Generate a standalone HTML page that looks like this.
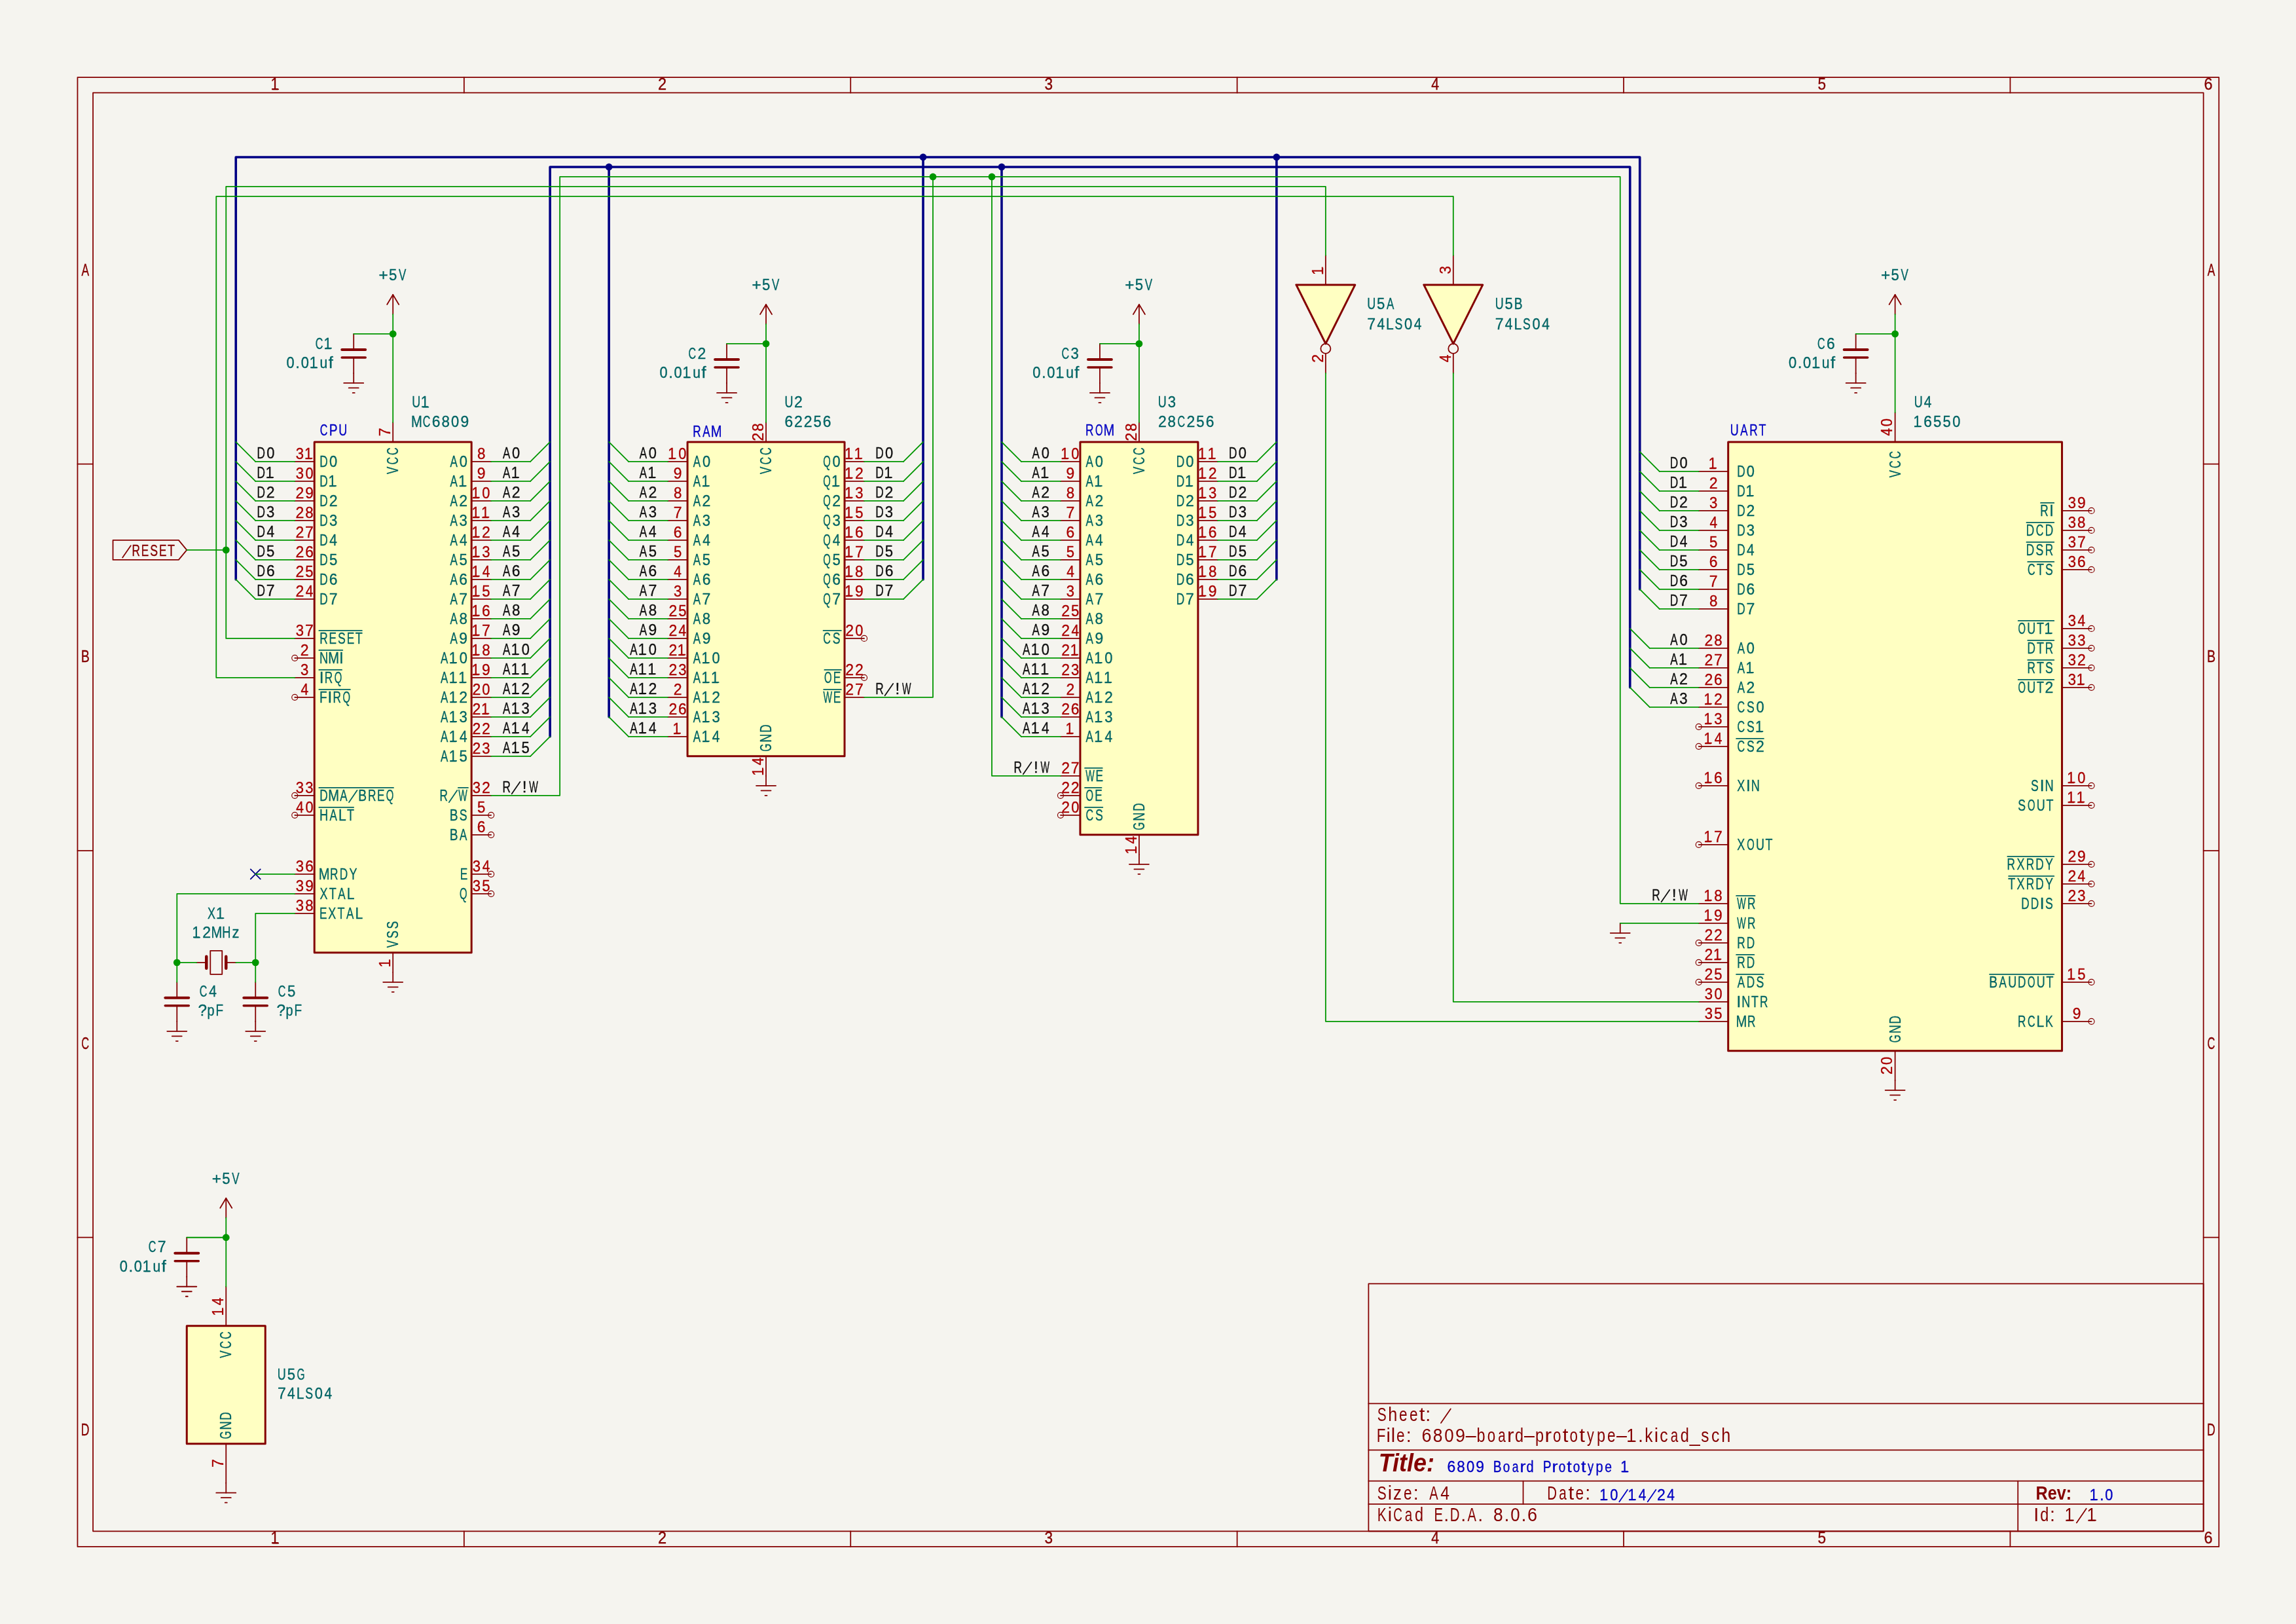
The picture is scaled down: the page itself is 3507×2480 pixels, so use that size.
<!DOCTYPE html><html><head><meta charset="utf-8"><title>6809 Board Prototype 1</title><style>html,body{margin:0;padding:0;background:#F5F4EF;overflow:hidden} #w{will-change:transform;width:3507px;height:2480px}</style></head><body><div id="w"><svg width="3507" height="2480" viewBox="0 0 297 210" preserveAspectRatio="none" style="display:block"><rect x="0" y="0" width="297" height="210" fill="#F5F4EF"/><style>text{stroke-width:0.03px}</style><g transform="translate(0.03 0)" stroke-linecap="round" stroke-linejoin="round" font-family="'Liberation Sans', sans-serif"><rect x="10" y="10" width="277" height="190" fill="none" stroke="#840000" stroke-width="0.15"/>
<rect x="12" y="12" width="273" height="186" fill="none" stroke="#840000" stroke-width="0.15"/>
<line x1="60" y1="10" x2="60" y2="12" stroke="#840000" stroke-width="0.15"/>
<line x1="60" y1="198" x2="60" y2="200" stroke="#840000" stroke-width="0.15"/>
<line x1="110" y1="10" x2="110" y2="12" stroke="#840000" stroke-width="0.15"/>
<line x1="110" y1="198" x2="110" y2="200" stroke="#840000" stroke-width="0.15"/>
<line x1="160" y1="10" x2="160" y2="12" stroke="#840000" stroke-width="0.15"/>
<line x1="160" y1="198" x2="160" y2="200" stroke="#840000" stroke-width="0.15"/>
<line x1="210" y1="10" x2="210" y2="12" stroke="#840000" stroke-width="0.15"/>
<line x1="210" y1="198" x2="210" y2="200" stroke="#840000" stroke-width="0.15"/>
<line x1="260" y1="10" x2="260" y2="12" stroke="#840000" stroke-width="0.15"/>
<line x1="260" y1="198" x2="260" y2="200" stroke="#840000" stroke-width="0.15"/>
<line x1="10" y1="60" x2="12" y2="60" stroke="#840000" stroke-width="0.15"/>
<line x1="285" y1="60" x2="287" y2="60" stroke="#840000" stroke-width="0.15"/>
<line x1="10" y1="110" x2="12" y2="110" stroke="#840000" stroke-width="0.15"/>
<line x1="285" y1="110" x2="287" y2="110" stroke="#840000" stroke-width="0.15"/>
<line x1="10" y1="160" x2="12" y2="160" stroke="#840000" stroke-width="0.15"/>
<line x1="285" y1="160" x2="287" y2="160" stroke="#840000" stroke-width="0.15"/>
<line transform="translate(35 11.62)" x1="0.279" y1="-0.078" x2="0.982" y2="-0.078" stroke="#840000" stroke-width="0.15"/>
<text transform="translate(35 11.62) scale(0.89 1)" x="-0.023" fill="#840000" stroke="#840000" font-size="2.106">1</text>
<line transform="translate(35 199.62)" x1="0.279" y1="-0.078" x2="0.982" y2="-0.078" stroke="#840000" stroke-width="0.15"/>
<text transform="translate(35 199.62) scale(0.89 1)" x="-0.023" fill="#840000" stroke="#840000" font-size="2.106">1</text>
<text transform="translate(85 11.62) scale(0.95 1)" x="0.078" fill="#840000" stroke="#840000" font-size="2.106">2</text>
<text transform="translate(85 199.62) scale(0.95 1)" x="0.078" fill="#840000" stroke="#840000" font-size="2.106">2</text>
<text transform="translate(135 11.62) scale(0.91 1)" x="0.107" fill="#840000" stroke="#840000" font-size="2.106">3</text>
<text transform="translate(135 199.62) scale(0.91 1)" x="0.107" fill="#840000" stroke="#840000" font-size="2.106">3</text>
<text transform="translate(185 11.62) scale(0.86 1)" x="0.148" fill="#840000" stroke="#840000" font-size="2.106">4</text>
<text transform="translate(185 199.62) scale(0.86 1)" x="0.148" fill="#840000" stroke="#840000" font-size="2.106">4</text>
<text transform="translate(235 11.62) scale(0.91 1)" x="0.107" fill="#840000" stroke="#840000" font-size="2.106">5</text>
<text transform="translate(235 199.62) scale(0.91 1)" x="0.107" fill="#840000" stroke="#840000" font-size="2.106">5</text>
<text transform="translate(285 11.62) scale(0.94 1)" x="0.085" fill="#840000" stroke="#840000" font-size="2.106">6</text>
<text transform="translate(285 199.62) scale(0.94 1)" x="0.085" fill="#840000" stroke="#840000" font-size="2.106">6</text>
<text transform="translate(11 35.62) scale(0.7 1)" x="-0.702" fill="#840000" stroke="#840000" font-size="2.106">A</text>
<text transform="translate(286 35.62) scale(0.7 1)" x="-0.702" fill="#840000" stroke="#840000" font-size="2.106">A</text>
<text transform="translate(11 85.62) scale(0.79 1)" x="-0.702" fill="#840000" stroke="#840000" font-size="2.106">B</text>
<text transform="translate(286 85.62) scale(0.79 1)" x="-0.702" fill="#840000" stroke="#840000" font-size="2.106">B</text>
<text transform="translate(11 135.62) scale(0.66 1)" x="-0.76" fill="#840000" stroke="#840000" font-size="2.106">C</text>
<text transform="translate(286 135.62) scale(0.66 1)" x="-0.76" fill="#840000" stroke="#840000" font-size="2.106">C</text>
<text transform="translate(11 185.62) scale(0.71 1)" x="-0.76" fill="#840000" stroke="#840000" font-size="2.106">D</text>
<text transform="translate(286 185.62) scale(0.71 1)" x="-0.76" fill="#840000" stroke="#840000" font-size="2.106">D</text>
<rect x="177" y="166" width="108" height="32" fill="none" stroke="#840000" stroke-width="0.15"/>
<line x1="177" y1="194.5" x2="285" y2="194.5" stroke="#840000" stroke-width="0.15"/>
<line x1="177" y1="191.5" x2="285" y2="191.5" stroke="#840000" stroke-width="0.15"/>
<line x1="177" y1="187.5" x2="285" y2="187.5" stroke="#840000" stroke-width="0.15"/>
<line x1="177" y1="181.5" x2="285" y2="181.5" stroke="#840000" stroke-width="0.15"/>
<line x1="197" y1="191.5" x2="197" y2="194.5" stroke="#840000" stroke-width="0.15"/>
<line x1="261" y1="191.5" x2="261" y2="198" stroke="#840000" stroke-width="0.15"/>
<line transform="translate(178 183.77)" x1="8.363" y1="0.24" x2="9.623" y2="-1.59" stroke="#840000" stroke-width="0.15"/>
<text transform="translate(178 183.77) scale(0.73 1)" x="0.186" fill="#840000" font-size="2.43">S</text>
<text transform="translate(178 183.77) scale(0.88 1)" x="1.745" fill="#840000" font-size="2.43">h</text>
<text transform="translate(178 183.77) scale(0.79 1)" x="3.729 5.438" fill="#840000" font-size="2.43">ee</text>
<text transform="translate(178 183.77) scale(1.09 1)" x="5.091" fill="#840000" font-size="2.43">t</text>
<text transform="translate(178 183.77)" x="6.367" fill="#840000" font-size="2.43">:</text>
<line transform="translate(178 186.46)" x1="32.693" y1="-0.09" x2="33.503" y2="-0.09" stroke="#840000" stroke-width="0.15"/>
<text transform="translate(178 186.46) scale(0.78 1)" x="0.075" fill="#840000" font-size="2.43">F</text>
<text transform="translate(178 186.46)" x="1.305 1.905" fill="#840000" font-size="2.43">il</text>
<text transform="translate(178 186.46) scale(0.79 1)" x="3.312" fill="#840000" font-size="2.43">e</text>
<text transform="translate(178 186.46)" x="3.862" fill="#840000" font-size="2.43">:</text>
<text transform="translate(178 186.46) scale(0.94 1)" x="6.242" fill="#840000" font-size="2.43">6</text>
<text transform="translate(178 186.46) scale(0.92 1)" x="7.974" fill="#840000" font-size="2.43">8</text>
<text transform="translate(178 186.46) scale(0.9 1)" x="9.783" fill="#840000" font-size="2.43">0</text>
<text transform="translate(178 186.46) scale(0.94 1)" x="10.885" fill="#840000" font-size="2.43">9</text>
<text transform="translate(178 186.46)" x="11.557" fill="#840000" font-size="2.43">–</text>
<text transform="translate(178 186.46) scale(0.82 1)" x="15.843" fill="#840000" font-size="2.43">b</text>
<text transform="translate(178 186.46) scale(0.78 1)" x="18.42" fill="#840000" font-size="2.43">o</text>
<text transform="translate(178 186.46) scale(0.72 1)" x="21.887" fill="#840000" font-size="2.43">a</text>
<text transform="translate(178 186.46) scale(1.11 1)" x="15.244" fill="#840000" font-size="2.43">r</text>
<text transform="translate(178 186.46) scale(0.82 1)" x="21.879" fill="#840000" font-size="2.43">d</text>
<text transform="translate(178 186.46)" x="19.132" fill="#840000" font-size="2.43">–</text>
<text transform="translate(178 186.46) scale(0.82 1)" x="25.08" fill="#840000" font-size="2.43">p</text>
<text transform="translate(178 186.46) scale(1.11 1)" x="19.636" fill="#840000" font-size="2.43">r</text>
<text transform="translate(178 186.46) scale(0.78 1)" x="29.286" fill="#840000" font-size="2.43">o</text>
<text transform="translate(178 186.46) scale(1.09 1)" x="22.101" fill="#840000" font-size="2.43">t</text>
<text transform="translate(178 186.46) scale(0.78 1)" x="32.074" fill="#840000" font-size="2.43">o</text>
<text transform="translate(178 186.46) scale(1.09 1)" x="24.096" fill="#840000" font-size="2.43">t</text>
<text transform="translate(178 186.46) scale(0.75 1)" x="36.352" fill="#840000" font-size="2.43">y</text>
<text transform="translate(178 186.46) scale(0.82 1)" x="34.775" fill="#840000" font-size="2.43">p</text>
<text transform="translate(178 186.46) scale(0.79 1)" x="37.831" fill="#840000" font-size="2.43">e</text>
<text transform="translate(178 186.46)" x="31.057" fill="#840000" font-size="2.43">–</text>
<text transform="translate(178 186.46) scale(0.89 1)" x="36.344" fill="#840000" font-size="2.43">1</text>
<text transform="translate(178 186.46)" x="33.862" fill="#840000" font-size="2.43">.</text>
<text transform="translate(178 186.46) scale(0.85 1)" x="40.863" fill="#840000" font-size="2.43">k</text>
<text transform="translate(178 186.46)" x="35.955" fill="#840000" font-size="2.43">i</text>
<text transform="translate(178 186.46) scale(0.86 1)" x="42.648" fill="#840000" font-size="2.43">c</text>
<text transform="translate(178 186.46) scale(0.72 1)" x="52.866" fill="#840000" font-size="2.43">a</text>
<text transform="translate(178 186.46) scale(0.82 1)" x="47.983" fill="#840000" font-size="2.43">d</text>
<text transform="translate(178 186.46)" x="40.537" fill="#840000" font-size="2.43">_</text>
<text transform="translate(178 186.46) scale(0.85 1)" x="49.422" fill="#840000" font-size="2.43">s</text>
<text transform="translate(178 186.46) scale(0.86 1)" x="50.41" fill="#840000" font-size="2.43">c</text>
<text transform="translate(178 186.46) scale(0.88 1)" x="50.716" fill="#840000" font-size="2.43">h</text>
<text transform="translate(178.3 190.3) scale(0.94 1)" fill="#840000" font-size="3.24" font-weight="bold" font-style="italic">Title:</text>
<text transform="translate(178 193.87) scale(0.73 1)" x="0.186" fill="#840000" font-size="2.43">S</text>
<text transform="translate(178 193.87)" x="1.485" fill="#840000" font-size="2.43">i</text>
<text transform="translate(178 193.87) scale(0.9 1)" x="2.426" fill="#840000" font-size="2.43">z</text>
<text transform="translate(178 193.87) scale(0.79 1)" x="4.489" fill="#840000" font-size="2.43">e</text>
<text transform="translate(178 193.87)" x="4.792" fill="#840000" font-size="2.43">:</text>
<text transform="translate(178 193.87) scale(0.7 1)" x="9.807" fill="#840000" font-size="2.43">A</text>
<text transform="translate(178 193.87) scale(0.86 1)" x="9.659" fill="#840000" font-size="2.43">4</text>
<text transform="translate(200 193.87) scale(0.71 1)" x="0.147" fill="#840000" font-size="2.43">D</text>
<text transform="translate(200 193.87) scale(0.72 1)" x="2.283" fill="#840000" font-size="2.43">a</text>
<text transform="translate(200 193.87) scale(1.09 1)" x="2.614" fill="#840000" font-size="2.43">t</text>
<text transform="translate(200 193.87) scale(0.79 1)" x="4.774" fill="#840000" font-size="2.43">e</text>
<text transform="translate(200 193.87)" x="5.017" fill="#840000" font-size="2.43">:</text>
<text transform="translate(263.3 193.87) scale(0.88 1)" fill="#840000" font-size="2.43" font-weight="bold">Rev:</text>
<text transform="translate(178 196.67) scale(0.73 1)" x="0.186" fill="#840000" font-size="2.43">K</text>
<text transform="translate(178 196.67)" x="1.485" fill="#840000" font-size="2.43">i</text>
<text transform="translate(178 196.67) scale(0.66 1)" x="3.338" fill="#840000" font-size="2.43">C</text>
<text transform="translate(178 196.67) scale(0.72 1)" x="5.137" fill="#840000" font-size="2.43">a</text>
<text transform="translate(178 196.67) scale(0.82 1)" x="6.074" fill="#840000" font-size="2.43">d</text>
<text transform="translate(178 196.67) scale(0.71 1)" x="10.524" fill="#840000" font-size="2.43">E</text>
<text transform="translate(178 196.67)" x="8.722" fill="#840000" font-size="2.43">.</text>
<text transform="translate(178 196.67) scale(0.71 1)" x="13.436" fill="#840000" font-size="2.43">D</text>
<text transform="translate(178 196.67)" x="10.927" fill="#840000" font-size="2.43">.</text>
<text transform="translate(178 196.67) scale(0.7 1)" x="16.857" fill="#840000" font-size="2.43">A</text>
<text transform="translate(178 196.67)" x="13.132" fill="#840000" font-size="2.43">.</text>
<text transform="translate(178 196.67) scale(0.92 1)" x="16.468" fill="#840000" font-size="2.43">8</text>
<text transform="translate(178 196.67)" x="16.537" fill="#840000" font-size="2.43">.</text>
<text transform="translate(178 196.67) scale(0.9 1)" x="19.299" fill="#840000" font-size="2.43">0</text>
<text transform="translate(178 196.67)" x="18.742" fill="#840000" font-size="2.43">.</text>
<text transform="translate(178 196.67) scale(0.94 1)" x="20.795" fill="#840000" font-size="2.43">6</text>
<line transform="translate(263 196.67)" x1="5.588" y1="0.24" x2="6.848" y2="-1.59" stroke="#840000" stroke-width="0.15"/>
<line transform="translate(263 196.67)" x1="4.373" y1="-0.09" x2="5.183" y2="-0.09" stroke="#840000" stroke-width="0.15"/>
<line transform="translate(263 196.67)" x1="7.253" y1="-0.09" x2="8.062" y2="-0.09" stroke="#840000" stroke-width="0.15"/>
<text transform="translate(263 196.67)" x="0.037" fill="#840000" font-size="2.43">I</text>
<text transform="translate(263 196.67) scale(0.82 1)" x="1.062" fill="#840000" font-size="2.43">d</text>
<text transform="translate(263 196.67)" x="2.137" fill="#840000" font-size="2.43">:</text>
<text transform="translate(263 196.67) scale(0.89 1)" x="4.524" fill="#840000" font-size="2.43">1</text>
<text transform="translate(263 196.67) scale(0.89 1)" x="7.76" fill="#840000" font-size="2.43">1</text>
<line transform="translate(187.1 190.37)" x1="22.777" y1="-0.076" x2="23.463" y2="-0.076" stroke="#0000C2" stroke-width="0.15"/>
<text transform="translate(187.1 190.37) scale(0.94 1)" x="0.083" fill="#0000C2" stroke="#0000C2" font-size="2.057">6</text>
<text transform="translate(187.1 190.37) scale(0.92 1)" x="1.436" fill="#0000C2" stroke="#0000C2" font-size="2.057">8</text>
<text transform="translate(187.1 190.37) scale(0.9 1)" x="2.85" fill="#0000C2" stroke="#0000C2" font-size="2.057">0</text>
<text transform="translate(187.1 190.37) scale(0.94 1)" x="4.015" fill="#0000C2" stroke="#0000C2" font-size="2.057">9</text>
<text transform="translate(187.1 190.37) scale(0.79 1)" x="7.617" fill="#0000C2" stroke="#0000C2" font-size="2.057">B</text>
<text transform="translate(187.1 190.37) scale(0.78 1)" x="9.36" fill="#0000C2" stroke="#0000C2" font-size="2.057">o</text>
<text transform="translate(187.1 190.37) scale(0.72 1)" x="11.775" fill="#0000C2" stroke="#0000C2" font-size="2.057">a</text>
<text transform="translate(187.1 190.37) scale(1.11 1)" x="8.525" fill="#0000C2" stroke="#0000C2" font-size="2.057">r</text>
<text transform="translate(187.1 190.37) scale(0.82 1)" x="12.593" fill="#0000C2" stroke="#0000C2" font-size="2.057">d</text>
<text transform="translate(187.1 190.37) scale(0.79 1)" x="15.768" fill="#0000C2" stroke="#0000C2" font-size="2.057">P</text>
<text transform="translate(187.1 190.37) scale(1.11 1)" x="12.266" fill="#0000C2" stroke="#0000C2" font-size="2.057">r</text>
<text transform="translate(187.1 190.37) scale(0.78 1)" x="18.592" fill="#0000C2" stroke="#0000C2" font-size="2.057">o</text>
<text transform="translate(187.1 190.37) scale(1.09 1)" x="14.273" fill="#0000C2" stroke="#0000C2" font-size="2.057">t</text>
<text transform="translate(187.1 190.37) scale(0.78 1)" x="20.953" fill="#0000C2" stroke="#0000C2" font-size="2.057">o</text>
<text transform="translate(187.1 190.37) scale(1.09 1)" x="15.962" fill="#0000C2" stroke="#0000C2" font-size="2.057">t</text>
<text transform="translate(187.1 190.37) scale(0.75 1)" x="24.327" fill="#0000C2" stroke="#0000C2" font-size="2.057">y</text>
<text transform="translate(187.1 190.37) scale(0.82 1)" x="23.542" fill="#0000C2" stroke="#0000C2" font-size="2.057">p</text>
<text transform="translate(187.1 190.37) scale(0.79 1)" x="25.905" fill="#0000C2" stroke="#0000C2" font-size="2.057">e</text>
<text transform="translate(187.1 190.37) scale(0.89 1)" x="25.263" fill="#0000C2" stroke="#0000C2" font-size="2.057">1</text>
<line transform="translate(206.9 193.99)" x1="2.534" y1="0.203" x2="3.6" y2="-1.346" stroke="#0000C2" stroke-width="0.15"/>
<line transform="translate(206.9 193.99)" x1="6.204" y1="0.203" x2="7.271" y2="-1.346" stroke="#0000C2" stroke-width="0.15"/>
<line transform="translate(206.9 193.99)" x1="0.273" y1="-0.076" x2="0.959" y2="-0.076" stroke="#0000C2" stroke-width="0.15"/>
<line transform="translate(206.9 193.99)" x1="3.943" y1="-0.076" x2="4.629" y2="-0.076" stroke="#0000C2" stroke-width="0.15"/>
<text transform="translate(206.9 193.99) scale(0.89 1)" x="-0.023" fill="#0000C2" stroke="#0000C2" font-size="2.057">1</text>
<text transform="translate(206.9 193.99) scale(0.9 1)" x="1.481" fill="#0000C2" stroke="#0000C2" font-size="2.057">0</text>
<text transform="translate(206.9 193.99) scale(0.89 1)" x="4.101" fill="#0000C2" stroke="#0000C2" font-size="2.057">1</text>
<text transform="translate(206.9 193.99) scale(0.86 1)" x="5.844" fill="#0000C2" stroke="#0000C2" font-size="2.057">4</text>
<text transform="translate(206.9 193.99) scale(0.95 1)" x="7.803" fill="#0000C2" stroke="#0000C2" font-size="2.057">2</text>
<text transform="translate(206.9 193.99) scale(0.86 1)" x="10.112" fill="#0000C2" stroke="#0000C2" font-size="2.057">4</text>
<line transform="translate(270.3 193.99)" x1="0.273" y1="-0.076" x2="0.959" y2="-0.076" stroke="#0000C2" stroke-width="0.15"/>
<text transform="translate(270.3 193.99) scale(0.89 1)" x="-0.023" fill="#0000C2" stroke="#0000C2" font-size="2.057">1</text>
<text transform="translate(270.3 193.99)" x="1.264" fill="#0000C2" stroke="#0000C2" font-size="2.057">.</text>
<text transform="translate(270.3 193.99) scale(0.9 1)" x="2.187" fill="#0000C2" stroke="#0000C2" font-size="2.057">0</text>
<line x1="209.55" y1="119.38" x2="209.55" y2="120.65" stroke="#840000" stroke-width="0.152"/>
<line x1="208.28" y1="120.65" x2="210.82" y2="120.65" stroke="#840000" stroke-width="0.152"/>
<line x1="208.915" y1="121.285" x2="210.185" y2="121.285" stroke="#840000" stroke-width="0.152"/>
<line x1="209.423" y1="121.92" x2="209.677" y2="121.92" stroke="#840000" stroke-width="0.152"/>
<line x1="32.385" y1="112.395" x2="33.655" y2="113.665" stroke="#000084" stroke-width="0.152"/>
<line x1="32.385" y1="113.665" x2="33.655" y2="112.395" stroke="#000084" stroke-width="0.152"/>
<text transform="translate(33.12 59.27) scale(0.71 1)" x="0.125" fill="#0F0F0F" stroke="#0F0F0F" font-size="2.057">D</text>
<text transform="translate(33.12 59.27) scale(0.9 1)" x="1.481" fill="#0F0F0F" stroke="#0F0F0F" font-size="2.057">0</text>
<text transform="translate(113.13 59.27) scale(0.71 1)" x="0.125" fill="#0F0F0F" stroke="#0F0F0F" font-size="2.057">D</text>
<text transform="translate(113.13 59.27) scale(0.9 1)" x="1.481" fill="#0F0F0F" stroke="#0F0F0F" font-size="2.057">0</text>
<text transform="translate(158.85 59.27) scale(0.71 1)" x="0.125" fill="#0F0F0F" stroke="#0F0F0F" font-size="2.057">D</text>
<text transform="translate(158.85 59.27) scale(0.9 1)" x="1.481" fill="#0F0F0F" stroke="#0F0F0F" font-size="2.057">0</text>
<text transform="translate(218.36 60.54) scale(0.71 1)" x="-3.345" fill="#0F0F0F" stroke="#0F0F0F" font-size="2.057">D</text>
<text transform="translate(218.36 60.54) scale(0.9 1)" x="-1.257" fill="#0F0F0F" stroke="#0F0F0F" font-size="2.057">0</text>
<line transform="translate(33.12 61.81)" x1="1.505" y1="-0.076" x2="2.191" y2="-0.076" stroke="#0F0F0F" stroke-width="0.15"/>
<text transform="translate(33.12 61.81) scale(0.71 1)" x="0.125" fill="#0F0F0F" stroke="#0F0F0F" font-size="2.057">D</text>
<text transform="translate(33.12 61.81) scale(0.89 1)" x="1.361" fill="#0F0F0F" stroke="#0F0F0F" font-size="2.057">1</text>
<line transform="translate(113.13 61.81)" x1="1.505" y1="-0.076" x2="2.191" y2="-0.076" stroke="#0F0F0F" stroke-width="0.15"/>
<text transform="translate(113.13 61.81) scale(0.71 1)" x="0.125" fill="#0F0F0F" stroke="#0F0F0F" font-size="2.057">D</text>
<text transform="translate(113.13 61.81) scale(0.89 1)" x="1.361" fill="#0F0F0F" stroke="#0F0F0F" font-size="2.057">1</text>
<line transform="translate(158.85 61.81)" x1="1.505" y1="-0.076" x2="2.191" y2="-0.076" stroke="#0F0F0F" stroke-width="0.15"/>
<text transform="translate(158.85 61.81) scale(0.71 1)" x="0.125" fill="#0F0F0F" stroke="#0F0F0F" font-size="2.057">D</text>
<text transform="translate(158.85 61.81) scale(0.89 1)" x="1.361" fill="#0F0F0F" stroke="#0F0F0F" font-size="2.057">1</text>
<line transform="translate(218.36 63.08)" x1="-0.959" y1="-0.076" x2="-0.273" y2="-0.076" stroke="#0F0F0F" stroke-width="0.15"/>
<text transform="translate(218.36 63.08) scale(0.71 1)" x="-3.345" fill="#0F0F0F" stroke="#0F0F0F" font-size="2.057">D</text>
<text transform="translate(218.36 63.08) scale(0.89 1)" x="-1.407" fill="#0F0F0F" stroke="#0F0F0F" font-size="2.057">1</text>
<text transform="translate(33.12 64.35) scale(0.71 1)" x="0.125" fill="#0F0F0F" stroke="#0F0F0F" font-size="2.057">D</text>
<text transform="translate(33.12 64.35) scale(0.95 1)" x="1.373" fill="#0F0F0F" stroke="#0F0F0F" font-size="2.057">2</text>
<text transform="translate(113.13 64.35) scale(0.71 1)" x="0.125" fill="#0F0F0F" stroke="#0F0F0F" font-size="2.057">D</text>
<text transform="translate(113.13 64.35) scale(0.95 1)" x="1.373" fill="#0F0F0F" stroke="#0F0F0F" font-size="2.057">2</text>
<text transform="translate(158.85 64.35) scale(0.71 1)" x="0.125" fill="#0F0F0F" stroke="#0F0F0F" font-size="2.057">D</text>
<text transform="translate(158.85 64.35) scale(0.95 1)" x="1.373" fill="#0F0F0F" stroke="#0F0F0F" font-size="2.057">2</text>
<text transform="translate(218.36 65.62) scale(0.71 1)" x="-3.345" fill="#0F0F0F" stroke="#0F0F0F" font-size="2.057">D</text>
<text transform="translate(218.36 65.62) scale(0.95 1)" x="-1.22" fill="#0F0F0F" stroke="#0F0F0F" font-size="2.057">2</text>
<text transform="translate(33.12 66.89) scale(0.71 1)" x="0.125" fill="#0F0F0F" stroke="#0F0F0F" font-size="2.057">D</text>
<text transform="translate(33.12 66.89) scale(0.91 1)" x="1.458" fill="#0F0F0F" stroke="#0F0F0F" font-size="2.057">3</text>
<text transform="translate(113.13 66.89) scale(0.71 1)" x="0.125" fill="#0F0F0F" stroke="#0F0F0F" font-size="2.057">D</text>
<text transform="translate(113.13 66.89) scale(0.91 1)" x="1.458" fill="#0F0F0F" stroke="#0F0F0F" font-size="2.057">3</text>
<text transform="translate(158.85 66.89) scale(0.71 1)" x="0.125" fill="#0F0F0F" stroke="#0F0F0F" font-size="2.057">D</text>
<text transform="translate(158.85 66.89) scale(0.91 1)" x="1.458" fill="#0F0F0F" stroke="#0F0F0F" font-size="2.057">3</text>
<text transform="translate(218.36 68.16) scale(0.71 1)" x="-3.345" fill="#0F0F0F" stroke="#0F0F0F" font-size="2.057">D</text>
<text transform="translate(218.36 68.16) scale(0.91 1)" x="-1.249" fill="#0F0F0F" stroke="#0F0F0F" font-size="2.057">3</text>
<text transform="translate(33.12 69.43) scale(0.71 1)" x="0.125" fill="#0F0F0F" stroke="#0F0F0F" font-size="2.057">D</text>
<text transform="translate(33.12 69.43) scale(0.86 1)" x="1.577" fill="#0F0F0F" stroke="#0F0F0F" font-size="2.057">4</text>
<text transform="translate(113.13 69.43) scale(0.71 1)" x="0.125" fill="#0F0F0F" stroke="#0F0F0F" font-size="2.057">D</text>
<text transform="translate(113.13 69.43) scale(0.86 1)" x="1.577" fill="#0F0F0F" stroke="#0F0F0F" font-size="2.057">4</text>
<text transform="translate(158.85 69.43) scale(0.71 1)" x="0.125" fill="#0F0F0F" stroke="#0F0F0F" font-size="2.057">D</text>
<text transform="translate(158.85 69.43) scale(0.86 1)" x="1.577" fill="#0F0F0F" stroke="#0F0F0F" font-size="2.057">4</text>
<text transform="translate(218.36 70.7) scale(0.71 1)" x="-3.345" fill="#0F0F0F" stroke="#0F0F0F" font-size="2.057">D</text>
<text transform="translate(218.36 70.7) scale(0.86 1)" x="-1.288" fill="#0F0F0F" stroke="#0F0F0F" font-size="2.057">4</text>
<text transform="translate(33.12 71.97) scale(0.71 1)" x="0.125" fill="#0F0F0F" stroke="#0F0F0F" font-size="2.057">D</text>
<text transform="translate(33.12 71.97) scale(0.91 1)" x="1.458" fill="#0F0F0F" stroke="#0F0F0F" font-size="2.057">5</text>
<text transform="translate(113.13 71.97) scale(0.71 1)" x="0.125" fill="#0F0F0F" stroke="#0F0F0F" font-size="2.057">D</text>
<text transform="translate(113.13 71.97) scale(0.91 1)" x="1.458" fill="#0F0F0F" stroke="#0F0F0F" font-size="2.057">5</text>
<text transform="translate(158.85 71.97) scale(0.71 1)" x="0.125" fill="#0F0F0F" stroke="#0F0F0F" font-size="2.057">D</text>
<text transform="translate(158.85 71.97) scale(0.91 1)" x="1.458" fill="#0F0F0F" stroke="#0F0F0F" font-size="2.057">5</text>
<text transform="translate(218.36 73.24) scale(0.71 1)" x="-3.345" fill="#0F0F0F" stroke="#0F0F0F" font-size="2.057">D</text>
<text transform="translate(218.36 73.24) scale(0.91 1)" x="-1.249" fill="#0F0F0F" stroke="#0F0F0F" font-size="2.057">5</text>
<text transform="translate(33.12 74.51) scale(0.71 1)" x="0.125" fill="#0F0F0F" stroke="#0F0F0F" font-size="2.057">D</text>
<text transform="translate(33.12 74.51) scale(0.94 1)" x="1.394" fill="#0F0F0F" stroke="#0F0F0F" font-size="2.057">6</text>
<text transform="translate(113.13 74.51) scale(0.71 1)" x="0.125" fill="#0F0F0F" stroke="#0F0F0F" font-size="2.057">D</text>
<text transform="translate(113.13 74.51) scale(0.94 1)" x="1.394" fill="#0F0F0F" stroke="#0F0F0F" font-size="2.057">6</text>
<text transform="translate(158.85 74.51) scale(0.71 1)" x="0.125" fill="#0F0F0F" stroke="#0F0F0F" font-size="2.057">D</text>
<text transform="translate(158.85 74.51) scale(0.94 1)" x="1.394" fill="#0F0F0F" stroke="#0F0F0F" font-size="2.057">6</text>
<text transform="translate(218.36 75.78) scale(0.71 1)" x="-3.345" fill="#0F0F0F" stroke="#0F0F0F" font-size="2.057">D</text>
<text transform="translate(218.36 75.78) scale(0.94 1)" x="-1.227" fill="#0F0F0F" stroke="#0F0F0F" font-size="2.057">6</text>
<text transform="translate(33.12 77.05) scale(0.71 1)" x="0.125" fill="#0F0F0F" stroke="#0F0F0F" font-size="2.057">D</text>
<text transform="translate(33.12 77.05) scale(0.95 1)" x="1.373" fill="#0F0F0F" stroke="#0F0F0F" font-size="2.057">7</text>
<text transform="translate(113.13 77.05) scale(0.71 1)" x="0.125" fill="#0F0F0F" stroke="#0F0F0F" font-size="2.057">D</text>
<text transform="translate(113.13 77.05) scale(0.95 1)" x="1.373" fill="#0F0F0F" stroke="#0F0F0F" font-size="2.057">7</text>
<text transform="translate(158.85 77.05) scale(0.71 1)" x="0.125" fill="#0F0F0F" stroke="#0F0F0F" font-size="2.057">D</text>
<text transform="translate(158.85 77.05) scale(0.95 1)" x="1.373" fill="#0F0F0F" stroke="#0F0F0F" font-size="2.057">7</text>
<text transform="translate(218.36 78.32) scale(0.71 1)" x="-3.345" fill="#0F0F0F" stroke="#0F0F0F" font-size="2.057">D</text>
<text transform="translate(218.36 78.32) scale(0.95 1)" x="-1.22" fill="#0F0F0F" stroke="#0F0F0F" font-size="2.057">7</text>
<text transform="translate(64.87 59.27) scale(0.7 1)" x="0.194" fill="#0F0F0F" stroke="#0F0F0F" font-size="2.057">A</text>
<text transform="translate(64.87 59.27) scale(0.9 1)" x="1.481" fill="#0F0F0F" stroke="#0F0F0F" font-size="2.057">0</text>
<line transform="translate(64.87 61.81)" x1="1.505" y1="-0.076" x2="2.191" y2="-0.076" stroke="#0F0F0F" stroke-width="0.15"/>
<text transform="translate(64.87 61.81) scale(0.7 1)" x="0.194" fill="#0F0F0F" stroke="#0F0F0F" font-size="2.057">A</text>
<text transform="translate(64.87 61.81) scale(0.89 1)" x="1.361" fill="#0F0F0F" stroke="#0F0F0F" font-size="2.057">1</text>
<text transform="translate(64.87 64.35) scale(0.7 1)" x="0.194" fill="#0F0F0F" stroke="#0F0F0F" font-size="2.057">A</text>
<text transform="translate(64.87 64.35) scale(0.95 1)" x="1.373" fill="#0F0F0F" stroke="#0F0F0F" font-size="2.057">2</text>
<text transform="translate(64.87 66.89) scale(0.7 1)" x="0.194" fill="#0F0F0F" stroke="#0F0F0F" font-size="2.057">A</text>
<text transform="translate(64.87 66.89) scale(0.91 1)" x="1.458" fill="#0F0F0F" stroke="#0F0F0F" font-size="2.057">3</text>
<text transform="translate(64.87 69.43) scale(0.7 1)" x="0.194" fill="#0F0F0F" stroke="#0F0F0F" font-size="2.057">A</text>
<text transform="translate(64.87 69.43) scale(0.86 1)" x="1.577" fill="#0F0F0F" stroke="#0F0F0F" font-size="2.057">4</text>
<text transform="translate(64.87 71.97) scale(0.7 1)" x="0.194" fill="#0F0F0F" stroke="#0F0F0F" font-size="2.057">A</text>
<text transform="translate(64.87 71.97) scale(0.91 1)" x="1.458" fill="#0F0F0F" stroke="#0F0F0F" font-size="2.057">5</text>
<text transform="translate(64.87 74.51) scale(0.7 1)" x="0.194" fill="#0F0F0F" stroke="#0F0F0F" font-size="2.057">A</text>
<text transform="translate(64.87 74.51) scale(0.94 1)" x="1.394" fill="#0F0F0F" stroke="#0F0F0F" font-size="2.057">6</text>
<text transform="translate(64.87 77.05) scale(0.7 1)" x="0.194" fill="#0F0F0F" stroke="#0F0F0F" font-size="2.057">A</text>
<text transform="translate(64.87 77.05) scale(0.95 1)" x="1.373" fill="#0F0F0F" stroke="#0F0F0F" font-size="2.057">7</text>
<text transform="translate(64.87 79.59) scale(0.7 1)" x="0.194" fill="#0F0F0F" stroke="#0F0F0F" font-size="2.057">A</text>
<text transform="translate(64.87 79.59) scale(0.92 1)" x="1.436" fill="#0F0F0F" stroke="#0F0F0F" font-size="2.057">8</text>
<text transform="translate(64.87 82.13) scale(0.7 1)" x="0.194" fill="#0F0F0F" stroke="#0F0F0F" font-size="2.057">A</text>
<text transform="translate(64.87 82.13) scale(0.94 1)" x="1.394" fill="#0F0F0F" stroke="#0F0F0F" font-size="2.057">9</text>
<line transform="translate(64.87 84.67)" x1="1.505" y1="-0.076" x2="2.191" y2="-0.076" stroke="#0F0F0F" stroke-width="0.15"/>
<text transform="translate(64.87 84.67) scale(0.7 1)" x="0.194" fill="#0F0F0F" stroke="#0F0F0F" font-size="2.057">A</text>
<text transform="translate(64.87 84.67) scale(0.89 1)" x="1.361" fill="#0F0F0F" stroke="#0F0F0F" font-size="2.057">1</text>
<text transform="translate(64.87 84.67) scale(0.9 1)" x="2.85" fill="#0F0F0F" stroke="#0F0F0F" font-size="2.057">0</text>
<line transform="translate(64.87 87.21)" x1="1.505" y1="-0.076" x2="2.191" y2="-0.076" stroke="#0F0F0F" stroke-width="0.15"/>
<line transform="translate(64.87 87.21)" x1="2.737" y1="-0.076" x2="3.423" y2="-0.076" stroke="#0F0F0F" stroke-width="0.15"/>
<text transform="translate(64.87 87.21) scale(0.7 1)" x="0.194" fill="#0F0F0F" stroke="#0F0F0F" font-size="2.057">A</text>
<text transform="translate(64.87 87.21) scale(0.89 1)" x="1.361 2.746" fill="#0F0F0F" stroke="#0F0F0F" font-size="2.057">11</text>
<line transform="translate(64.87 89.75)" x1="1.505" y1="-0.076" x2="2.191" y2="-0.076" stroke="#0F0F0F" stroke-width="0.15"/>
<text transform="translate(64.87 89.75) scale(0.7 1)" x="0.194" fill="#0F0F0F" stroke="#0F0F0F" font-size="2.057">A</text>
<text transform="translate(64.87 89.75) scale(0.89 1)" x="1.361" fill="#0F0F0F" stroke="#0F0F0F" font-size="2.057">1</text>
<text transform="translate(64.87 89.75) scale(0.95 1)" x="2.67" fill="#0F0F0F" stroke="#0F0F0F" font-size="2.057">2</text>
<line transform="translate(64.87 92.29)" x1="1.505" y1="-0.076" x2="2.191" y2="-0.076" stroke="#0F0F0F" stroke-width="0.15"/>
<text transform="translate(64.87 92.29) scale(0.7 1)" x="0.194" fill="#0F0F0F" stroke="#0F0F0F" font-size="2.057">A</text>
<text transform="translate(64.87 92.29) scale(0.89 1)" x="1.361" fill="#0F0F0F" stroke="#0F0F0F" font-size="2.057">1</text>
<text transform="translate(64.87 92.29) scale(0.91 1)" x="2.812" fill="#0F0F0F" stroke="#0F0F0F" font-size="2.057">3</text>
<line transform="translate(64.87 94.83)" x1="1.505" y1="-0.076" x2="2.191" y2="-0.076" stroke="#0F0F0F" stroke-width="0.15"/>
<text transform="translate(64.87 94.83) scale(0.7 1)" x="0.194" fill="#0F0F0F" stroke="#0F0F0F" font-size="2.057">A</text>
<text transform="translate(64.87 94.83) scale(0.89 1)" x="1.361" fill="#0F0F0F" stroke="#0F0F0F" font-size="2.057">1</text>
<text transform="translate(64.87 94.83) scale(0.86 1)" x="3.009" fill="#0F0F0F" stroke="#0F0F0F" font-size="2.057">4</text>
<line transform="translate(64.87 97.37)" x1="1.505" y1="-0.076" x2="2.191" y2="-0.076" stroke="#0F0F0F" stroke-width="0.15"/>
<text transform="translate(64.87 97.37) scale(0.7 1)" x="0.194" fill="#0F0F0F" stroke="#0F0F0F" font-size="2.057">A</text>
<text transform="translate(64.87 97.37) scale(0.89 1)" x="1.361" fill="#0F0F0F" stroke="#0F0F0F" font-size="2.057">1</text>
<text transform="translate(64.87 97.37) scale(0.91 1)" x="2.812" fill="#0F0F0F" stroke="#0F0F0F" font-size="2.057">5</text>
<text transform="translate(85.01 59.27) scale(0.7 1)" x="-3.326" fill="#0F0F0F" stroke="#0F0F0F" font-size="2.057">A</text>
<text transform="translate(85.01 59.27) scale(0.9 1)" x="-1.257" fill="#0F0F0F" stroke="#0F0F0F" font-size="2.057">0</text>
<text transform="translate(135.81 59.27) scale(0.7 1)" x="-3.326" fill="#0F0F0F" stroke="#0F0F0F" font-size="2.057">A</text>
<text transform="translate(135.81 59.27) scale(0.9 1)" x="-1.257" fill="#0F0F0F" stroke="#0F0F0F" font-size="2.057">0</text>
<line transform="translate(85.01 61.81)" x1="-0.959" y1="-0.076" x2="-0.273" y2="-0.076" stroke="#0F0F0F" stroke-width="0.15"/>
<text transform="translate(85.01 61.81) scale(0.7 1)" x="-3.326" fill="#0F0F0F" stroke="#0F0F0F" font-size="2.057">A</text>
<text transform="translate(85.01 61.81) scale(0.89 1)" x="-1.407" fill="#0F0F0F" stroke="#0F0F0F" font-size="2.057">1</text>
<line transform="translate(135.81 61.81)" x1="-0.959" y1="-0.076" x2="-0.273" y2="-0.076" stroke="#0F0F0F" stroke-width="0.15"/>
<text transform="translate(135.81 61.81) scale(0.7 1)" x="-3.326" fill="#0F0F0F" stroke="#0F0F0F" font-size="2.057">A</text>
<text transform="translate(135.81 61.81) scale(0.89 1)" x="-1.407" fill="#0F0F0F" stroke="#0F0F0F" font-size="2.057">1</text>
<text transform="translate(85.01 64.35) scale(0.7 1)" x="-3.326" fill="#0F0F0F" stroke="#0F0F0F" font-size="2.057">A</text>
<text transform="translate(85.01 64.35) scale(0.95 1)" x="-1.22" fill="#0F0F0F" stroke="#0F0F0F" font-size="2.057">2</text>
<text transform="translate(135.81 64.35) scale(0.7 1)" x="-3.326" fill="#0F0F0F" stroke="#0F0F0F" font-size="2.057">A</text>
<text transform="translate(135.81 64.35) scale(0.95 1)" x="-1.22" fill="#0F0F0F" stroke="#0F0F0F" font-size="2.057">2</text>
<text transform="translate(85.01 66.89) scale(0.7 1)" x="-3.326" fill="#0F0F0F" stroke="#0F0F0F" font-size="2.057">A</text>
<text transform="translate(85.01 66.89) scale(0.91 1)" x="-1.249" fill="#0F0F0F" stroke="#0F0F0F" font-size="2.057">3</text>
<text transform="translate(135.81 66.89) scale(0.7 1)" x="-3.326" fill="#0F0F0F" stroke="#0F0F0F" font-size="2.057">A</text>
<text transform="translate(135.81 66.89) scale(0.91 1)" x="-1.249" fill="#0F0F0F" stroke="#0F0F0F" font-size="2.057">3</text>
<text transform="translate(85.01 69.43) scale(0.7 1)" x="-3.326" fill="#0F0F0F" stroke="#0F0F0F" font-size="2.057">A</text>
<text transform="translate(85.01 69.43) scale(0.86 1)" x="-1.288" fill="#0F0F0F" stroke="#0F0F0F" font-size="2.057">4</text>
<text transform="translate(135.81 69.43) scale(0.7 1)" x="-3.326" fill="#0F0F0F" stroke="#0F0F0F" font-size="2.057">A</text>
<text transform="translate(135.81 69.43) scale(0.86 1)" x="-1.288" fill="#0F0F0F" stroke="#0F0F0F" font-size="2.057">4</text>
<text transform="translate(85.01 71.97) scale(0.7 1)" x="-3.326" fill="#0F0F0F" stroke="#0F0F0F" font-size="2.057">A</text>
<text transform="translate(85.01 71.97) scale(0.91 1)" x="-1.249" fill="#0F0F0F" stroke="#0F0F0F" font-size="2.057">5</text>
<text transform="translate(135.81 71.97) scale(0.7 1)" x="-3.326" fill="#0F0F0F" stroke="#0F0F0F" font-size="2.057">A</text>
<text transform="translate(135.81 71.97) scale(0.91 1)" x="-1.249" fill="#0F0F0F" stroke="#0F0F0F" font-size="2.057">5</text>
<text transform="translate(85.01 74.51) scale(0.7 1)" x="-3.326" fill="#0F0F0F" stroke="#0F0F0F" font-size="2.057">A</text>
<text transform="translate(85.01 74.51) scale(0.94 1)" x="-1.227" fill="#0F0F0F" stroke="#0F0F0F" font-size="2.057">6</text>
<text transform="translate(135.81 74.51) scale(0.7 1)" x="-3.326" fill="#0F0F0F" stroke="#0F0F0F" font-size="2.057">A</text>
<text transform="translate(135.81 74.51) scale(0.94 1)" x="-1.227" fill="#0F0F0F" stroke="#0F0F0F" font-size="2.057">6</text>
<text transform="translate(85.01 77.05) scale(0.7 1)" x="-3.326" fill="#0F0F0F" stroke="#0F0F0F" font-size="2.057">A</text>
<text transform="translate(85.01 77.05) scale(0.95 1)" x="-1.22" fill="#0F0F0F" stroke="#0F0F0F" font-size="2.057">7</text>
<text transform="translate(135.81 77.05) scale(0.7 1)" x="-3.326" fill="#0F0F0F" stroke="#0F0F0F" font-size="2.057">A</text>
<text transform="translate(135.81 77.05) scale(0.95 1)" x="-1.22" fill="#0F0F0F" stroke="#0F0F0F" font-size="2.057">7</text>
<text transform="translate(85.01 79.59) scale(0.7 1)" x="-3.326" fill="#0F0F0F" stroke="#0F0F0F" font-size="2.057">A</text>
<text transform="translate(85.01 79.59) scale(0.92 1)" x="-1.242" fill="#0F0F0F" stroke="#0F0F0F" font-size="2.057">8</text>
<text transform="translate(135.81 79.59) scale(0.7 1)" x="-3.326" fill="#0F0F0F" stroke="#0F0F0F" font-size="2.057">A</text>
<text transform="translate(135.81 79.59) scale(0.92 1)" x="-1.242" fill="#0F0F0F" stroke="#0F0F0F" font-size="2.057">8</text>
<text transform="translate(85.01 82.13) scale(0.7 1)" x="-3.326" fill="#0F0F0F" stroke="#0F0F0F" font-size="2.057">A</text>
<text transform="translate(85.01 82.13) scale(0.94 1)" x="-1.227" fill="#0F0F0F" stroke="#0F0F0F" font-size="2.057">9</text>
<text transform="translate(135.81 82.13) scale(0.7 1)" x="-3.326" fill="#0F0F0F" stroke="#0F0F0F" font-size="2.057">A</text>
<text transform="translate(135.81 82.13) scale(0.94 1)" x="-1.227" fill="#0F0F0F" stroke="#0F0F0F" font-size="2.057">9</text>
<line transform="translate(85.01 84.67)" x1="-2.191" y1="-0.076" x2="-1.505" y2="-0.076" stroke="#0F0F0F" stroke-width="0.15"/>
<text transform="translate(85.01 84.67) scale(0.7 1)" x="-5.086" fill="#0F0F0F" stroke="#0F0F0F" font-size="2.057">A</text>
<text transform="translate(85.01 84.67) scale(0.89 1)" x="-2.791" fill="#0F0F0F" stroke="#0F0F0F" font-size="2.057">1</text>
<text transform="translate(85.01 84.67) scale(0.9 1)" x="-1.257" fill="#0F0F0F" stroke="#0F0F0F" font-size="2.057">0</text>
<line transform="translate(135.81 84.67)" x1="-2.191" y1="-0.076" x2="-1.505" y2="-0.076" stroke="#0F0F0F" stroke-width="0.15"/>
<text transform="translate(135.81 84.67) scale(0.7 1)" x="-5.086" fill="#0F0F0F" stroke="#0F0F0F" font-size="2.057">A</text>
<text transform="translate(135.81 84.67) scale(0.89 1)" x="-2.791" fill="#0F0F0F" stroke="#0F0F0F" font-size="2.057">1</text>
<text transform="translate(135.81 84.67) scale(0.9 1)" x="-1.257" fill="#0F0F0F" stroke="#0F0F0F" font-size="2.057">0</text>
<line transform="translate(85.01 87.21)" x1="-2.191" y1="-0.076" x2="-1.505" y2="-0.076" stroke="#0F0F0F" stroke-width="0.15"/>
<line transform="translate(85.01 87.21)" x1="-0.959" y1="-0.076" x2="-0.273" y2="-0.076" stroke="#0F0F0F" stroke-width="0.15"/>
<text transform="translate(85.01 87.21) scale(0.7 1)" x="-5.086" fill="#0F0F0F" stroke="#0F0F0F" font-size="2.057">A</text>
<text transform="translate(85.01 87.21) scale(0.89 1)" x="-2.791 -1.407" fill="#0F0F0F" stroke="#0F0F0F" font-size="2.057">11</text>
<line transform="translate(135.81 87.21)" x1="-2.191" y1="-0.076" x2="-1.505" y2="-0.076" stroke="#0F0F0F" stroke-width="0.15"/>
<line transform="translate(135.81 87.21)" x1="-0.959" y1="-0.076" x2="-0.273" y2="-0.076" stroke="#0F0F0F" stroke-width="0.15"/>
<text transform="translate(135.81 87.21) scale(0.7 1)" x="-5.086" fill="#0F0F0F" stroke="#0F0F0F" font-size="2.057">A</text>
<text transform="translate(135.81 87.21) scale(0.89 1)" x="-2.791 -1.407" fill="#0F0F0F" stroke="#0F0F0F" font-size="2.057">11</text>
<line transform="translate(85.01 89.75)" x1="-2.191" y1="-0.076" x2="-1.505" y2="-0.076" stroke="#0F0F0F" stroke-width="0.15"/>
<text transform="translate(85.01 89.75) scale(0.7 1)" x="-5.086" fill="#0F0F0F" stroke="#0F0F0F" font-size="2.057">A</text>
<text transform="translate(85.01 89.75) scale(0.89 1)" x="-2.791" fill="#0F0F0F" stroke="#0F0F0F" font-size="2.057">1</text>
<text transform="translate(85.01 89.75) scale(0.95 1)" x="-1.22" fill="#0F0F0F" stroke="#0F0F0F" font-size="2.057">2</text>
<line transform="translate(135.81 89.75)" x1="-2.191" y1="-0.076" x2="-1.505" y2="-0.076" stroke="#0F0F0F" stroke-width="0.15"/>
<text transform="translate(135.81 89.75) scale(0.7 1)" x="-5.086" fill="#0F0F0F" stroke="#0F0F0F" font-size="2.057">A</text>
<text transform="translate(135.81 89.75) scale(0.89 1)" x="-2.791" fill="#0F0F0F" stroke="#0F0F0F" font-size="2.057">1</text>
<text transform="translate(135.81 89.75) scale(0.95 1)" x="-1.22" fill="#0F0F0F" stroke="#0F0F0F" font-size="2.057">2</text>
<line transform="translate(85.01 92.29)" x1="-2.191" y1="-0.076" x2="-1.505" y2="-0.076" stroke="#0F0F0F" stroke-width="0.15"/>
<text transform="translate(85.01 92.29) scale(0.7 1)" x="-5.086" fill="#0F0F0F" stroke="#0F0F0F" font-size="2.057">A</text>
<text transform="translate(85.01 92.29) scale(0.89 1)" x="-2.791" fill="#0F0F0F" stroke="#0F0F0F" font-size="2.057">1</text>
<text transform="translate(85.01 92.29) scale(0.91 1)" x="-1.249" fill="#0F0F0F" stroke="#0F0F0F" font-size="2.057">3</text>
<line transform="translate(135.81 92.29)" x1="-2.191" y1="-0.076" x2="-1.505" y2="-0.076" stroke="#0F0F0F" stroke-width="0.15"/>
<text transform="translate(135.81 92.29) scale(0.7 1)" x="-5.086" fill="#0F0F0F" stroke="#0F0F0F" font-size="2.057">A</text>
<text transform="translate(135.81 92.29) scale(0.89 1)" x="-2.791" fill="#0F0F0F" stroke="#0F0F0F" font-size="2.057">1</text>
<text transform="translate(135.81 92.29) scale(0.91 1)" x="-1.249" fill="#0F0F0F" stroke="#0F0F0F" font-size="2.057">3</text>
<line transform="translate(85.01 94.83)" x1="-2.191" y1="-0.076" x2="-1.505" y2="-0.076" stroke="#0F0F0F" stroke-width="0.15"/>
<text transform="translate(85.01 94.83) scale(0.7 1)" x="-5.086" fill="#0F0F0F" stroke="#0F0F0F" font-size="2.057">A</text>
<text transform="translate(85.01 94.83) scale(0.89 1)" x="-2.791" fill="#0F0F0F" stroke="#0F0F0F" font-size="2.057">1</text>
<text transform="translate(85.01 94.83) scale(0.86 1)" x="-1.288" fill="#0F0F0F" stroke="#0F0F0F" font-size="2.057">4</text>
<line transform="translate(135.81 94.83)" x1="-2.191" y1="-0.076" x2="-1.505" y2="-0.076" stroke="#0F0F0F" stroke-width="0.15"/>
<text transform="translate(135.81 94.83) scale(0.7 1)" x="-5.086" fill="#0F0F0F" stroke="#0F0F0F" font-size="2.057">A</text>
<text transform="translate(135.81 94.83) scale(0.89 1)" x="-2.791" fill="#0F0F0F" stroke="#0F0F0F" font-size="2.057">1</text>
<text transform="translate(135.81 94.83) scale(0.86 1)" x="-1.288" fill="#0F0F0F" stroke="#0F0F0F" font-size="2.057">4</text>
<text transform="translate(218.36 83.4) scale(0.7 1)" x="-3.326" fill="#0F0F0F" stroke="#0F0F0F" font-size="2.057">A</text>
<text transform="translate(218.36 83.4) scale(0.9 1)" x="-1.257" fill="#0F0F0F" stroke="#0F0F0F" font-size="2.057">0</text>
<line transform="translate(218.36 85.94)" x1="-0.959" y1="-0.076" x2="-0.273" y2="-0.076" stroke="#0F0F0F" stroke-width="0.15"/>
<text transform="translate(218.36 85.94) scale(0.7 1)" x="-3.326" fill="#0F0F0F" stroke="#0F0F0F" font-size="2.057">A</text>
<text transform="translate(218.36 85.94) scale(0.89 1)" x="-1.407" fill="#0F0F0F" stroke="#0F0F0F" font-size="2.057">1</text>
<text transform="translate(218.36 88.48) scale(0.7 1)" x="-3.326" fill="#0F0F0F" stroke="#0F0F0F" font-size="2.057">A</text>
<text transform="translate(218.36 88.48) scale(0.95 1)" x="-1.22" fill="#0F0F0F" stroke="#0F0F0F" font-size="2.057">2</text>
<text transform="translate(218.36 91.02) scale(0.7 1)" x="-3.326" fill="#0F0F0F" stroke="#0F0F0F" font-size="2.057">A</text>
<text transform="translate(218.36 91.02) scale(0.91 1)" x="-1.249" fill="#0F0F0F" stroke="#0F0F0F" font-size="2.057">3</text>
<line transform="translate(64.87 102.45)" x1="1.302" y1="0.203" x2="2.369" y2="-1.346" stroke="#0F0F0F" stroke-width="0.15"/>
<text transform="translate(64.87 102.45) scale(0.71 1)" x="0.125" fill="#0F0F0F" stroke="#0F0F0F" font-size="2.057">R</text>
<text transform="translate(64.87 102.45)" x="2.661" fill="#0F0F0F" stroke="#0F0F0F" font-size="2.057">!</text>
<text transform="translate(64.87 102.45) scale(0.59 1)" x="6.014" fill="#0F0F0F" stroke="#0F0F0F" font-size="2.057">W</text>
<line transform="translate(113.13 89.75)" x1="1.302" y1="0.203" x2="2.369" y2="-1.346" stroke="#0F0F0F" stroke-width="0.15"/>
<text transform="translate(113.13 89.75) scale(0.71 1)" x="0.125" fill="#0F0F0F" stroke="#0F0F0F" font-size="2.057">R</text>
<text transform="translate(113.13 89.75)" x="2.661" fill="#0F0F0F" stroke="#0F0F0F" font-size="2.057">!</text>
<text transform="translate(113.13 89.75) scale(0.59 1)" x="6.014" fill="#0F0F0F" stroke="#0F0F0F" font-size="2.057">W</text>
<line transform="translate(135.81 99.91)" x1="-3.486" y1="0.203" x2="-2.419" y2="-1.346" stroke="#0F0F0F" stroke-width="0.15"/>
<text transform="translate(135.81 99.91) scale(0.71 1)" x="-6.619" fill="#0F0F0F" stroke="#0F0F0F" font-size="2.057">R</text>
<text transform="translate(135.81 99.91)" x="-2.127" fill="#0F0F0F" stroke="#0F0F0F" font-size="2.057">!</text>
<text transform="translate(135.81 99.91) scale(0.59 1)" x="-2.101" fill="#0F0F0F" stroke="#0F0F0F" font-size="2.057">W</text>
<line transform="translate(218.36 116.42)" x1="-3.486" y1="0.203" x2="-2.419" y2="-1.346" stroke="#0F0F0F" stroke-width="0.15"/>
<text transform="translate(218.36 116.42) scale(0.71 1)" x="-6.619" fill="#0F0F0F" stroke="#0F0F0F" font-size="2.057">R</text>
<text transform="translate(218.36 116.42)" x="-2.127" fill="#0F0F0F" stroke="#0F0F0F" font-size="2.057">!</text>
<text transform="translate(218.36 116.42) scale(0.59 1)" x="-2.101" fill="#0F0F0F" stroke="#0F0F0F" font-size="2.057">W</text>
<line x1="50.8" y1="40.64" x2="50.8" y2="38.1" stroke="#840000" stroke-width="0.152"/>
<polyline points="50.038,39.37 50.8,38.1 51.562,39.37" stroke="#840000" stroke-width="0.152" fill="none"/>
<text transform="translate(50.8 36.22)" x="-1.833" fill="#006464" stroke="#006464" font-size="2.057">+</text>
<text transform="translate(50.8 36.22) scale(0.91 1)" x="-0.572" fill="#006464" stroke="#006464" font-size="2.057">5</text>
<text transform="translate(50.8 36.22) scale(0.7 1)" x="1.074" fill="#006464" stroke="#006464" font-size="2.057">V</text>
<line x1="99.06" y1="41.91" x2="99.06" y2="39.37" stroke="#840000" stroke-width="0.152"/>
<polyline points="98.298,40.64 99.06,39.37 99.822,40.64" stroke="#840000" stroke-width="0.152" fill="none"/>
<text transform="translate(99.06 37.49)" x="-1.833" fill="#006464" stroke="#006464" font-size="2.057">+</text>
<text transform="translate(99.06 37.49) scale(0.91 1)" x="-0.572" fill="#006464" stroke="#006464" font-size="2.057">5</text>
<text transform="translate(99.06 37.49) scale(0.7 1)" x="1.074" fill="#006464" stroke="#006464" font-size="2.057">V</text>
<line x1="147.32" y1="41.91" x2="147.32" y2="39.37" stroke="#840000" stroke-width="0.152"/>
<polyline points="146.558,40.64 147.32,39.37 148.082,40.64" stroke="#840000" stroke-width="0.152" fill="none"/>
<text transform="translate(147.32 37.49)" x="-1.833" fill="#006464" stroke="#006464" font-size="2.057">+</text>
<text transform="translate(147.32 37.49) scale(0.91 1)" x="-0.572" fill="#006464" stroke="#006464" font-size="2.057">5</text>
<text transform="translate(147.32 37.49) scale(0.7 1)" x="1.074" fill="#006464" stroke="#006464" font-size="2.057">V</text>
<line x1="245.11" y1="40.64" x2="245.11" y2="38.1" stroke="#840000" stroke-width="0.152"/>
<polyline points="244.348,39.37 245.11,38.1 245.872,39.37" stroke="#840000" stroke-width="0.152" fill="none"/>
<text transform="translate(245.11 36.22)" x="-1.833" fill="#006464" stroke="#006464" font-size="2.057">+</text>
<text transform="translate(245.11 36.22) scale(0.91 1)" x="-0.572" fill="#006464" stroke="#006464" font-size="2.057">5</text>
<text transform="translate(245.11 36.22) scale(0.7 1)" x="1.074" fill="#006464" stroke="#006464" font-size="2.057">V</text>
<line x1="29.21" y1="157.48" x2="29.21" y2="154.94" stroke="#840000" stroke-width="0.152"/>
<polyline points="28.448,156.21 29.21,154.94 29.972,156.21" stroke="#840000" stroke-width="0.152" fill="none"/>
<text transform="translate(29.21 153.06)" x="-1.833" fill="#006464" stroke="#006464" font-size="2.057">+</text>
<text transform="translate(29.21 153.06) scale(0.91 1)" x="-0.572" fill="#006464" stroke="#006464" font-size="2.057">5</text>
<text transform="translate(29.21 153.06) scale(0.7 1)" x="1.074" fill="#006464" stroke="#006464" font-size="2.057">V</text>
<line x1="45.72" y1="43.18" x2="45.72" y2="45.212" stroke="#840000" stroke-width="0.152"/>
<line x1="45.72" y1="46.228" x2="45.72" y2="48.26" stroke="#840000" stroke-width="0.152"/>
<line x1="44.196" y1="45.212" x2="47.244" y2="45.212" stroke="#840000" stroke-width="0.33"/>
<line x1="44.196" y1="46.228" x2="47.244" y2="46.228" stroke="#840000" stroke-width="0.305"/>
<line transform="translate(43.1 45.1)" x1="-0.959" y1="-0.076" x2="-0.273" y2="-0.076" stroke="#006464" stroke-width="0.15"/>
<text transform="translate(43.1 45.1) scale(0.66 1)" x="-3.543" fill="#006464" stroke="#006464" font-size="2.057">C</text>
<text transform="translate(43.1 45.1) scale(0.89 1)" x="-1.407" fill="#006464" stroke="#006464" font-size="2.057">1</text>
<line transform="translate(43.1 47.62)" x1="-2.8" y1="-0.076" x2="-2.115" y2="-0.076" stroke="#006464" stroke-width="0.15"/>
<text transform="translate(43.1 47.62) scale(0.9 1)" x="-6.746" fill="#006464" stroke="#006464" font-size="2.057">0</text>
<text transform="translate(43.1 47.62)" x="-4.909" fill="#006464" stroke="#006464" font-size="2.057">.</text>
<text transform="translate(43.1 47.62) scale(0.9 1)" x="-4.671" fill="#006464" stroke="#006464" font-size="2.057">0</text>
<text transform="translate(43.1 47.62) scale(0.89 1)" x="-3.476" fill="#006464" stroke="#006464" font-size="2.057">1</text>
<text transform="translate(43.1 47.62) scale(0.87 1)" x="-2.032" fill="#006464" stroke="#006464" font-size="2.057">u</text>
<text transform="translate(43.1 47.62) scale(1.05 1)" x="-0.618" fill="#006464" stroke="#006464" font-size="2.057">f</text>
<line x1="45.72" y1="48.26" x2="45.72" y2="49.53" stroke="#840000" stroke-width="0.152"/>
<line x1="44.45" y1="49.53" x2="46.99" y2="49.53" stroke="#840000" stroke-width="0.152"/>
<line x1="45.085" y1="50.165" x2="46.355" y2="50.165" stroke="#840000" stroke-width="0.152"/>
<line x1="45.593" y1="50.8" x2="45.847" y2="50.8" stroke="#840000" stroke-width="0.152"/>
<line x1="93.98" y1="44.45" x2="93.98" y2="46.482" stroke="#840000" stroke-width="0.152"/>
<line x1="93.98" y1="47.498" x2="93.98" y2="49.53" stroke="#840000" stroke-width="0.152"/>
<line x1="92.456" y1="46.482" x2="95.504" y2="46.482" stroke="#840000" stroke-width="0.33"/>
<line x1="92.456" y1="47.498" x2="95.504" y2="47.498" stroke="#840000" stroke-width="0.305"/>
<text transform="translate(91.36 46.37) scale(0.66 1)" x="-3.543" fill="#006464" stroke="#006464" font-size="2.057">C</text>
<text transform="translate(91.36 46.37) scale(0.95 1)" x="-1.22" fill="#006464" stroke="#006464" font-size="2.057">2</text>
<line transform="translate(91.36 48.89)" x1="-2.8" y1="-0.076" x2="-2.115" y2="-0.076" stroke="#006464" stroke-width="0.15"/>
<text transform="translate(91.36 48.89) scale(0.9 1)" x="-6.746" fill="#006464" stroke="#006464" font-size="2.057">0</text>
<text transform="translate(91.36 48.89)" x="-4.909" fill="#006464" stroke="#006464" font-size="2.057">.</text>
<text transform="translate(91.36 48.89) scale(0.9 1)" x="-4.671" fill="#006464" stroke="#006464" font-size="2.057">0</text>
<text transform="translate(91.36 48.89) scale(0.89 1)" x="-3.476" fill="#006464" stroke="#006464" font-size="2.057">1</text>
<text transform="translate(91.36 48.89) scale(0.87 1)" x="-2.032" fill="#006464" stroke="#006464" font-size="2.057">u</text>
<text transform="translate(91.36 48.89) scale(1.05 1)" x="-0.618" fill="#006464" stroke="#006464" font-size="2.057">f</text>
<line x1="93.98" y1="49.53" x2="93.98" y2="50.8" stroke="#840000" stroke-width="0.152"/>
<line x1="92.71" y1="50.8" x2="95.25" y2="50.8" stroke="#840000" stroke-width="0.152"/>
<line x1="93.345" y1="51.435" x2="94.615" y2="51.435" stroke="#840000" stroke-width="0.152"/>
<line x1="93.853" y1="52.07" x2="94.107" y2="52.07" stroke="#840000" stroke-width="0.152"/>
<line x1="142.24" y1="44.45" x2="142.24" y2="46.482" stroke="#840000" stroke-width="0.152"/>
<line x1="142.24" y1="47.498" x2="142.24" y2="49.53" stroke="#840000" stroke-width="0.152"/>
<line x1="140.716" y1="46.482" x2="143.764" y2="46.482" stroke="#840000" stroke-width="0.33"/>
<line x1="140.716" y1="47.498" x2="143.764" y2="47.498" stroke="#840000" stroke-width="0.305"/>
<text transform="translate(139.62 46.37) scale(0.66 1)" x="-3.543" fill="#006464" stroke="#006464" font-size="2.057">C</text>
<text transform="translate(139.62 46.37) scale(0.91 1)" x="-1.249" fill="#006464" stroke="#006464" font-size="2.057">3</text>
<line transform="translate(139.62 48.89)" x1="-2.8" y1="-0.076" x2="-2.115" y2="-0.076" stroke="#006464" stroke-width="0.15"/>
<text transform="translate(139.62 48.89) scale(0.9 1)" x="-6.746" fill="#006464" stroke="#006464" font-size="2.057">0</text>
<text transform="translate(139.62 48.89)" x="-4.909" fill="#006464" stroke="#006464" font-size="2.057">.</text>
<text transform="translate(139.62 48.89) scale(0.9 1)" x="-4.671" fill="#006464" stroke="#006464" font-size="2.057">0</text>
<text transform="translate(139.62 48.89) scale(0.89 1)" x="-3.476" fill="#006464" stroke="#006464" font-size="2.057">1</text>
<text transform="translate(139.62 48.89) scale(0.87 1)" x="-2.032" fill="#006464" stroke="#006464" font-size="2.057">u</text>
<text transform="translate(139.62 48.89) scale(1.05 1)" x="-0.618" fill="#006464" stroke="#006464" font-size="2.057">f</text>
<line x1="142.24" y1="49.53" x2="142.24" y2="50.8" stroke="#840000" stroke-width="0.152"/>
<line x1="140.97" y1="50.8" x2="143.51" y2="50.8" stroke="#840000" stroke-width="0.152"/>
<line x1="141.605" y1="51.435" x2="142.875" y2="51.435" stroke="#840000" stroke-width="0.152"/>
<line x1="142.113" y1="52.07" x2="142.367" y2="52.07" stroke="#840000" stroke-width="0.152"/>
<line x1="240.03" y1="43.18" x2="240.03" y2="45.212" stroke="#840000" stroke-width="0.152"/>
<line x1="240.03" y1="46.228" x2="240.03" y2="48.26" stroke="#840000" stroke-width="0.152"/>
<line x1="238.506" y1="45.212" x2="241.554" y2="45.212" stroke="#840000" stroke-width="0.33"/>
<line x1="238.506" y1="46.228" x2="241.554" y2="46.228" stroke="#840000" stroke-width="0.305"/>
<text transform="translate(237.41 45.1) scale(0.66 1)" x="-3.543" fill="#006464" stroke="#006464" font-size="2.057">C</text>
<text transform="translate(237.41 45.1) scale(0.94 1)" x="-1.227" fill="#006464" stroke="#006464" font-size="2.057">6</text>
<line transform="translate(237.41 47.62)" x1="-2.8" y1="-0.076" x2="-2.115" y2="-0.076" stroke="#006464" stroke-width="0.15"/>
<text transform="translate(237.41 47.62) scale(0.9 1)" x="-6.746" fill="#006464" stroke="#006464" font-size="2.057">0</text>
<text transform="translate(237.41 47.62)" x="-4.909" fill="#006464" stroke="#006464" font-size="2.057">.</text>
<text transform="translate(237.41 47.62) scale(0.9 1)" x="-4.671" fill="#006464" stroke="#006464" font-size="2.057">0</text>
<text transform="translate(237.41 47.62) scale(0.89 1)" x="-3.476" fill="#006464" stroke="#006464" font-size="2.057">1</text>
<text transform="translate(237.41 47.62) scale(0.87 1)" x="-2.032" fill="#006464" stroke="#006464" font-size="2.057">u</text>
<text transform="translate(237.41 47.62) scale(1.05 1)" x="-0.618" fill="#006464" stroke="#006464" font-size="2.057">f</text>
<line x1="240.03" y1="48.26" x2="240.03" y2="49.53" stroke="#840000" stroke-width="0.152"/>
<line x1="238.76" y1="49.53" x2="241.3" y2="49.53" stroke="#840000" stroke-width="0.152"/>
<line x1="239.395" y1="50.165" x2="240.665" y2="50.165" stroke="#840000" stroke-width="0.152"/>
<line x1="239.903" y1="50.8" x2="240.157" y2="50.8" stroke="#840000" stroke-width="0.152"/>
<line x1="24.13" y1="160.02" x2="24.13" y2="162.052" stroke="#840000" stroke-width="0.152"/>
<line x1="24.13" y1="163.068" x2="24.13" y2="165.1" stroke="#840000" stroke-width="0.152"/>
<line x1="22.606" y1="162.052" x2="25.654" y2="162.052" stroke="#840000" stroke-width="0.33"/>
<line x1="22.606" y1="163.068" x2="25.654" y2="163.068" stroke="#840000" stroke-width="0.305"/>
<text transform="translate(21.51 161.94) scale(0.66 1)" x="-3.543" fill="#006464" stroke="#006464" font-size="2.057">C</text>
<text transform="translate(21.51 161.94) scale(0.95 1)" x="-1.22" fill="#006464" stroke="#006464" font-size="2.057">7</text>
<line transform="translate(21.51 164.46)" x1="-2.8" y1="-0.076" x2="-2.115" y2="-0.076" stroke="#006464" stroke-width="0.15"/>
<text transform="translate(21.51 164.46) scale(0.9 1)" x="-6.746" fill="#006464" stroke="#006464" font-size="2.057">0</text>
<text transform="translate(21.51 164.46)" x="-4.909" fill="#006464" stroke="#006464" font-size="2.057">.</text>
<text transform="translate(21.51 164.46) scale(0.9 1)" x="-4.671" fill="#006464" stroke="#006464" font-size="2.057">0</text>
<text transform="translate(21.51 164.46) scale(0.89 1)" x="-3.476" fill="#006464" stroke="#006464" font-size="2.057">1</text>
<text transform="translate(21.51 164.46) scale(0.87 1)" x="-2.032" fill="#006464" stroke="#006464" font-size="2.057">u</text>
<text transform="translate(21.51 164.46) scale(1.05 1)" x="-0.618" fill="#006464" stroke="#006464" font-size="2.057">f</text>
<line x1="24.13" y1="165.1" x2="24.13" y2="166.37" stroke="#840000" stroke-width="0.152"/>
<line x1="22.86" y1="166.37" x2="25.4" y2="166.37" stroke="#840000" stroke-width="0.152"/>
<line x1="23.495" y1="167.005" x2="24.765" y2="167.005" stroke="#840000" stroke-width="0.152"/>
<line x1="24.003" y1="167.64" x2="24.257" y2="167.64" stroke="#840000" stroke-width="0.152"/>
<line x1="22.86" y1="127" x2="22.86" y2="129.032" stroke="#840000" stroke-width="0.152"/>
<line x1="22.86" y1="130.048" x2="22.86" y2="132.08" stroke="#840000" stroke-width="0.152"/>
<line x1="21.336" y1="129.032" x2="24.384" y2="129.032" stroke="#840000" stroke-width="0.33"/>
<line x1="21.336" y1="130.048" x2="24.384" y2="130.048" stroke="#840000" stroke-width="0.305"/>
<text transform="translate(25.66 128.9) scale(0.66 1)" x="0.19" fill="#006464" stroke="#006464" font-size="2.057">C</text>
<text transform="translate(25.66 128.9) scale(0.86 1)" x="1.577" fill="#006464" stroke="#006464" font-size="2.057">4</text>
<text transform="translate(25.66 131.3)" x="-0.064" fill="#006464" stroke="#006464" font-size="2.057">?</text>
<text transform="translate(25.66 131.3) scale(0.82 1)" x="1.364" fill="#006464" stroke="#006464" font-size="2.057">p</text>
<text transform="translate(25.66 131.3) scale(0.78 1)" x="2.832" fill="#006464" stroke="#006464" font-size="2.057">F</text>
<line x1="22.86" y1="132.08" x2="22.86" y2="133.35" stroke="#840000" stroke-width="0.152"/>
<line x1="21.59" y1="133.35" x2="24.13" y2="133.35" stroke="#840000" stroke-width="0.152"/>
<line x1="22.225" y1="133.985" x2="23.495" y2="133.985" stroke="#840000" stroke-width="0.152"/>
<line x1="22.733" y1="134.62" x2="22.987" y2="134.62" stroke="#840000" stroke-width="0.152"/>
<line x1="33.02" y1="127" x2="33.02" y2="129.032" stroke="#840000" stroke-width="0.152"/>
<line x1="33.02" y1="130.048" x2="33.02" y2="132.08" stroke="#840000" stroke-width="0.152"/>
<line x1="31.496" y1="129.032" x2="34.544" y2="129.032" stroke="#840000" stroke-width="0.33"/>
<line x1="31.496" y1="130.048" x2="34.544" y2="130.048" stroke="#840000" stroke-width="0.305"/>
<text transform="translate(35.82 128.9) scale(0.66 1)" x="0.19" fill="#006464" stroke="#006464" font-size="2.057">C</text>
<text transform="translate(35.82 128.9) scale(0.91 1)" x="1.458" fill="#006464" stroke="#006464" font-size="2.057">5</text>
<text transform="translate(35.82 131.3)" x="-0.064" fill="#006464" stroke="#006464" font-size="2.057">?</text>
<text transform="translate(35.82 131.3) scale(0.82 1)" x="1.364" fill="#006464" stroke="#006464" font-size="2.057">p</text>
<text transform="translate(35.82 131.3) scale(0.78 1)" x="2.832" fill="#006464" stroke="#006464" font-size="2.057">F</text>
<line x1="33.02" y1="132.08" x2="33.02" y2="133.35" stroke="#840000" stroke-width="0.152"/>
<line x1="31.75" y1="133.35" x2="34.29" y2="133.35" stroke="#840000" stroke-width="0.152"/>
<line x1="32.385" y1="133.985" x2="33.655" y2="133.985" stroke="#840000" stroke-width="0.152"/>
<line x1="32.893" y1="134.62" x2="33.147" y2="134.62" stroke="#840000" stroke-width="0.152"/>
<line x1="25.4" y1="124.46" x2="26.67" y2="124.46" stroke="#840000" stroke-width="0.152"/>
<line x1="29.21" y1="124.46" x2="30.48" y2="124.46" stroke="#840000" stroke-width="0.152"/>
<rect x="27.178" y="122.936" width="1.524" height="3.048" fill="none" stroke="#840000" stroke-width="0.1524"/>
<line x1="26.67" y1="123.698" x2="26.67" y2="125.222" stroke="#840000" stroke-width="0.381"/>
<line x1="29.21" y1="123.698" x2="29.21" y2="125.222" stroke="#840000" stroke-width="0.381"/>
<line transform="translate(27.94 118.8)" x1="0.273" y1="-0.076" x2="0.959" y2="-0.076" stroke="#006464" stroke-width="0.15"/>
<text transform="translate(27.94 118.8) scale(0.74 1)" x="-1.518" fill="#006464" stroke="#006464" font-size="2.057">X</text>
<text transform="translate(27.94 118.8) scale(0.89 1)" x="-0.023" fill="#006464" stroke="#006464" font-size="2.057">1</text>
<line transform="translate(27.94 121.3)" x1="-2.813" y1="-0.076" x2="-2.127" y2="-0.076" stroke="#006464" stroke-width="0.15"/>
<text transform="translate(27.94 121.3) scale(0.89 1)" x="-3.49" fill="#006464" stroke="#006464" font-size="2.057">1</text>
<text transform="translate(27.94 121.3) scale(0.95 1)" x="-1.876" fill="#006464" stroke="#006464" font-size="2.057">2</text>
<text transform="translate(27.94 121.3) scale(0.83 1)" x="-0.803" fill="#006464" stroke="#006464" font-size="2.057">M</text>
<text transform="translate(27.94 121.3) scale(0.75 1)" x="1.027" fill="#006464" stroke="#006464" font-size="2.057">H</text>
<text transform="translate(27.94 121.3) scale(0.9 1)" x="2.28" fill="#006464" stroke="#006464" font-size="2.057">z</text>
<polygon points="14.58,69.85 23.08,69.85 24.13,71.12 23.08,72.39 14.58,72.39" stroke="#840000" stroke-width="0.152" fill="none"/>
<line transform="translate(15.75 71.9)" x1="0.07" y1="0.203" x2="1.137" y2="-1.346" stroke="#840000" stroke-width="0.15"/>
<text transform="translate(15.75 71.9) scale(0.71 1)" x="1.824 3.508" fill="#840000" stroke="#840000" font-size="2.057">RE</text>
<text transform="translate(15.75 71.9) scale(0.73 1)" x="4.977" fill="#840000" stroke="#840000" font-size="2.057">S</text>
<text transform="translate(15.75 71.9) scale(0.71 1)" x="6.764" fill="#840000" stroke="#840000" font-size="2.057">E</text>
<text transform="translate(15.75 71.9) scale(0.74 1)" x="7.978" fill="#840000" stroke="#840000" font-size="2.057">T</text>
<rect x="40.64" y="57.15" width="20.32" height="66.04" fill="#FFFFC2" stroke="#840000" stroke-width="0.254"/>
<line x1="38.1" y1="59.69" x2="40.64" y2="59.69" stroke="#840000" stroke-width="0.152"/>
<line transform="translate(39.37 59.33)" x1="0.273" y1="-0.076" x2="0.959" y2="-0.076" stroke="#A90000" stroke-width="0.15"/>
<text transform="translate(39.37 59.33) scale(0.91 1)" x="-1.249" fill="#A90000" stroke="#A90000" font-size="2.057">3</text>
<text transform="translate(39.37 59.33) scale(0.89 1)" x="-0.023" fill="#A90000" stroke="#A90000" font-size="2.057">1</text>
<text transform="translate(41.24 60.36) scale(0.71 1)" x="0.125" fill="#006464" stroke="#006464" font-size="2.057">D</text>
<text transform="translate(41.24 60.36) scale(0.9 1)" x="1.481" fill="#006464" stroke="#006464" font-size="2.057">0</text>
<line x1="38.1" y1="62.23" x2="40.64" y2="62.23" stroke="#840000" stroke-width="0.152"/>
<text transform="translate(39.37 61.87) scale(0.91 1)" x="-1.249" fill="#A90000" stroke="#A90000" font-size="2.057">3</text>
<text transform="translate(39.37 61.87) scale(0.9 1)" x="0.112" fill="#A90000" stroke="#A90000" font-size="2.057">0</text>
<line transform="translate(41.24 62.9)" x1="1.505" y1="-0.076" x2="2.191" y2="-0.076" stroke="#006464" stroke-width="0.15"/>
<text transform="translate(41.24 62.9) scale(0.71 1)" x="0.125" fill="#006464" stroke="#006464" font-size="2.057">D</text>
<text transform="translate(41.24 62.9) scale(0.89 1)" x="1.361" fill="#006464" stroke="#006464" font-size="2.057">1</text>
<line x1="38.1" y1="64.77" x2="40.64" y2="64.77" stroke="#840000" stroke-width="0.152"/>
<text transform="translate(39.37 64.41) scale(0.95 1)" x="-1.22" fill="#A90000" stroke="#A90000" font-size="2.057">2</text>
<text transform="translate(39.37 64.41) scale(0.94 1)" x="0.083" fill="#A90000" stroke="#A90000" font-size="2.057">9</text>
<text transform="translate(41.24 65.44) scale(0.71 1)" x="0.125" fill="#006464" stroke="#006464" font-size="2.057">D</text>
<text transform="translate(41.24 65.44) scale(0.95 1)" x="1.373" fill="#006464" stroke="#006464" font-size="2.057">2</text>
<line x1="38.1" y1="67.31" x2="40.64" y2="67.31" stroke="#840000" stroke-width="0.152"/>
<text transform="translate(39.37 66.95) scale(0.95 1)" x="-1.22" fill="#A90000" stroke="#A90000" font-size="2.057">2</text>
<text transform="translate(39.37 66.95) scale(0.92 1)" x="0.097" fill="#A90000" stroke="#A90000" font-size="2.057">8</text>
<text transform="translate(41.24 67.98) scale(0.71 1)" x="0.125" fill="#006464" stroke="#006464" font-size="2.057">D</text>
<text transform="translate(41.24 67.98) scale(0.91 1)" x="1.458" fill="#006464" stroke="#006464" font-size="2.057">3</text>
<line x1="38.1" y1="69.85" x2="40.64" y2="69.85" stroke="#840000" stroke-width="0.152"/>
<text transform="translate(39.37 69.49) scale(0.95 1)" x="-1.22 0.076" fill="#A90000" stroke="#A90000" font-size="2.057">27</text>
<text transform="translate(41.24 70.52) scale(0.71 1)" x="0.125" fill="#006464" stroke="#006464" font-size="2.057">D</text>
<text transform="translate(41.24 70.52) scale(0.86 1)" x="1.577" fill="#006464" stroke="#006464" font-size="2.057">4</text>
<line x1="38.1" y1="72.39" x2="40.64" y2="72.39" stroke="#840000" stroke-width="0.152"/>
<text transform="translate(39.37 72.03) scale(0.95 1)" x="-1.22" fill="#A90000" stroke="#A90000" font-size="2.057">2</text>
<text transform="translate(39.37 72.03) scale(0.94 1)" x="0.083" fill="#A90000" stroke="#A90000" font-size="2.057">6</text>
<text transform="translate(41.24 73.06) scale(0.71 1)" x="0.125" fill="#006464" stroke="#006464" font-size="2.057">D</text>
<text transform="translate(41.24 73.06) scale(0.91 1)" x="1.458" fill="#006464" stroke="#006464" font-size="2.057">5</text>
<line x1="38.1" y1="74.93" x2="40.64" y2="74.93" stroke="#840000" stroke-width="0.152"/>
<text transform="translate(39.37 74.57) scale(0.95 1)" x="-1.22" fill="#A90000" stroke="#A90000" font-size="2.057">2</text>
<text transform="translate(39.37 74.57) scale(0.91 1)" x="0.105" fill="#A90000" stroke="#A90000" font-size="2.057">5</text>
<text transform="translate(41.24 75.6) scale(0.71 1)" x="0.125" fill="#006464" stroke="#006464" font-size="2.057">D</text>
<text transform="translate(41.24 75.6) scale(0.94 1)" x="1.394" fill="#006464" stroke="#006464" font-size="2.057">6</text>
<line x1="38.1" y1="77.47" x2="40.64" y2="77.47" stroke="#840000" stroke-width="0.152"/>
<text transform="translate(39.37 77.11) scale(0.95 1)" x="-1.22" fill="#A90000" stroke="#A90000" font-size="2.057">2</text>
<text transform="translate(39.37 77.11) scale(0.86 1)" x="0.144" fill="#A90000" stroke="#A90000" font-size="2.057">4</text>
<text transform="translate(41.24 78.14) scale(0.71 1)" x="0.125" fill="#006464" stroke="#006464" font-size="2.057">D</text>
<text transform="translate(41.24 78.14) scale(0.95 1)" x="1.373" fill="#006464" stroke="#006464" font-size="2.057">7</text>
<line x1="38.1" y1="82.55" x2="40.64" y2="82.55" stroke="#840000" stroke-width="0.152"/>
<text transform="translate(39.37 82.19) scale(0.91 1)" x="-1.249" fill="#A90000" stroke="#A90000" font-size="2.057">3</text>
<text transform="translate(39.37 82.19) scale(0.95 1)" x="0.076" fill="#A90000" stroke="#A90000" font-size="2.057">7</text>
<text transform="translate(41.24 83.22) scale(0.71 1)" x="0.125 1.809" fill="#006464" stroke="#006464" font-size="2.057">RE</text>
<text transform="translate(41.24 83.22) scale(0.73 1)" x="3.324" fill="#006464" stroke="#006464" font-size="2.057">S</text>
<text transform="translate(41.24 83.22) scale(0.71 1)" x="5.065" fill="#006464" stroke="#006464" font-size="2.057">E</text>
<text transform="translate(41.24 83.22) scale(0.74 1)" x="6.348" fill="#006464" stroke="#006464" font-size="2.057">T</text>
<line x1="41.24" y1="81.54" x2="46.79" y2="81.54" stroke="#006464" stroke-width="0.15"/>
<line x1="38.1" y1="85.09" x2="40.64" y2="85.09" stroke="#840000" stroke-width="0.152"/>
<text transform="translate(39.37 84.73) scale(0.95 1)" x="-0.572" fill="#A90000" stroke="#A90000" font-size="2.057">2</text>
<text transform="translate(41.24 85.76) scale(0.75 1)" x="0.078" fill="#006464" stroke="#006464" font-size="2.057">N</text>
<text transform="translate(41.24 85.76) scale(0.83 1)" x="1.431" fill="#006464" stroke="#006464" font-size="2.057">M</text>
<text transform="translate(41.24 85.76)" x="2.597" fill="#006464" stroke="#006464" font-size="2.057">I</text>
<line x1="41.24" y1="84.08" x2="44.288" y2="84.08" stroke="#006464" stroke-width="0.15"/>
<circle cx="38.1" cy="85.09" r="0.381" stroke="#840000" stroke-width="0.1" fill="none"/>
<line x1="38.1" y1="87.63" x2="40.64" y2="87.63" stroke="#840000" stroke-width="0.152"/>
<text transform="translate(39.37 87.27) scale(0.91 1)" x="-0.572" fill="#A90000" stroke="#A90000" font-size="2.057">3</text>
<text transform="translate(41.24 88.3)" x="0.032" fill="#006464" stroke="#006464" font-size="2.057">I</text>
<text transform="translate(41.24 88.3) scale(0.71 1)" x="1.019" fill="#006464" stroke="#006464" font-size="2.057">R</text>
<text transform="translate(41.24 88.3) scale(0.61 1)" x="3.27" fill="#006464" stroke="#006464" font-size="2.057">Q</text>
<line x1="41.24" y1="86.62" x2="44.186" y2="86.62" stroke="#006464" stroke-width="0.15"/>
<line x1="38.1" y1="90.17" x2="40.64" y2="90.17" stroke="#840000" stroke-width="0.152"/>
<text transform="translate(39.37 89.81) scale(0.86 1)" x="-0.572" fill="#A90000" stroke="#A90000" font-size="2.057">4</text>
<text transform="translate(41.24 90.84) scale(0.78 1)" x="0.064" fill="#006464" stroke="#006464" font-size="2.057">F</text>
<text transform="translate(41.24 90.84)" x="1.111" fill="#006464" stroke="#006464" font-size="2.057">I</text>
<text transform="translate(41.24 90.84) scale(0.71 1)" x="2.539" fill="#006464" stroke="#006464" font-size="2.057">R</text>
<text transform="translate(41.24 90.84) scale(0.61 1)" x="5.04" fill="#006464" stroke="#006464" font-size="2.057">Q</text>
<line x1="41.24" y1="89.16" x2="45.266" y2="89.16" stroke="#006464" stroke-width="0.15"/>
<circle cx="38.1" cy="90.17" r="0.381" stroke="#840000" stroke-width="0.1" fill="none"/>
<line x1="38.1" y1="102.87" x2="40.64" y2="102.87" stroke="#840000" stroke-width="0.152"/>
<text transform="translate(39.37 102.51) scale(0.91 1)" x="-1.249 0.105" fill="#A90000" stroke="#A90000" font-size="2.057">33</text>
<line transform="translate(41.24 103.54)" x1="3.867" y1="0.203" x2="4.934" y2="-1.346" stroke="#006464" stroke-width="0.15"/>
<text transform="translate(41.24 103.54) scale(0.71 1)" x="0.125" fill="#006464" stroke="#006464" font-size="2.057">D</text>
<text transform="translate(41.24 103.54) scale(0.83 1)" x="1.431" fill="#006464" stroke="#006464" font-size="2.057">M</text>
<text transform="translate(41.24 103.54) scale(0.7 1)" x="3.859" fill="#006464" stroke="#006464" font-size="2.057">A</text>
<text transform="translate(41.24 103.54) scale(0.79 1)" x="6.427" fill="#006464" stroke="#006464" font-size="2.057">B</text>
<text transform="translate(41.24 103.54) scale(0.71 1)" x="8.907 10.592" fill="#006464" stroke="#006464" font-size="2.057">RE</text>
<text transform="translate(41.24 103.54) scale(0.61 1)" x="14.221" fill="#006464" stroke="#006464" font-size="2.057">Q</text>
<line x1="41.24" y1="101.86" x2="50.867" y2="101.86" stroke="#006464" stroke-width="0.15"/>
<circle cx="38.1" cy="102.87" r="0.381" stroke="#840000" stroke-width="0.1" fill="none"/>
<line x1="38.1" y1="105.41" x2="40.64" y2="105.41" stroke="#840000" stroke-width="0.152"/>
<text transform="translate(39.37 105.05) scale(0.86 1)" x="-1.288" fill="#A90000" stroke="#A90000" font-size="2.057">4</text>
<text transform="translate(39.37 105.05) scale(0.9 1)" x="0.112" fill="#A90000" stroke="#A90000" font-size="2.057">0</text>
<text transform="translate(41.24 106.08) scale(0.75 1)" x="0.078" fill="#006464" stroke="#006464" font-size="2.057">H</text>
<text transform="translate(41.24 106.08) scale(0.7 1)" x="1.954" fill="#006464" stroke="#006464" font-size="2.057">A</text>
<text transform="translate(41.24 106.08) scale(0.87 1)" x="2.88" fill="#006464" stroke="#006464" font-size="2.057">L</text>
<text transform="translate(41.24 106.08) scale(0.74 1)" x="4.889" fill="#006464" stroke="#006464" font-size="2.057">T</text>
<line x1="41.24" y1="104.4" x2="45.71" y2="104.4" stroke="#006464" stroke-width="0.15"/>
<circle cx="38.1" cy="105.41" r="0.381" stroke="#840000" stroke-width="0.1" fill="none"/>
<line x1="38.1" y1="113.03" x2="40.64" y2="113.03" stroke="#840000" stroke-width="0.152"/>
<text transform="translate(39.37 112.67) scale(0.91 1)" x="-1.249" fill="#A90000" stroke="#A90000" font-size="2.057">3</text>
<text transform="translate(39.37 112.67) scale(0.94 1)" x="0.083" fill="#A90000" stroke="#A90000" font-size="2.057">6</text>
<text transform="translate(41.24 113.7) scale(0.83 1)" x="-0.054" fill="#006464" stroke="#006464" font-size="2.057">M</text>
<text transform="translate(41.24 113.7) scale(0.71 1)" x="2.003 3.738" fill="#006464" stroke="#006464" font-size="2.057">RD</text>
<text transform="translate(41.24 113.7) scale(0.74 1)" x="5.278" fill="#006464" stroke="#006464" font-size="2.057">Y</text>
<line x1="38.1" y1="115.57" x2="40.64" y2="115.57" stroke="#840000" stroke-width="0.152"/>
<text transform="translate(39.37 115.21) scale(0.91 1)" x="-1.249" fill="#A90000" stroke="#A90000" font-size="2.057">3</text>
<text transform="translate(39.37 115.21) scale(0.94 1)" x="0.083" fill="#A90000" stroke="#A90000" font-size="2.057">9</text>
<text transform="translate(41.24 116.24) scale(0.74 1)" x="0.146 1.766" fill="#006464" stroke="#006464" font-size="2.057">XT</text>
<text transform="translate(41.24 116.24) scale(0.7 1)" x="3.496" fill="#006464" stroke="#006464" font-size="2.057">A</text>
<text transform="translate(41.24 116.24) scale(0.87 1)" x="4.121" fill="#006464" stroke="#006464" font-size="2.057">L</text>
<line x1="38.1" y1="118.11" x2="40.64" y2="118.11" stroke="#840000" stroke-width="0.152"/>
<text transform="translate(39.37 117.75) scale(0.91 1)" x="-1.249" fill="#A90000" stroke="#A90000" font-size="2.057">3</text>
<text transform="translate(39.37 117.75) scale(0.92 1)" x="0.097" fill="#A90000" stroke="#A90000" font-size="2.057">8</text>
<text transform="translate(41.24 118.78) scale(0.71 1)" x="0.074" fill="#006464" stroke="#006464" font-size="2.057">E</text>
<text transform="translate(41.24 118.78) scale(0.74 1)" x="1.605 3.225" fill="#006464" stroke="#006464" font-size="2.057">XT</text>
<text transform="translate(41.24 118.78) scale(0.7 1)" x="5.038" fill="#006464" stroke="#006464" font-size="2.057">A</text>
<text transform="translate(41.24 118.78) scale(0.87 1)" x="5.362" fill="#006464" stroke="#006464" font-size="2.057">L</text>
<line x1="60.96" y1="59.69" x2="63.5" y2="59.69" stroke="#840000" stroke-width="0.152"/>
<text transform="translate(62.23 59.33) scale(0.92 1)" x="-0.572" fill="#A90000" stroke="#A90000" font-size="2.057">8</text>
<text transform="translate(60.52 60.36) scale(0.7 1)" x="-3.326" fill="#006464" stroke="#006464" font-size="2.057">A</text>
<text transform="translate(60.52 60.36) scale(0.9 1)" x="-1.257" fill="#006464" stroke="#006464" font-size="2.057">0</text>
<line x1="60.96" y1="62.23" x2="63.5" y2="62.23" stroke="#840000" stroke-width="0.152"/>
<text transform="translate(62.23 61.87) scale(0.94 1)" x="-0.572" fill="#A90000" stroke="#A90000" font-size="2.057">9</text>
<line transform="translate(60.52 62.9)" x1="-0.959" y1="-0.076" x2="-0.273" y2="-0.076" stroke="#006464" stroke-width="0.15"/>
<text transform="translate(60.52 62.9) scale(0.7 1)" x="-3.326" fill="#006464" stroke="#006464" font-size="2.057">A</text>
<text transform="translate(60.52 62.9) scale(0.89 1)" x="-1.407" fill="#006464" stroke="#006464" font-size="2.057">1</text>
<line x1="60.96" y1="64.77" x2="63.5" y2="64.77" stroke="#840000" stroke-width="0.152"/>
<line transform="translate(62.23 64.41)" x1="-0.959" y1="-0.076" x2="-0.273" y2="-0.076" stroke="#A90000" stroke-width="0.15"/>
<text transform="translate(62.23 64.41) scale(0.89 1)" x="-1.407" fill="#A90000" stroke="#A90000" font-size="2.057">1</text>
<text transform="translate(62.23 64.41) scale(0.9 1)" x="0.112" fill="#A90000" stroke="#A90000" font-size="2.057">0</text>
<text transform="translate(60.52 65.44) scale(0.7 1)" x="-3.326" fill="#006464" stroke="#006464" font-size="2.057">A</text>
<text transform="translate(60.52 65.44) scale(0.95 1)" x="-1.22" fill="#006464" stroke="#006464" font-size="2.057">2</text>
<line x1="60.96" y1="67.31" x2="63.5" y2="67.31" stroke="#840000" stroke-width="0.152"/>
<line transform="translate(62.23 66.95)" x1="-0.959" y1="-0.076" x2="-0.273" y2="-0.076" stroke="#A90000" stroke-width="0.15"/>
<line transform="translate(62.23 66.95)" x1="0.273" y1="-0.076" x2="0.959" y2="-0.076" stroke="#A90000" stroke-width="0.15"/>
<text transform="translate(62.23 66.95) scale(0.89 1)" x="-1.407 -0.023" fill="#A90000" stroke="#A90000" font-size="2.057">11</text>
<text transform="translate(60.52 67.98) scale(0.7 1)" x="-3.326" fill="#006464" stroke="#006464" font-size="2.057">A</text>
<text transform="translate(60.52 67.98) scale(0.91 1)" x="-1.249" fill="#006464" stroke="#006464" font-size="2.057">3</text>
<line x1="60.96" y1="69.85" x2="63.5" y2="69.85" stroke="#840000" stroke-width="0.152"/>
<line transform="translate(62.23 69.49)" x1="-0.959" y1="-0.076" x2="-0.273" y2="-0.076" stroke="#A90000" stroke-width="0.15"/>
<text transform="translate(62.23 69.49) scale(0.89 1)" x="-1.407" fill="#A90000" stroke="#A90000" font-size="2.057">1</text>
<text transform="translate(62.23 69.49) scale(0.95 1)" x="0.076" fill="#A90000" stroke="#A90000" font-size="2.057">2</text>
<text transform="translate(60.52 70.52) scale(0.7 1)" x="-3.326" fill="#006464" stroke="#006464" font-size="2.057">A</text>
<text transform="translate(60.52 70.52) scale(0.86 1)" x="-1.288" fill="#006464" stroke="#006464" font-size="2.057">4</text>
<line x1="60.96" y1="72.39" x2="63.5" y2="72.39" stroke="#840000" stroke-width="0.152"/>
<line transform="translate(62.23 72.03)" x1="-0.959" y1="-0.076" x2="-0.273" y2="-0.076" stroke="#A90000" stroke-width="0.15"/>
<text transform="translate(62.23 72.03) scale(0.89 1)" x="-1.407" fill="#A90000" stroke="#A90000" font-size="2.057">1</text>
<text transform="translate(62.23 72.03) scale(0.91 1)" x="0.105" fill="#A90000" stroke="#A90000" font-size="2.057">3</text>
<text transform="translate(60.52 73.06) scale(0.7 1)" x="-3.326" fill="#006464" stroke="#006464" font-size="2.057">A</text>
<text transform="translate(60.52 73.06) scale(0.91 1)" x="-1.249" fill="#006464" stroke="#006464" font-size="2.057">5</text>
<line x1="60.96" y1="74.93" x2="63.5" y2="74.93" stroke="#840000" stroke-width="0.152"/>
<line transform="translate(62.23 74.57)" x1="-0.959" y1="-0.076" x2="-0.273" y2="-0.076" stroke="#A90000" stroke-width="0.15"/>
<text transform="translate(62.23 74.57) scale(0.89 1)" x="-1.407" fill="#A90000" stroke="#A90000" font-size="2.057">1</text>
<text transform="translate(62.23 74.57) scale(0.86 1)" x="0.144" fill="#A90000" stroke="#A90000" font-size="2.057">4</text>
<text transform="translate(60.52 75.6) scale(0.7 1)" x="-3.326" fill="#006464" stroke="#006464" font-size="2.057">A</text>
<text transform="translate(60.52 75.6) scale(0.94 1)" x="-1.227" fill="#006464" stroke="#006464" font-size="2.057">6</text>
<line x1="60.96" y1="77.47" x2="63.5" y2="77.47" stroke="#840000" stroke-width="0.152"/>
<line transform="translate(62.23 77.11)" x1="-0.959" y1="-0.076" x2="-0.273" y2="-0.076" stroke="#A90000" stroke-width="0.15"/>
<text transform="translate(62.23 77.11) scale(0.89 1)" x="-1.407" fill="#A90000" stroke="#A90000" font-size="2.057">1</text>
<text transform="translate(62.23 77.11) scale(0.91 1)" x="0.105" fill="#A90000" stroke="#A90000" font-size="2.057">5</text>
<text transform="translate(60.52 78.14) scale(0.7 1)" x="-3.326" fill="#006464" stroke="#006464" font-size="2.057">A</text>
<text transform="translate(60.52 78.14) scale(0.95 1)" x="-1.22" fill="#006464" stroke="#006464" font-size="2.057">7</text>
<line x1="60.96" y1="80.01" x2="63.5" y2="80.01" stroke="#840000" stroke-width="0.152"/>
<line transform="translate(62.23 79.65)" x1="-0.959" y1="-0.076" x2="-0.273" y2="-0.076" stroke="#A90000" stroke-width="0.15"/>
<text transform="translate(62.23 79.65) scale(0.89 1)" x="-1.407" fill="#A90000" stroke="#A90000" font-size="2.057">1</text>
<text transform="translate(62.23 79.65) scale(0.94 1)" x="0.083" fill="#A90000" stroke="#A90000" font-size="2.057">6</text>
<text transform="translate(60.52 80.68) scale(0.7 1)" x="-3.326" fill="#006464" stroke="#006464" font-size="2.057">A</text>
<text transform="translate(60.52 80.68) scale(0.92 1)" x="-1.242" fill="#006464" stroke="#006464" font-size="2.057">8</text>
<line x1="60.96" y1="82.55" x2="63.5" y2="82.55" stroke="#840000" stroke-width="0.152"/>
<line transform="translate(62.23 82.19)" x1="-0.959" y1="-0.076" x2="-0.273" y2="-0.076" stroke="#A90000" stroke-width="0.15"/>
<text transform="translate(62.23 82.19) scale(0.89 1)" x="-1.407" fill="#A90000" stroke="#A90000" font-size="2.057">1</text>
<text transform="translate(62.23 82.19) scale(0.95 1)" x="0.076" fill="#A90000" stroke="#A90000" font-size="2.057">7</text>
<text transform="translate(60.52 83.22) scale(0.7 1)" x="-3.326" fill="#006464" stroke="#006464" font-size="2.057">A</text>
<text transform="translate(60.52 83.22) scale(0.94 1)" x="-1.227" fill="#006464" stroke="#006464" font-size="2.057">9</text>
<line x1="60.96" y1="85.09" x2="63.5" y2="85.09" stroke="#840000" stroke-width="0.152"/>
<line transform="translate(62.23 84.73)" x1="-0.959" y1="-0.076" x2="-0.273" y2="-0.076" stroke="#A90000" stroke-width="0.15"/>
<text transform="translate(62.23 84.73) scale(0.89 1)" x="-1.407" fill="#A90000" stroke="#A90000" font-size="2.057">1</text>
<text transform="translate(62.23 84.73) scale(0.92 1)" x="0.097" fill="#A90000" stroke="#A90000" font-size="2.057">8</text>
<line transform="translate(60.52 85.76)" x1="-2.191" y1="-0.076" x2="-1.505" y2="-0.076" stroke="#006464" stroke-width="0.15"/>
<text transform="translate(60.52 85.76) scale(0.7 1)" x="-5.086" fill="#006464" stroke="#006464" font-size="2.057">A</text>
<text transform="translate(60.52 85.76) scale(0.89 1)" x="-2.791" fill="#006464" stroke="#006464" font-size="2.057">1</text>
<text transform="translate(60.52 85.76) scale(0.9 1)" x="-1.257" fill="#006464" stroke="#006464" font-size="2.057">0</text>
<line x1="60.96" y1="87.63" x2="63.5" y2="87.63" stroke="#840000" stroke-width="0.152"/>
<line transform="translate(62.23 87.27)" x1="-0.959" y1="-0.076" x2="-0.273" y2="-0.076" stroke="#A90000" stroke-width="0.15"/>
<text transform="translate(62.23 87.27) scale(0.89 1)" x="-1.407" fill="#A90000" stroke="#A90000" font-size="2.057">1</text>
<text transform="translate(62.23 87.27) scale(0.94 1)" x="0.083" fill="#A90000" stroke="#A90000" font-size="2.057">9</text>
<line transform="translate(60.52 88.3)" x1="-2.191" y1="-0.076" x2="-1.505" y2="-0.076" stroke="#006464" stroke-width="0.15"/>
<line transform="translate(60.52 88.3)" x1="-0.959" y1="-0.076" x2="-0.273" y2="-0.076" stroke="#006464" stroke-width="0.15"/>
<text transform="translate(60.52 88.3) scale(0.7 1)" x="-5.086" fill="#006464" stroke="#006464" font-size="2.057">A</text>
<text transform="translate(60.52 88.3) scale(0.89 1)" x="-2.791 -1.407" fill="#006464" stroke="#006464" font-size="2.057">11</text>
<line x1="60.96" y1="90.17" x2="63.5" y2="90.17" stroke="#840000" stroke-width="0.152"/>
<text transform="translate(62.23 89.81) scale(0.95 1)" x="-1.22" fill="#A90000" stroke="#A90000" font-size="2.057">2</text>
<text transform="translate(62.23 89.81) scale(0.9 1)" x="0.112" fill="#A90000" stroke="#A90000" font-size="2.057">0</text>
<line transform="translate(60.52 90.84)" x1="-2.191" y1="-0.076" x2="-1.505" y2="-0.076" stroke="#006464" stroke-width="0.15"/>
<text transform="translate(60.52 90.84) scale(0.7 1)" x="-5.086" fill="#006464" stroke="#006464" font-size="2.057">A</text>
<text transform="translate(60.52 90.84) scale(0.89 1)" x="-2.791" fill="#006464" stroke="#006464" font-size="2.057">1</text>
<text transform="translate(60.52 90.84) scale(0.95 1)" x="-1.22" fill="#006464" stroke="#006464" font-size="2.057">2</text>
<line x1="60.96" y1="92.71" x2="63.5" y2="92.71" stroke="#840000" stroke-width="0.152"/>
<line transform="translate(62.23 92.35)" x1="0.273" y1="-0.076" x2="0.959" y2="-0.076" stroke="#A90000" stroke-width="0.15"/>
<text transform="translate(62.23 92.35) scale(0.95 1)" x="-1.22" fill="#A90000" stroke="#A90000" font-size="2.057">2</text>
<text transform="translate(62.23 92.35) scale(0.89 1)" x="-0.023" fill="#A90000" stroke="#A90000" font-size="2.057">1</text>
<line transform="translate(60.52 93.38)" x1="-2.191" y1="-0.076" x2="-1.505" y2="-0.076" stroke="#006464" stroke-width="0.15"/>
<text transform="translate(60.52 93.38) scale(0.7 1)" x="-5.086" fill="#006464" stroke="#006464" font-size="2.057">A</text>
<text transform="translate(60.52 93.38) scale(0.89 1)" x="-2.791" fill="#006464" stroke="#006464" font-size="2.057">1</text>
<text transform="translate(60.52 93.38) scale(0.91 1)" x="-1.249" fill="#006464" stroke="#006464" font-size="2.057">3</text>
<line x1="60.96" y1="95.25" x2="63.5" y2="95.25" stroke="#840000" stroke-width="0.152"/>
<text transform="translate(62.23 94.89) scale(0.95 1)" x="-1.22 0.076" fill="#A90000" stroke="#A90000" font-size="2.057">22</text>
<line transform="translate(60.52 95.92)" x1="-2.191" y1="-0.076" x2="-1.505" y2="-0.076" stroke="#006464" stroke-width="0.15"/>
<text transform="translate(60.52 95.92) scale(0.7 1)" x="-5.086" fill="#006464" stroke="#006464" font-size="2.057">A</text>
<text transform="translate(60.52 95.92) scale(0.89 1)" x="-2.791" fill="#006464" stroke="#006464" font-size="2.057">1</text>
<text transform="translate(60.52 95.92) scale(0.86 1)" x="-1.288" fill="#006464" stroke="#006464" font-size="2.057">4</text>
<line x1="60.96" y1="97.79" x2="63.5" y2="97.79" stroke="#840000" stroke-width="0.152"/>
<text transform="translate(62.23 97.43) scale(0.95 1)" x="-1.22" fill="#A90000" stroke="#A90000" font-size="2.057">2</text>
<text transform="translate(62.23 97.43) scale(0.91 1)" x="0.105" fill="#A90000" stroke="#A90000" font-size="2.057">3</text>
<line transform="translate(60.52 98.46)" x1="-2.191" y1="-0.076" x2="-1.505" y2="-0.076" stroke="#006464" stroke-width="0.15"/>
<text transform="translate(60.52 98.46) scale(0.7 1)" x="-5.086" fill="#006464" stroke="#006464" font-size="2.057">A</text>
<text transform="translate(60.52 98.46) scale(0.89 1)" x="-2.791" fill="#006464" stroke="#006464" font-size="2.057">1</text>
<text transform="translate(60.52 98.46) scale(0.91 1)" x="-1.249" fill="#006464" stroke="#006464" font-size="2.057">5</text>
<line x1="60.96" y1="102.87" x2="63.5" y2="102.87" stroke="#840000" stroke-width="0.152"/>
<text transform="translate(62.23 102.51) scale(0.91 1)" x="-1.249" fill="#A90000" stroke="#A90000" font-size="2.057">3</text>
<text transform="translate(62.23 102.51) scale(0.95 1)" x="0.076" fill="#A90000" stroke="#A90000" font-size="2.057">2</text>
<line transform="translate(60.52 103.54)" x1="-2.47" y1="0.203" x2="-1.403" y2="-1.346" stroke="#006464" stroke-width="0.15"/>
<text transform="translate(60.52 103.54) scale(0.71 1)" x="-5.188" fill="#006464" stroke="#006464" font-size="2.057">R</text>
<text transform="translate(60.52 103.54) scale(0.59 1)" x="-2.101" fill="#006464" stroke="#006464" font-size="2.057">W</text>
<line x1="59.24" y1="101.86" x2="60.52" y2="101.86" stroke="#006464" stroke-width="0.15"/>
<line x1="60.96" y1="105.41" x2="63.5" y2="105.41" stroke="#840000" stroke-width="0.152"/>
<text transform="translate(62.23 105.05) scale(0.91 1)" x="-0.572" fill="#A90000" stroke="#A90000" font-size="2.057">5</text>
<text transform="translate(60.52 106.08) scale(0.79 1)" x="-3.025" fill="#006464" stroke="#006464" font-size="2.057">B</text>
<text transform="translate(60.52 106.08) scale(0.73 1)" x="-1.53" fill="#006464" stroke="#006464" font-size="2.057">S</text>
<circle cx="63.5" cy="105.41" r="0.381" stroke="#840000" stroke-width="0.1" fill="none"/>
<line x1="60.96" y1="107.95" x2="63.5" y2="107.95" stroke="#840000" stroke-width="0.152"/>
<text transform="translate(62.23 107.59) scale(0.94 1)" x="-0.572" fill="#A90000" stroke="#A90000" font-size="2.057">6</text>
<text transform="translate(60.52 108.62) scale(0.79 1)" x="-3.025" fill="#006464" stroke="#006464" font-size="2.057">B</text>
<text transform="translate(60.52 108.62) scale(0.7 1)" x="-1.566" fill="#006464" stroke="#006464" font-size="2.057">A</text>
<circle cx="63.5" cy="107.95" r="0.381" stroke="#840000" stroke-width="0.1" fill="none"/>
<line x1="60.96" y1="113.03" x2="63.5" y2="113.03" stroke="#840000" stroke-width="0.152"/>
<text transform="translate(62.23 112.67) scale(0.91 1)" x="-1.249" fill="#A90000" stroke="#A90000" font-size="2.057">3</text>
<text transform="translate(62.23 112.67) scale(0.86 1)" x="0.144" fill="#A90000" stroke="#A90000" font-size="2.057">4</text>
<text transform="translate(60.52 113.7) scale(0.71 1)" x="-1.446" fill="#006464" stroke="#006464" font-size="2.057">E</text>
<circle cx="63.5" cy="113.03" r="0.381" stroke="#840000" stroke-width="0.1" fill="none"/>
<line x1="60.96" y1="115.57" x2="63.5" y2="115.57" stroke="#840000" stroke-width="0.152"/>
<text transform="translate(62.23 115.21) scale(0.91 1)" x="-1.249 0.105" fill="#A90000" stroke="#A90000" font-size="2.057">35</text>
<text transform="translate(60.52 116.24) scale(0.61 1)" x="-1.81" fill="#006464" stroke="#006464" font-size="2.057">Q</text>
<circle cx="63.5" cy="115.57" r="0.381" stroke="#840000" stroke-width="0.1" fill="none"/>
<line x1="50.8" y1="54.61" x2="50.8" y2="57.15" stroke="#840000" stroke-width="0.152"/>
<text transform="translate(50.44 55.88) rotate(-90) scale(0.95 1)" x="-0.572" fill="#A90000" stroke="#A90000" font-size="2.057">7</text>
<text transform="translate(51.47 57.75) rotate(-90) scale(0.7 1)" x="-5.086" fill="#006464" stroke="#006464" font-size="2.057">V</text>
<text transform="translate(51.47 57.75) rotate(-90) scale(0.66 1)" x="-3.543 -1.676" fill="#006464" stroke="#006464" font-size="2.057">CC</text>
<line x1="50.8" y1="123.19" x2="50.8" y2="125.73" stroke="#840000" stroke-width="0.152"/>
<line transform="translate(50.44 124.46) rotate(-90)" x1="-0.343" y1="-0.076" x2="0.343" y2="-0.076" stroke="#A90000" stroke-width="0.15"/>
<text transform="translate(50.44 124.46) rotate(-90) scale(0.89 1)" x="-0.715" fill="#A90000" stroke="#A90000" font-size="2.057">1</text>
<text transform="translate(51.47 122.69) rotate(-90) scale(0.7 1)" x="0.194" fill="#006464" stroke="#006464" font-size="2.057">V</text>
<text transform="translate(51.47 122.69) rotate(-90) scale(0.73 1)" x="1.845 3.533" fill="#006464" stroke="#006464" font-size="2.057">SS</text>
<text transform="translate(41.24 56.3) scale(0.66 1)" x="0.19" fill="#0000C2" stroke="#0000C2" font-size="2.057">C</text>
<text transform="translate(41.24 56.3) scale(0.79 1)" x="1.653" fill="#0000C2" stroke="#0000C2" font-size="2.057">P</text>
<text transform="translate(41.24 56.3) scale(0.74 1)" x="3.419" fill="#0000C2" stroke="#0000C2" font-size="2.057">U</text>
<line transform="translate(53.2 52.71)" x1="1.505" y1="-0.076" x2="2.191" y2="-0.076" stroke="#006464" stroke-width="0.15"/>
<text transform="translate(53.2 52.71) scale(0.74 1)" x="0.089" fill="#006464" stroke="#006464" font-size="2.057">U</text>
<text transform="translate(53.2 52.71) scale(0.89 1)" x="1.361" fill="#006464" stroke="#006464" font-size="2.057">1</text>
<text transform="translate(53.2 55.22) scale(0.83 1)" x="-0.054" fill="#006464" stroke="#006464" font-size="2.057">M</text>
<text transform="translate(53.2 55.22) scale(0.66 1)" x="2.211" fill="#006464" stroke="#006464" font-size="2.057">C</text>
<text transform="translate(53.2 55.22) scale(0.94 1)" x="2.812" fill="#006464" stroke="#006464" font-size="2.057">6</text>
<text transform="translate(53.2 55.22) scale(0.92 1)" x="4.225" fill="#006464" stroke="#006464" font-size="2.057">8</text>
<text transform="translate(53.2 55.22) scale(0.9 1)" x="5.7" fill="#006464" stroke="#006464" font-size="2.057">0</text>
<text transform="translate(53.2 55.22) scale(0.94 1)" x="6.744" fill="#006464" stroke="#006464" font-size="2.057">9</text>
<line x1="50.8" y1="125.73" x2="50.8" y2="127" stroke="#840000" stroke-width="0.152"/>
<line x1="49.53" y1="127" x2="52.07" y2="127" stroke="#840000" stroke-width="0.152"/>
<line x1="50.165" y1="127.635" x2="51.435" y2="127.635" stroke="#840000" stroke-width="0.152"/>
<line x1="50.673" y1="128.27" x2="50.927" y2="128.27" stroke="#840000" stroke-width="0.152"/>
<rect x="88.9" y="57.15" width="20.32" height="40.64" fill="#FFFFC2" stroke="#840000" stroke-width="0.254"/>
<line x1="86.36" y1="59.69" x2="88.9" y2="59.69" stroke="#840000" stroke-width="0.152"/>
<line transform="translate(87.63 59.33)" x1="-0.959" y1="-0.076" x2="-0.273" y2="-0.076" stroke="#A90000" stroke-width="0.15"/>
<text transform="translate(87.63 59.33) scale(0.89 1)" x="-1.407" fill="#A90000" stroke="#A90000" font-size="2.057">1</text>
<text transform="translate(87.63 59.33) scale(0.9 1)" x="0.112" fill="#A90000" stroke="#A90000" font-size="2.057">0</text>
<text transform="translate(89.5 60.36) scale(0.7 1)" x="0.194" fill="#006464" stroke="#006464" font-size="2.057">A</text>
<text transform="translate(89.5 60.36) scale(0.9 1)" x="1.481" fill="#006464" stroke="#006464" font-size="2.057">0</text>
<line x1="86.36" y1="62.23" x2="88.9" y2="62.23" stroke="#840000" stroke-width="0.152"/>
<text transform="translate(87.63 61.87) scale(0.94 1)" x="-0.572" fill="#A90000" stroke="#A90000" font-size="2.057">9</text>
<line transform="translate(89.5 62.9)" x1="1.505" y1="-0.076" x2="2.191" y2="-0.076" stroke="#006464" stroke-width="0.15"/>
<text transform="translate(89.5 62.9) scale(0.7 1)" x="0.194" fill="#006464" stroke="#006464" font-size="2.057">A</text>
<text transform="translate(89.5 62.9) scale(0.89 1)" x="1.361" fill="#006464" stroke="#006464" font-size="2.057">1</text>
<line x1="86.36" y1="64.77" x2="88.9" y2="64.77" stroke="#840000" stroke-width="0.152"/>
<text transform="translate(87.63 64.41) scale(0.92 1)" x="-0.572" fill="#A90000" stroke="#A90000" font-size="2.057">8</text>
<text transform="translate(89.5 65.44) scale(0.7 1)" x="0.194" fill="#006464" stroke="#006464" font-size="2.057">A</text>
<text transform="translate(89.5 65.44) scale(0.95 1)" x="1.373" fill="#006464" stroke="#006464" font-size="2.057">2</text>
<line x1="86.36" y1="67.31" x2="88.9" y2="67.31" stroke="#840000" stroke-width="0.152"/>
<text transform="translate(87.63 66.95) scale(0.95 1)" x="-0.572" fill="#A90000" stroke="#A90000" font-size="2.057">7</text>
<text transform="translate(89.5 67.98) scale(0.7 1)" x="0.194" fill="#006464" stroke="#006464" font-size="2.057">A</text>
<text transform="translate(89.5 67.98) scale(0.91 1)" x="1.458" fill="#006464" stroke="#006464" font-size="2.057">3</text>
<line x1="86.36" y1="69.85" x2="88.9" y2="69.85" stroke="#840000" stroke-width="0.152"/>
<text transform="translate(87.63 69.49) scale(0.94 1)" x="-0.572" fill="#A90000" stroke="#A90000" font-size="2.057">6</text>
<text transform="translate(89.5 70.52) scale(0.7 1)" x="0.194" fill="#006464" stroke="#006464" font-size="2.057">A</text>
<text transform="translate(89.5 70.52) scale(0.86 1)" x="1.577" fill="#006464" stroke="#006464" font-size="2.057">4</text>
<line x1="86.36" y1="72.39" x2="88.9" y2="72.39" stroke="#840000" stroke-width="0.152"/>
<text transform="translate(87.63 72.03) scale(0.91 1)" x="-0.572" fill="#A90000" stroke="#A90000" font-size="2.057">5</text>
<text transform="translate(89.5 73.06) scale(0.7 1)" x="0.194" fill="#006464" stroke="#006464" font-size="2.057">A</text>
<text transform="translate(89.5 73.06) scale(0.91 1)" x="1.458" fill="#006464" stroke="#006464" font-size="2.057">5</text>
<line x1="86.36" y1="74.93" x2="88.9" y2="74.93" stroke="#840000" stroke-width="0.152"/>
<text transform="translate(87.63 74.57) scale(0.86 1)" x="-0.572" fill="#A90000" stroke="#A90000" font-size="2.057">4</text>
<text transform="translate(89.5 75.6) scale(0.7 1)" x="0.194" fill="#006464" stroke="#006464" font-size="2.057">A</text>
<text transform="translate(89.5 75.6) scale(0.94 1)" x="1.394" fill="#006464" stroke="#006464" font-size="2.057">6</text>
<line x1="86.36" y1="77.47" x2="88.9" y2="77.47" stroke="#840000" stroke-width="0.152"/>
<text transform="translate(87.63 77.11) scale(0.91 1)" x="-0.572" fill="#A90000" stroke="#A90000" font-size="2.057">3</text>
<text transform="translate(89.5 78.14) scale(0.7 1)" x="0.194" fill="#006464" stroke="#006464" font-size="2.057">A</text>
<text transform="translate(89.5 78.14) scale(0.95 1)" x="1.373" fill="#006464" stroke="#006464" font-size="2.057">7</text>
<line x1="86.36" y1="80.01" x2="88.9" y2="80.01" stroke="#840000" stroke-width="0.152"/>
<text transform="translate(87.63 79.65) scale(0.95 1)" x="-1.22" fill="#A90000" stroke="#A90000" font-size="2.057">2</text>
<text transform="translate(87.63 79.65) scale(0.91 1)" x="0.105" fill="#A90000" stroke="#A90000" font-size="2.057">5</text>
<text transform="translate(89.5 80.68) scale(0.7 1)" x="0.194" fill="#006464" stroke="#006464" font-size="2.057">A</text>
<text transform="translate(89.5 80.68) scale(0.92 1)" x="1.436" fill="#006464" stroke="#006464" font-size="2.057">8</text>
<line x1="86.36" y1="82.55" x2="88.9" y2="82.55" stroke="#840000" stroke-width="0.152"/>
<text transform="translate(87.63 82.19) scale(0.95 1)" x="-1.22" fill="#A90000" stroke="#A90000" font-size="2.057">2</text>
<text transform="translate(87.63 82.19) scale(0.86 1)" x="0.144" fill="#A90000" stroke="#A90000" font-size="2.057">4</text>
<text transform="translate(89.5 83.22) scale(0.7 1)" x="0.194" fill="#006464" stroke="#006464" font-size="2.057">A</text>
<text transform="translate(89.5 83.22) scale(0.94 1)" x="1.394" fill="#006464" stroke="#006464" font-size="2.057">9</text>
<line x1="86.36" y1="85.09" x2="88.9" y2="85.09" stroke="#840000" stroke-width="0.152"/>
<line transform="translate(87.63 84.73)" x1="0.273" y1="-0.076" x2="0.959" y2="-0.076" stroke="#A90000" stroke-width="0.15"/>
<text transform="translate(87.63 84.73) scale(0.95 1)" x="-1.22" fill="#A90000" stroke="#A90000" font-size="2.057">2</text>
<text transform="translate(87.63 84.73) scale(0.89 1)" x="-0.023" fill="#A90000" stroke="#A90000" font-size="2.057">1</text>
<line transform="translate(89.5 85.76)" x1="1.505" y1="-0.076" x2="2.191" y2="-0.076" stroke="#006464" stroke-width="0.15"/>
<text transform="translate(89.5 85.76) scale(0.7 1)" x="0.194" fill="#006464" stroke="#006464" font-size="2.057">A</text>
<text transform="translate(89.5 85.76) scale(0.89 1)" x="1.361" fill="#006464" stroke="#006464" font-size="2.057">1</text>
<text transform="translate(89.5 85.76) scale(0.9 1)" x="2.85" fill="#006464" stroke="#006464" font-size="2.057">0</text>
<line x1="86.36" y1="87.63" x2="88.9" y2="87.63" stroke="#840000" stroke-width="0.152"/>
<text transform="translate(87.63 87.27) scale(0.95 1)" x="-1.22" fill="#A90000" stroke="#A90000" font-size="2.057">2</text>
<text transform="translate(87.63 87.27) scale(0.91 1)" x="0.105" fill="#A90000" stroke="#A90000" font-size="2.057">3</text>
<line transform="translate(89.5 88.3)" x1="1.505" y1="-0.076" x2="2.191" y2="-0.076" stroke="#006464" stroke-width="0.15"/>
<line transform="translate(89.5 88.3)" x1="2.737" y1="-0.076" x2="3.423" y2="-0.076" stroke="#006464" stroke-width="0.15"/>
<text transform="translate(89.5 88.3) scale(0.7 1)" x="0.194" fill="#006464" stroke="#006464" font-size="2.057">A</text>
<text transform="translate(89.5 88.3) scale(0.89 1)" x="1.361 2.746" fill="#006464" stroke="#006464" font-size="2.057">11</text>
<line x1="86.36" y1="90.17" x2="88.9" y2="90.17" stroke="#840000" stroke-width="0.152"/>
<text transform="translate(87.63 89.81) scale(0.95 1)" x="-0.572" fill="#A90000" stroke="#A90000" font-size="2.057">2</text>
<line transform="translate(89.5 90.84)" x1="1.505" y1="-0.076" x2="2.191" y2="-0.076" stroke="#006464" stroke-width="0.15"/>
<text transform="translate(89.5 90.84) scale(0.7 1)" x="0.194" fill="#006464" stroke="#006464" font-size="2.057">A</text>
<text transform="translate(89.5 90.84) scale(0.89 1)" x="1.361" fill="#006464" stroke="#006464" font-size="2.057">1</text>
<text transform="translate(89.5 90.84) scale(0.95 1)" x="2.67" fill="#006464" stroke="#006464" font-size="2.057">2</text>
<line x1="86.36" y1="92.71" x2="88.9" y2="92.71" stroke="#840000" stroke-width="0.152"/>
<text transform="translate(87.63 92.35) scale(0.95 1)" x="-1.22" fill="#A90000" stroke="#A90000" font-size="2.057">2</text>
<text transform="translate(87.63 92.35) scale(0.94 1)" x="0.083" fill="#A90000" stroke="#A90000" font-size="2.057">6</text>
<line transform="translate(89.5 93.38)" x1="1.505" y1="-0.076" x2="2.191" y2="-0.076" stroke="#006464" stroke-width="0.15"/>
<text transform="translate(89.5 93.38) scale(0.7 1)" x="0.194" fill="#006464" stroke="#006464" font-size="2.057">A</text>
<text transform="translate(89.5 93.38) scale(0.89 1)" x="1.361" fill="#006464" stroke="#006464" font-size="2.057">1</text>
<text transform="translate(89.5 93.38) scale(0.91 1)" x="2.812" fill="#006464" stroke="#006464" font-size="2.057">3</text>
<line x1="86.36" y1="95.25" x2="88.9" y2="95.25" stroke="#840000" stroke-width="0.152"/>
<line transform="translate(87.63 94.89)" x1="-0.343" y1="-0.076" x2="0.343" y2="-0.076" stroke="#A90000" stroke-width="0.15"/>
<text transform="translate(87.63 94.89) scale(0.89 1)" x="-0.715" fill="#A90000" stroke="#A90000" font-size="2.057">1</text>
<line transform="translate(89.5 95.92)" x1="1.505" y1="-0.076" x2="2.191" y2="-0.076" stroke="#006464" stroke-width="0.15"/>
<text transform="translate(89.5 95.92) scale(0.7 1)" x="0.194" fill="#006464" stroke="#006464" font-size="2.057">A</text>
<text transform="translate(89.5 95.92) scale(0.89 1)" x="1.361" fill="#006464" stroke="#006464" font-size="2.057">1</text>
<text transform="translate(89.5 95.92) scale(0.86 1)" x="3.009" fill="#006464" stroke="#006464" font-size="2.057">4</text>
<line x1="109.22" y1="59.69" x2="111.76" y2="59.69" stroke="#840000" stroke-width="0.152"/>
<line transform="translate(110.49 59.33)" x1="-0.959" y1="-0.076" x2="-0.273" y2="-0.076" stroke="#A90000" stroke-width="0.15"/>
<line transform="translate(110.49 59.33)" x1="0.273" y1="-0.076" x2="0.959" y2="-0.076" stroke="#A90000" stroke-width="0.15"/>
<text transform="translate(110.49 59.33) scale(0.89 1)" x="-1.407 -0.023" fill="#A90000" stroke="#A90000" font-size="2.057">11</text>
<text transform="translate(108.78 60.36) scale(0.61 1)" x="-3.829" fill="#006464" stroke="#006464" font-size="2.057">Q</text>
<text transform="translate(108.78 60.36) scale(0.9 1)" x="-1.257" fill="#006464" stroke="#006464" font-size="2.057">0</text>
<line x1="109.22" y1="62.23" x2="111.76" y2="62.23" stroke="#840000" stroke-width="0.152"/>
<line transform="translate(110.49 61.87)" x1="-0.959" y1="-0.076" x2="-0.273" y2="-0.076" stroke="#A90000" stroke-width="0.15"/>
<text transform="translate(110.49 61.87) scale(0.89 1)" x="-1.407" fill="#A90000" stroke="#A90000" font-size="2.057">1</text>
<text transform="translate(110.49 61.87) scale(0.95 1)" x="0.076" fill="#A90000" stroke="#A90000" font-size="2.057">2</text>
<line transform="translate(108.78 62.9)" x1="-0.959" y1="-0.076" x2="-0.273" y2="-0.076" stroke="#006464" stroke-width="0.15"/>
<text transform="translate(108.78 62.9) scale(0.61 1)" x="-3.829" fill="#006464" stroke="#006464" font-size="2.057">Q</text>
<text transform="translate(108.78 62.9) scale(0.89 1)" x="-1.407" fill="#006464" stroke="#006464" font-size="2.057">1</text>
<line x1="109.22" y1="64.77" x2="111.76" y2="64.77" stroke="#840000" stroke-width="0.152"/>
<line transform="translate(110.49 64.41)" x1="-0.959" y1="-0.076" x2="-0.273" y2="-0.076" stroke="#A90000" stroke-width="0.15"/>
<text transform="translate(110.49 64.41) scale(0.89 1)" x="-1.407" fill="#A90000" stroke="#A90000" font-size="2.057">1</text>
<text transform="translate(110.49 64.41) scale(0.91 1)" x="0.105" fill="#A90000" stroke="#A90000" font-size="2.057">3</text>
<text transform="translate(108.78 65.44) scale(0.61 1)" x="-3.829" fill="#006464" stroke="#006464" font-size="2.057">Q</text>
<text transform="translate(108.78 65.44) scale(0.95 1)" x="-1.22" fill="#006464" stroke="#006464" font-size="2.057">2</text>
<line x1="109.22" y1="67.31" x2="111.76" y2="67.31" stroke="#840000" stroke-width="0.152"/>
<line transform="translate(110.49 66.95)" x1="-0.959" y1="-0.076" x2="-0.273" y2="-0.076" stroke="#A90000" stroke-width="0.15"/>
<text transform="translate(110.49 66.95) scale(0.89 1)" x="-1.407" fill="#A90000" stroke="#A90000" font-size="2.057">1</text>
<text transform="translate(110.49 66.95) scale(0.91 1)" x="0.105" fill="#A90000" stroke="#A90000" font-size="2.057">5</text>
<text transform="translate(108.78 67.98) scale(0.61 1)" x="-3.829" fill="#006464" stroke="#006464" font-size="2.057">Q</text>
<text transform="translate(108.78 67.98) scale(0.91 1)" x="-1.249" fill="#006464" stroke="#006464" font-size="2.057">3</text>
<line x1="109.22" y1="69.85" x2="111.76" y2="69.85" stroke="#840000" stroke-width="0.152"/>
<line transform="translate(110.49 69.49)" x1="-0.959" y1="-0.076" x2="-0.273" y2="-0.076" stroke="#A90000" stroke-width="0.15"/>
<text transform="translate(110.49 69.49) scale(0.89 1)" x="-1.407" fill="#A90000" stroke="#A90000" font-size="2.057">1</text>
<text transform="translate(110.49 69.49) scale(0.94 1)" x="0.083" fill="#A90000" stroke="#A90000" font-size="2.057">6</text>
<text transform="translate(108.78 70.52) scale(0.61 1)" x="-3.829" fill="#006464" stroke="#006464" font-size="2.057">Q</text>
<text transform="translate(108.78 70.52) scale(0.86 1)" x="-1.288" fill="#006464" stroke="#006464" font-size="2.057">4</text>
<line x1="109.22" y1="72.39" x2="111.76" y2="72.39" stroke="#840000" stroke-width="0.152"/>
<line transform="translate(110.49 72.03)" x1="-0.959" y1="-0.076" x2="-0.273" y2="-0.076" stroke="#A90000" stroke-width="0.15"/>
<text transform="translate(110.49 72.03) scale(0.89 1)" x="-1.407" fill="#A90000" stroke="#A90000" font-size="2.057">1</text>
<text transform="translate(110.49 72.03) scale(0.95 1)" x="0.076" fill="#A90000" stroke="#A90000" font-size="2.057">7</text>
<text transform="translate(108.78 73.06) scale(0.61 1)" x="-3.829" fill="#006464" stroke="#006464" font-size="2.057">Q</text>
<text transform="translate(108.78 73.06) scale(0.91 1)" x="-1.249" fill="#006464" stroke="#006464" font-size="2.057">5</text>
<line x1="109.22" y1="74.93" x2="111.76" y2="74.93" stroke="#840000" stroke-width="0.152"/>
<line transform="translate(110.49 74.57)" x1="-0.959" y1="-0.076" x2="-0.273" y2="-0.076" stroke="#A90000" stroke-width="0.15"/>
<text transform="translate(110.49 74.57) scale(0.89 1)" x="-1.407" fill="#A90000" stroke="#A90000" font-size="2.057">1</text>
<text transform="translate(110.49 74.57) scale(0.92 1)" x="0.097" fill="#A90000" stroke="#A90000" font-size="2.057">8</text>
<text transform="translate(108.78 75.6) scale(0.61 1)" x="-3.829" fill="#006464" stroke="#006464" font-size="2.057">Q</text>
<text transform="translate(108.78 75.6) scale(0.94 1)" x="-1.227" fill="#006464" stroke="#006464" font-size="2.057">6</text>
<line x1="109.22" y1="77.47" x2="111.76" y2="77.47" stroke="#840000" stroke-width="0.152"/>
<line transform="translate(110.49 77.11)" x1="-0.959" y1="-0.076" x2="-0.273" y2="-0.076" stroke="#A90000" stroke-width="0.15"/>
<text transform="translate(110.49 77.11) scale(0.89 1)" x="-1.407" fill="#A90000" stroke="#A90000" font-size="2.057">1</text>
<text transform="translate(110.49 77.11) scale(0.94 1)" x="0.083" fill="#A90000" stroke="#A90000" font-size="2.057">9</text>
<text transform="translate(108.78 78.14) scale(0.61 1)" x="-3.829" fill="#006464" stroke="#006464" font-size="2.057">Q</text>
<text transform="translate(108.78 78.14) scale(0.95 1)" x="-1.22" fill="#006464" stroke="#006464" font-size="2.057">7</text>
<line x1="109.22" y1="82.55" x2="111.76" y2="82.55" stroke="#840000" stroke-width="0.152"/>
<text transform="translate(110.49 82.19) scale(0.95 1)" x="-1.22" fill="#A90000" stroke="#A90000" font-size="2.057">2</text>
<text transform="translate(110.49 82.19) scale(0.9 1)" x="0.112" fill="#A90000" stroke="#A90000" font-size="2.057">0</text>
<text transform="translate(108.78 83.22) scale(0.66 1)" x="-3.543" fill="#006464" stroke="#006464" font-size="2.057">C</text>
<text transform="translate(108.78 83.22) scale(0.73 1)" x="-1.53" fill="#006464" stroke="#006464" font-size="2.057">S</text>
<line x1="106.469" y1="81.54" x2="108.78" y2="81.54" stroke="#006464" stroke-width="0.15"/>
<circle cx="111.76" cy="82.55" r="0.381" stroke="#840000" stroke-width="0.1" fill="none"/>
<line x1="109.22" y1="87.63" x2="111.76" y2="87.63" stroke="#840000" stroke-width="0.152"/>
<text transform="translate(110.49 87.27) scale(0.95 1)" x="-1.22 0.076" fill="#A90000" stroke="#A90000" font-size="2.057">22</text>
<text transform="translate(108.78 88.3) scale(0.61 1)" x="-3.58" fill="#006464" stroke="#006464" font-size="2.057">O</text>
<text transform="translate(108.78 88.3) scale(0.71 1)" x="-1.446" fill="#006464" stroke="#006464" font-size="2.057">E</text>
<line x1="106.621" y1="86.62" x2="108.78" y2="86.62" stroke="#006464" stroke-width="0.15"/>
<circle cx="111.76" cy="87.63" r="0.381" stroke="#840000" stroke-width="0.1" fill="none"/>
<line x1="109.22" y1="90.17" x2="111.76" y2="90.17" stroke="#840000" stroke-width="0.152"/>
<text transform="translate(110.49 89.81) scale(0.95 1)" x="-1.22 0.076" fill="#A90000" stroke="#A90000" font-size="2.057">27</text>
<text transform="translate(108.78 90.84) scale(0.59 1)" x="-3.931" fill="#006464" stroke="#006464" font-size="2.057">W</text>
<text transform="translate(108.78 90.84) scale(0.71 1)" x="-1.446" fill="#006464" stroke="#006464" font-size="2.057">E</text>
<line x1="106.519" y1="89.16" x2="108.78" y2="89.16" stroke="#006464" stroke-width="0.15"/>
<line x1="99.06" y1="54.61" x2="99.06" y2="57.15" stroke="#840000" stroke-width="0.152"/>
<text transform="translate(98.7 55.88) rotate(-90) scale(0.95 1)" x="-1.22" fill="#A90000" stroke="#A90000" font-size="2.057">2</text>
<text transform="translate(98.7 55.88) rotate(-90) scale(0.92 1)" x="0.097" fill="#A90000" stroke="#A90000" font-size="2.057">8</text>
<text transform="translate(99.73 57.75) rotate(-90) scale(0.7 1)" x="-5.086" fill="#006464" stroke="#006464" font-size="2.057">V</text>
<text transform="translate(99.73 57.75) rotate(-90) scale(0.66 1)" x="-3.543 -1.676" fill="#006464" stroke="#006464" font-size="2.057">CC</text>
<line x1="99.06" y1="97.79" x2="99.06" y2="100.33" stroke="#840000" stroke-width="0.152"/>
<line transform="translate(98.7 99.06) rotate(-90)" x1="-0.959" y1="-0.076" x2="-0.273" y2="-0.076" stroke="#A90000" stroke-width="0.15"/>
<text transform="translate(98.7 99.06) rotate(-90) scale(0.89 1)" x="-1.407" fill="#A90000" stroke="#A90000" font-size="2.057">1</text>
<text transform="translate(98.7 99.06) rotate(-90) scale(0.86 1)" x="0.144" fill="#A90000" stroke="#A90000" font-size="2.057">4</text>
<text transform="translate(99.73 97.29) rotate(-90) scale(0.64 1)" x="0.162" fill="#006464" stroke="#006464" font-size="2.057">G</text>
<text transform="translate(99.73 97.29) rotate(-90) scale(0.75 1)" x="1.721" fill="#006464" stroke="#006464" font-size="2.057">N</text>
<text transform="translate(99.73 97.29) rotate(-90) scale(0.71 1)" x="3.595" fill="#006464" stroke="#006464" font-size="2.057">D</text>
<text transform="translate(89.5 56.5) scale(0.71 1)" x="0.125" fill="#0000C2" stroke="#0000C2" font-size="2.057">R</text>
<text transform="translate(89.5 56.5) scale(0.7 1)" x="1.954" fill="#0000C2" stroke="#0000C2" font-size="2.057">A</text>
<text transform="translate(89.5 56.5) scale(0.83 1)" x="2.915" fill="#0000C2" stroke="#0000C2" font-size="2.057">M</text>
<text transform="translate(101.4 52.71) scale(0.74 1)" x="0.089" fill="#006464" stroke="#006464" font-size="2.057">U</text>
<text transform="translate(101.4 52.71) scale(0.95 1)" x="1.373" fill="#006464" stroke="#006464" font-size="2.057">2</text>
<text transform="translate(101.4 55.22) scale(0.94 1)" x="0.083" fill="#006464" stroke="#006464" font-size="2.057">6</text>
<text transform="translate(101.4 55.22) scale(0.95 1)" x="1.373 2.67" fill="#006464" stroke="#006464" font-size="2.057">22</text>
<text transform="translate(101.4 55.22) scale(0.91 1)" x="4.166" fill="#006464" stroke="#006464" font-size="2.057">5</text>
<text transform="translate(101.4 55.22) scale(0.94 1)" x="5.325" fill="#006464" stroke="#006464" font-size="2.057">6</text>
<line x1="99.06" y1="100.33" x2="99.06" y2="101.6" stroke="#840000" stroke-width="0.152"/>
<line x1="97.79" y1="101.6" x2="100.33" y2="101.6" stroke="#840000" stroke-width="0.152"/>
<line x1="98.425" y1="102.235" x2="99.695" y2="102.235" stroke="#840000" stroke-width="0.152"/>
<line x1="98.933" y1="102.87" x2="99.187" y2="102.87" stroke="#840000" stroke-width="0.152"/>
<rect x="139.7" y="57.15" width="15.24" height="50.8" fill="#FFFFC2" stroke="#840000" stroke-width="0.254"/>
<line x1="137.16" y1="59.69" x2="139.7" y2="59.69" stroke="#840000" stroke-width="0.152"/>
<line transform="translate(138.43 59.33)" x1="-0.959" y1="-0.076" x2="-0.273" y2="-0.076" stroke="#A90000" stroke-width="0.15"/>
<text transform="translate(138.43 59.33) scale(0.89 1)" x="-1.407" fill="#A90000" stroke="#A90000" font-size="2.057">1</text>
<text transform="translate(138.43 59.33) scale(0.9 1)" x="0.112" fill="#A90000" stroke="#A90000" font-size="2.057">0</text>
<text transform="translate(140.3 60.36) scale(0.7 1)" x="0.194" fill="#006464" stroke="#006464" font-size="2.057">A</text>
<text transform="translate(140.3 60.36) scale(0.9 1)" x="1.481" fill="#006464" stroke="#006464" font-size="2.057">0</text>
<line x1="137.16" y1="62.23" x2="139.7" y2="62.23" stroke="#840000" stroke-width="0.152"/>
<text transform="translate(138.43 61.87) scale(0.94 1)" x="-0.572" fill="#A90000" stroke="#A90000" font-size="2.057">9</text>
<line transform="translate(140.3 62.9)" x1="1.505" y1="-0.076" x2="2.191" y2="-0.076" stroke="#006464" stroke-width="0.15"/>
<text transform="translate(140.3 62.9) scale(0.7 1)" x="0.194" fill="#006464" stroke="#006464" font-size="2.057">A</text>
<text transform="translate(140.3 62.9) scale(0.89 1)" x="1.361" fill="#006464" stroke="#006464" font-size="2.057">1</text>
<line x1="137.16" y1="64.77" x2="139.7" y2="64.77" stroke="#840000" stroke-width="0.152"/>
<text transform="translate(138.43 64.41) scale(0.92 1)" x="-0.572" fill="#A90000" stroke="#A90000" font-size="2.057">8</text>
<text transform="translate(140.3 65.44) scale(0.7 1)" x="0.194" fill="#006464" stroke="#006464" font-size="2.057">A</text>
<text transform="translate(140.3 65.44) scale(0.95 1)" x="1.373" fill="#006464" stroke="#006464" font-size="2.057">2</text>
<line x1="137.16" y1="67.31" x2="139.7" y2="67.31" stroke="#840000" stroke-width="0.152"/>
<text transform="translate(138.43 66.95) scale(0.95 1)" x="-0.572" fill="#A90000" stroke="#A90000" font-size="2.057">7</text>
<text transform="translate(140.3 67.98) scale(0.7 1)" x="0.194" fill="#006464" stroke="#006464" font-size="2.057">A</text>
<text transform="translate(140.3 67.98) scale(0.91 1)" x="1.458" fill="#006464" stroke="#006464" font-size="2.057">3</text>
<line x1="137.16" y1="69.85" x2="139.7" y2="69.85" stroke="#840000" stroke-width="0.152"/>
<text transform="translate(138.43 69.49) scale(0.94 1)" x="-0.572" fill="#A90000" stroke="#A90000" font-size="2.057">6</text>
<text transform="translate(140.3 70.52) scale(0.7 1)" x="0.194" fill="#006464" stroke="#006464" font-size="2.057">A</text>
<text transform="translate(140.3 70.52) scale(0.86 1)" x="1.577" fill="#006464" stroke="#006464" font-size="2.057">4</text>
<line x1="137.16" y1="72.39" x2="139.7" y2="72.39" stroke="#840000" stroke-width="0.152"/>
<text transform="translate(138.43 72.03) scale(0.91 1)" x="-0.572" fill="#A90000" stroke="#A90000" font-size="2.057">5</text>
<text transform="translate(140.3 73.06) scale(0.7 1)" x="0.194" fill="#006464" stroke="#006464" font-size="2.057">A</text>
<text transform="translate(140.3 73.06) scale(0.91 1)" x="1.458" fill="#006464" stroke="#006464" font-size="2.057">5</text>
<line x1="137.16" y1="74.93" x2="139.7" y2="74.93" stroke="#840000" stroke-width="0.152"/>
<text transform="translate(138.43 74.57) scale(0.86 1)" x="-0.572" fill="#A90000" stroke="#A90000" font-size="2.057">4</text>
<text transform="translate(140.3 75.6) scale(0.7 1)" x="0.194" fill="#006464" stroke="#006464" font-size="2.057">A</text>
<text transform="translate(140.3 75.6) scale(0.94 1)" x="1.394" fill="#006464" stroke="#006464" font-size="2.057">6</text>
<line x1="137.16" y1="77.47" x2="139.7" y2="77.47" stroke="#840000" stroke-width="0.152"/>
<text transform="translate(138.43 77.11) scale(0.91 1)" x="-0.572" fill="#A90000" stroke="#A90000" font-size="2.057">3</text>
<text transform="translate(140.3 78.14) scale(0.7 1)" x="0.194" fill="#006464" stroke="#006464" font-size="2.057">A</text>
<text transform="translate(140.3 78.14) scale(0.95 1)" x="1.373" fill="#006464" stroke="#006464" font-size="2.057">7</text>
<line x1="137.16" y1="80.01" x2="139.7" y2="80.01" stroke="#840000" stroke-width="0.152"/>
<text transform="translate(138.43 79.65) scale(0.95 1)" x="-1.22" fill="#A90000" stroke="#A90000" font-size="2.057">2</text>
<text transform="translate(138.43 79.65) scale(0.91 1)" x="0.105" fill="#A90000" stroke="#A90000" font-size="2.057">5</text>
<text transform="translate(140.3 80.68) scale(0.7 1)" x="0.194" fill="#006464" stroke="#006464" font-size="2.057">A</text>
<text transform="translate(140.3 80.68) scale(0.92 1)" x="1.436" fill="#006464" stroke="#006464" font-size="2.057">8</text>
<line x1="137.16" y1="82.55" x2="139.7" y2="82.55" stroke="#840000" stroke-width="0.152"/>
<text transform="translate(138.43 82.19) scale(0.95 1)" x="-1.22" fill="#A90000" stroke="#A90000" font-size="2.057">2</text>
<text transform="translate(138.43 82.19) scale(0.86 1)" x="0.144" fill="#A90000" stroke="#A90000" font-size="2.057">4</text>
<text transform="translate(140.3 83.22) scale(0.7 1)" x="0.194" fill="#006464" stroke="#006464" font-size="2.057">A</text>
<text transform="translate(140.3 83.22) scale(0.94 1)" x="1.394" fill="#006464" stroke="#006464" font-size="2.057">9</text>
<line x1="137.16" y1="85.09" x2="139.7" y2="85.09" stroke="#840000" stroke-width="0.152"/>
<line transform="translate(138.43 84.73)" x1="0.273" y1="-0.076" x2="0.959" y2="-0.076" stroke="#A90000" stroke-width="0.15"/>
<text transform="translate(138.43 84.73) scale(0.95 1)" x="-1.22" fill="#A90000" stroke="#A90000" font-size="2.057">2</text>
<text transform="translate(138.43 84.73) scale(0.89 1)" x="-0.023" fill="#A90000" stroke="#A90000" font-size="2.057">1</text>
<line transform="translate(140.3 85.76)" x1="1.505" y1="-0.076" x2="2.191" y2="-0.076" stroke="#006464" stroke-width="0.15"/>
<text transform="translate(140.3 85.76) scale(0.7 1)" x="0.194" fill="#006464" stroke="#006464" font-size="2.057">A</text>
<text transform="translate(140.3 85.76) scale(0.89 1)" x="1.361" fill="#006464" stroke="#006464" font-size="2.057">1</text>
<text transform="translate(140.3 85.76) scale(0.9 1)" x="2.85" fill="#006464" stroke="#006464" font-size="2.057">0</text>
<line x1="137.16" y1="87.63" x2="139.7" y2="87.63" stroke="#840000" stroke-width="0.152"/>
<text transform="translate(138.43 87.27) scale(0.95 1)" x="-1.22" fill="#A90000" stroke="#A90000" font-size="2.057">2</text>
<text transform="translate(138.43 87.27) scale(0.91 1)" x="0.105" fill="#A90000" stroke="#A90000" font-size="2.057">3</text>
<line transform="translate(140.3 88.3)" x1="1.505" y1="-0.076" x2="2.191" y2="-0.076" stroke="#006464" stroke-width="0.15"/>
<line transform="translate(140.3 88.3)" x1="2.737" y1="-0.076" x2="3.423" y2="-0.076" stroke="#006464" stroke-width="0.15"/>
<text transform="translate(140.3 88.3) scale(0.7 1)" x="0.194" fill="#006464" stroke="#006464" font-size="2.057">A</text>
<text transform="translate(140.3 88.3) scale(0.89 1)" x="1.361 2.746" fill="#006464" stroke="#006464" font-size="2.057">11</text>
<line x1="137.16" y1="90.17" x2="139.7" y2="90.17" stroke="#840000" stroke-width="0.152"/>
<text transform="translate(138.43 89.81) scale(0.95 1)" x="-0.572" fill="#A90000" stroke="#A90000" font-size="2.057">2</text>
<line transform="translate(140.3 90.84)" x1="1.505" y1="-0.076" x2="2.191" y2="-0.076" stroke="#006464" stroke-width="0.15"/>
<text transform="translate(140.3 90.84) scale(0.7 1)" x="0.194" fill="#006464" stroke="#006464" font-size="2.057">A</text>
<text transform="translate(140.3 90.84) scale(0.89 1)" x="1.361" fill="#006464" stroke="#006464" font-size="2.057">1</text>
<text transform="translate(140.3 90.84) scale(0.95 1)" x="2.67" fill="#006464" stroke="#006464" font-size="2.057">2</text>
<line x1="137.16" y1="92.71" x2="139.7" y2="92.71" stroke="#840000" stroke-width="0.152"/>
<text transform="translate(138.43 92.35) scale(0.95 1)" x="-1.22" fill="#A90000" stroke="#A90000" font-size="2.057">2</text>
<text transform="translate(138.43 92.35) scale(0.94 1)" x="0.083" fill="#A90000" stroke="#A90000" font-size="2.057">6</text>
<line transform="translate(140.3 93.38)" x1="1.505" y1="-0.076" x2="2.191" y2="-0.076" stroke="#006464" stroke-width="0.15"/>
<text transform="translate(140.3 93.38) scale(0.7 1)" x="0.194" fill="#006464" stroke="#006464" font-size="2.057">A</text>
<text transform="translate(140.3 93.38) scale(0.89 1)" x="1.361" fill="#006464" stroke="#006464" font-size="2.057">1</text>
<text transform="translate(140.3 93.38) scale(0.91 1)" x="2.812" fill="#006464" stroke="#006464" font-size="2.057">3</text>
<line x1="137.16" y1="95.25" x2="139.7" y2="95.25" stroke="#840000" stroke-width="0.152"/>
<line transform="translate(138.43 94.89)" x1="-0.343" y1="-0.076" x2="0.343" y2="-0.076" stroke="#A90000" stroke-width="0.15"/>
<text transform="translate(138.43 94.89) scale(0.89 1)" x="-0.715" fill="#A90000" stroke="#A90000" font-size="2.057">1</text>
<line transform="translate(140.3 95.92)" x1="1.505" y1="-0.076" x2="2.191" y2="-0.076" stroke="#006464" stroke-width="0.15"/>
<text transform="translate(140.3 95.92) scale(0.7 1)" x="0.194" fill="#006464" stroke="#006464" font-size="2.057">A</text>
<text transform="translate(140.3 95.92) scale(0.89 1)" x="1.361" fill="#006464" stroke="#006464" font-size="2.057">1</text>
<text transform="translate(140.3 95.92) scale(0.86 1)" x="3.009" fill="#006464" stroke="#006464" font-size="2.057">4</text>
<line x1="137.16" y1="100.33" x2="139.7" y2="100.33" stroke="#840000" stroke-width="0.152"/>
<text transform="translate(138.43 99.97) scale(0.95 1)" x="-1.22 0.076" fill="#A90000" stroke="#A90000" font-size="2.057">27</text>
<text transform="translate(140.3 101) scale(0.59 1)" x="0.159" fill="#006464" stroke="#006464" font-size="2.057">W</text>
<text transform="translate(140.3 101) scale(0.71 1)" x="1.952" fill="#006464" stroke="#006464" font-size="2.057">E</text>
<line x1="140.3" y1="99.32" x2="142.561" y2="99.32" stroke="#006464" stroke-width="0.15"/>
<line x1="137.16" y1="102.87" x2="139.7" y2="102.87" stroke="#840000" stroke-width="0.152"/>
<text transform="translate(138.43 102.51) scale(0.95 1)" x="-1.22 0.076" fill="#A90000" stroke="#A90000" font-size="2.057">22</text>
<text transform="translate(140.3 103.54) scale(0.61 1)" x="0.21" fill="#006464" stroke="#006464" font-size="2.057">O</text>
<text transform="translate(140.3 103.54) scale(0.71 1)" x="1.809" fill="#006464" stroke="#006464" font-size="2.057">E</text>
<line x1="140.3" y1="101.86" x2="142.459" y2="101.86" stroke="#006464" stroke-width="0.15"/>
<circle cx="137.16" cy="102.87" r="0.381" stroke="#840000" stroke-width="0.1" fill="none"/>
<line x1="137.16" y1="105.41" x2="139.7" y2="105.41" stroke="#840000" stroke-width="0.152"/>
<text transform="translate(138.43 105.05) scale(0.95 1)" x="-1.22" fill="#A90000" stroke="#A90000" font-size="2.057">2</text>
<text transform="translate(138.43 105.05) scale(0.9 1)" x="0.112" fill="#A90000" stroke="#A90000" font-size="2.057">0</text>
<text transform="translate(140.3 106.08) scale(0.66 1)" x="0.19" fill="#006464" stroke="#006464" font-size="2.057">C</text>
<text transform="translate(140.3 106.08) scale(0.73 1)" x="1.845" fill="#006464" stroke="#006464" font-size="2.057">S</text>
<line x1="140.3" y1="104.4" x2="142.611" y2="104.4" stroke="#006464" stroke-width="0.15"/>
<circle cx="137.16" cy="105.41" r="0.381" stroke="#840000" stroke-width="0.1" fill="none"/>
<line x1="154.94" y1="59.69" x2="157.48" y2="59.69" stroke="#840000" stroke-width="0.152"/>
<line transform="translate(156.21 59.33)" x1="-0.959" y1="-0.076" x2="-0.273" y2="-0.076" stroke="#A90000" stroke-width="0.15"/>
<line transform="translate(156.21 59.33)" x1="0.273" y1="-0.076" x2="0.959" y2="-0.076" stroke="#A90000" stroke-width="0.15"/>
<text transform="translate(156.21 59.33) scale(0.89 1)" x="-1.407 -0.023" fill="#A90000" stroke="#A90000" font-size="2.057">11</text>
<text transform="translate(154.5 60.36) scale(0.71 1)" x="-3.345" fill="#006464" stroke="#006464" font-size="2.057">D</text>
<text transform="translate(154.5 60.36) scale(0.9 1)" x="-1.257" fill="#006464" stroke="#006464" font-size="2.057">0</text>
<line x1="154.94" y1="62.23" x2="157.48" y2="62.23" stroke="#840000" stroke-width="0.152"/>
<line transform="translate(156.21 61.87)" x1="-0.959" y1="-0.076" x2="-0.273" y2="-0.076" stroke="#A90000" stroke-width="0.15"/>
<text transform="translate(156.21 61.87) scale(0.89 1)" x="-1.407" fill="#A90000" stroke="#A90000" font-size="2.057">1</text>
<text transform="translate(156.21 61.87) scale(0.95 1)" x="0.076" fill="#A90000" stroke="#A90000" font-size="2.057">2</text>
<line transform="translate(154.5 62.9)" x1="-0.959" y1="-0.076" x2="-0.273" y2="-0.076" stroke="#006464" stroke-width="0.15"/>
<text transform="translate(154.5 62.9) scale(0.71 1)" x="-3.345" fill="#006464" stroke="#006464" font-size="2.057">D</text>
<text transform="translate(154.5 62.9) scale(0.89 1)" x="-1.407" fill="#006464" stroke="#006464" font-size="2.057">1</text>
<line x1="154.94" y1="64.77" x2="157.48" y2="64.77" stroke="#840000" stroke-width="0.152"/>
<line transform="translate(156.21 64.41)" x1="-0.959" y1="-0.076" x2="-0.273" y2="-0.076" stroke="#A90000" stroke-width="0.15"/>
<text transform="translate(156.21 64.41) scale(0.89 1)" x="-1.407" fill="#A90000" stroke="#A90000" font-size="2.057">1</text>
<text transform="translate(156.21 64.41) scale(0.91 1)" x="0.105" fill="#A90000" stroke="#A90000" font-size="2.057">3</text>
<text transform="translate(154.5 65.44) scale(0.71 1)" x="-3.345" fill="#006464" stroke="#006464" font-size="2.057">D</text>
<text transform="translate(154.5 65.44) scale(0.95 1)" x="-1.22" fill="#006464" stroke="#006464" font-size="2.057">2</text>
<line x1="154.94" y1="67.31" x2="157.48" y2="67.31" stroke="#840000" stroke-width="0.152"/>
<line transform="translate(156.21 66.95)" x1="-0.959" y1="-0.076" x2="-0.273" y2="-0.076" stroke="#A90000" stroke-width="0.15"/>
<text transform="translate(156.21 66.95) scale(0.89 1)" x="-1.407" fill="#A90000" stroke="#A90000" font-size="2.057">1</text>
<text transform="translate(156.21 66.95) scale(0.91 1)" x="0.105" fill="#A90000" stroke="#A90000" font-size="2.057">5</text>
<text transform="translate(154.5 67.98) scale(0.71 1)" x="-3.345" fill="#006464" stroke="#006464" font-size="2.057">D</text>
<text transform="translate(154.5 67.98) scale(0.91 1)" x="-1.249" fill="#006464" stroke="#006464" font-size="2.057">3</text>
<line x1="154.94" y1="69.85" x2="157.48" y2="69.85" stroke="#840000" stroke-width="0.152"/>
<line transform="translate(156.21 69.49)" x1="-0.959" y1="-0.076" x2="-0.273" y2="-0.076" stroke="#A90000" stroke-width="0.15"/>
<text transform="translate(156.21 69.49) scale(0.89 1)" x="-1.407" fill="#A90000" stroke="#A90000" font-size="2.057">1</text>
<text transform="translate(156.21 69.49) scale(0.94 1)" x="0.083" fill="#A90000" stroke="#A90000" font-size="2.057">6</text>
<text transform="translate(154.5 70.52) scale(0.71 1)" x="-3.345" fill="#006464" stroke="#006464" font-size="2.057">D</text>
<text transform="translate(154.5 70.52) scale(0.86 1)" x="-1.288" fill="#006464" stroke="#006464" font-size="2.057">4</text>
<line x1="154.94" y1="72.39" x2="157.48" y2="72.39" stroke="#840000" stroke-width="0.152"/>
<line transform="translate(156.21 72.03)" x1="-0.959" y1="-0.076" x2="-0.273" y2="-0.076" stroke="#A90000" stroke-width="0.15"/>
<text transform="translate(156.21 72.03) scale(0.89 1)" x="-1.407" fill="#A90000" stroke="#A90000" font-size="2.057">1</text>
<text transform="translate(156.21 72.03) scale(0.95 1)" x="0.076" fill="#A90000" stroke="#A90000" font-size="2.057">7</text>
<text transform="translate(154.5 73.06) scale(0.71 1)" x="-3.345" fill="#006464" stroke="#006464" font-size="2.057">D</text>
<text transform="translate(154.5 73.06) scale(0.91 1)" x="-1.249" fill="#006464" stroke="#006464" font-size="2.057">5</text>
<line x1="154.94" y1="74.93" x2="157.48" y2="74.93" stroke="#840000" stroke-width="0.152"/>
<line transform="translate(156.21 74.57)" x1="-0.959" y1="-0.076" x2="-0.273" y2="-0.076" stroke="#A90000" stroke-width="0.15"/>
<text transform="translate(156.21 74.57) scale(0.89 1)" x="-1.407" fill="#A90000" stroke="#A90000" font-size="2.057">1</text>
<text transform="translate(156.21 74.57) scale(0.92 1)" x="0.097" fill="#A90000" stroke="#A90000" font-size="2.057">8</text>
<text transform="translate(154.5 75.6) scale(0.71 1)" x="-3.345" fill="#006464" stroke="#006464" font-size="2.057">D</text>
<text transform="translate(154.5 75.6) scale(0.94 1)" x="-1.227" fill="#006464" stroke="#006464" font-size="2.057">6</text>
<line x1="154.94" y1="77.47" x2="157.48" y2="77.47" stroke="#840000" stroke-width="0.152"/>
<line transform="translate(156.21 77.11)" x1="-0.959" y1="-0.076" x2="-0.273" y2="-0.076" stroke="#A90000" stroke-width="0.15"/>
<text transform="translate(156.21 77.11) scale(0.89 1)" x="-1.407" fill="#A90000" stroke="#A90000" font-size="2.057">1</text>
<text transform="translate(156.21 77.11) scale(0.94 1)" x="0.083" fill="#A90000" stroke="#A90000" font-size="2.057">9</text>
<text transform="translate(154.5 78.14) scale(0.71 1)" x="-3.345" fill="#006464" stroke="#006464" font-size="2.057">D</text>
<text transform="translate(154.5 78.14) scale(0.95 1)" x="-1.22" fill="#006464" stroke="#006464" font-size="2.057">7</text>
<line x1="147.32" y1="54.61" x2="147.32" y2="57.15" stroke="#840000" stroke-width="0.152"/>
<text transform="translate(146.96 55.88) rotate(-90) scale(0.95 1)" x="-1.22" fill="#A90000" stroke="#A90000" font-size="2.057">2</text>
<text transform="translate(146.96 55.88) rotate(-90) scale(0.92 1)" x="0.097" fill="#A90000" stroke="#A90000" font-size="2.057">8</text>
<text transform="translate(147.99 57.75) rotate(-90) scale(0.7 1)" x="-5.086" fill="#006464" stroke="#006464" font-size="2.057">V</text>
<text transform="translate(147.99 57.75) rotate(-90) scale(0.66 1)" x="-3.543 -1.676" fill="#006464" stroke="#006464" font-size="2.057">CC</text>
<line x1="147.32" y1="107.95" x2="147.32" y2="110.49" stroke="#840000" stroke-width="0.152"/>
<line transform="translate(146.96 109.22) rotate(-90)" x1="-0.959" y1="-0.076" x2="-0.273" y2="-0.076" stroke="#A90000" stroke-width="0.15"/>
<text transform="translate(146.96 109.22) rotate(-90) scale(0.89 1)" x="-1.407" fill="#A90000" stroke="#A90000" font-size="2.057">1</text>
<text transform="translate(146.96 109.22) rotate(-90) scale(0.86 1)" x="0.144" fill="#A90000" stroke="#A90000" font-size="2.057">4</text>
<text transform="translate(147.99 107.45) rotate(-90) scale(0.64 1)" x="0.162" fill="#006464" stroke="#006464" font-size="2.057">G</text>
<text transform="translate(147.99 107.45) rotate(-90) scale(0.75 1)" x="1.721" fill="#006464" stroke="#006464" font-size="2.057">N</text>
<text transform="translate(147.99 107.45) rotate(-90) scale(0.71 1)" x="3.595" fill="#006464" stroke="#006464" font-size="2.057">D</text>
<text transform="translate(140.3 56.3) scale(0.71 1)" x="0.125" fill="#0000C2" stroke="#0000C2" font-size="2.057">R</text>
<text transform="translate(140.3 56.3) scale(0.61 1)" x="2.229" fill="#0000C2" stroke="#0000C2" font-size="2.057">O</text>
<text transform="translate(140.3 56.3) scale(0.83 1)" x="2.915" fill="#0000C2" stroke="#0000C2" font-size="2.057">M</text>
<text transform="translate(149.7 52.71) scale(0.74 1)" x="0.089" fill="#006464" stroke="#006464" font-size="2.057">U</text>
<text transform="translate(149.7 52.71) scale(0.91 1)" x="1.458" fill="#006464" stroke="#006464" font-size="2.057">3</text>
<text transform="translate(149.7 55.22) scale(0.95 1)" x="0.076" fill="#006464" stroke="#006464" font-size="2.057">2</text>
<text transform="translate(149.7 55.22) scale(0.92 1)" x="1.436" fill="#006464" stroke="#006464" font-size="2.057">8</text>
<text transform="translate(149.7 55.22) scale(0.66 1)" x="3.923" fill="#006464" stroke="#006464" font-size="2.057">C</text>
<text transform="translate(149.7 55.22) scale(0.95 1)" x="3.966" fill="#006464" stroke="#006464" font-size="2.057">2</text>
<text transform="translate(149.7 55.22) scale(0.91 1)" x="5.52" fill="#006464" stroke="#006464" font-size="2.057">5</text>
<text transform="translate(149.7 55.22) scale(0.94 1)" x="6.636" fill="#006464" stroke="#006464" font-size="2.057">6</text>
<line x1="147.32" y1="110.49" x2="147.32" y2="111.76" stroke="#840000" stroke-width="0.152"/>
<line x1="146.05" y1="111.76" x2="148.59" y2="111.76" stroke="#840000" stroke-width="0.152"/>
<line x1="146.685" y1="112.395" x2="147.955" y2="112.395" stroke="#840000" stroke-width="0.152"/>
<line x1="147.193" y1="113.03" x2="147.447" y2="113.03" stroke="#840000" stroke-width="0.152"/>
<rect x="223.52" y="57.15" width="43.18" height="78.74" fill="#FFFFC2" stroke="#840000" stroke-width="0.254"/>
<line x1="219.71" y1="60.96" x2="223.52" y2="60.96" stroke="#840000" stroke-width="0.152"/>
<line transform="translate(221.615 60.6)" x1="-0.343" y1="-0.076" x2="0.343" y2="-0.076" stroke="#A90000" stroke-width="0.15"/>
<text transform="translate(221.615 60.6) scale(0.89 1)" x="-0.715" fill="#A90000" stroke="#A90000" font-size="2.057">1</text>
<text transform="translate(224.57 61.63) scale(0.71 1)" x="0.125" fill="#006464" stroke="#006464" font-size="2.057">D</text>
<text transform="translate(224.57 61.63) scale(0.9 1)" x="1.481" fill="#006464" stroke="#006464" font-size="2.057">0</text>
<line x1="219.71" y1="63.5" x2="223.52" y2="63.5" stroke="#840000" stroke-width="0.152"/>
<text transform="translate(221.615 63.14) scale(0.95 1)" x="-0.572" fill="#A90000" stroke="#A90000" font-size="2.057">2</text>
<line transform="translate(224.57 64.17)" x1="1.505" y1="-0.076" x2="2.191" y2="-0.076" stroke="#006464" stroke-width="0.15"/>
<text transform="translate(224.57 64.17) scale(0.71 1)" x="0.125" fill="#006464" stroke="#006464" font-size="2.057">D</text>
<text transform="translate(224.57 64.17) scale(0.89 1)" x="1.361" fill="#006464" stroke="#006464" font-size="2.057">1</text>
<line x1="219.71" y1="66.04" x2="223.52" y2="66.04" stroke="#840000" stroke-width="0.152"/>
<text transform="translate(221.615 65.68) scale(0.91 1)" x="-0.572" fill="#A90000" stroke="#A90000" font-size="2.057">3</text>
<text transform="translate(224.57 66.71) scale(0.71 1)" x="0.125" fill="#006464" stroke="#006464" font-size="2.057">D</text>
<text transform="translate(224.57 66.71) scale(0.95 1)" x="1.373" fill="#006464" stroke="#006464" font-size="2.057">2</text>
<line x1="219.71" y1="68.58" x2="223.52" y2="68.58" stroke="#840000" stroke-width="0.152"/>
<text transform="translate(221.615 68.22) scale(0.86 1)" x="-0.572" fill="#A90000" stroke="#A90000" font-size="2.057">4</text>
<text transform="translate(224.57 69.25) scale(0.71 1)" x="0.125" fill="#006464" stroke="#006464" font-size="2.057">D</text>
<text transform="translate(224.57 69.25) scale(0.91 1)" x="1.458" fill="#006464" stroke="#006464" font-size="2.057">3</text>
<line x1="219.71" y1="71.12" x2="223.52" y2="71.12" stroke="#840000" stroke-width="0.152"/>
<text transform="translate(221.615 70.76) scale(0.91 1)" x="-0.572" fill="#A90000" stroke="#A90000" font-size="2.057">5</text>
<text transform="translate(224.57 71.79) scale(0.71 1)" x="0.125" fill="#006464" stroke="#006464" font-size="2.057">D</text>
<text transform="translate(224.57 71.79) scale(0.86 1)" x="1.577" fill="#006464" stroke="#006464" font-size="2.057">4</text>
<line x1="219.71" y1="73.66" x2="223.52" y2="73.66" stroke="#840000" stroke-width="0.152"/>
<text transform="translate(221.615 73.3) scale(0.94 1)" x="-0.572" fill="#A90000" stroke="#A90000" font-size="2.057">6</text>
<text transform="translate(224.57 74.33) scale(0.71 1)" x="0.125" fill="#006464" stroke="#006464" font-size="2.057">D</text>
<text transform="translate(224.57 74.33) scale(0.91 1)" x="1.458" fill="#006464" stroke="#006464" font-size="2.057">5</text>
<line x1="219.71" y1="76.2" x2="223.52" y2="76.2" stroke="#840000" stroke-width="0.152"/>
<text transform="translate(221.615 75.84) scale(0.95 1)" x="-0.572" fill="#A90000" stroke="#A90000" font-size="2.057">7</text>
<text transform="translate(224.57 76.87) scale(0.71 1)" x="0.125" fill="#006464" stroke="#006464" font-size="2.057">D</text>
<text transform="translate(224.57 76.87) scale(0.94 1)" x="1.394" fill="#006464" stroke="#006464" font-size="2.057">6</text>
<line x1="219.71" y1="78.74" x2="223.52" y2="78.74" stroke="#840000" stroke-width="0.152"/>
<text transform="translate(221.615 78.38) scale(0.92 1)" x="-0.572" fill="#A90000" stroke="#A90000" font-size="2.057">8</text>
<text transform="translate(224.57 79.41) scale(0.71 1)" x="0.125" fill="#006464" stroke="#006464" font-size="2.057">D</text>
<text transform="translate(224.57 79.41) scale(0.95 1)" x="1.373" fill="#006464" stroke="#006464" font-size="2.057">7</text>
<line x1="219.71" y1="83.82" x2="223.52" y2="83.82" stroke="#840000" stroke-width="0.152"/>
<text transform="translate(221.615 83.46) scale(0.95 1)" x="-1.22" fill="#A90000" stroke="#A90000" font-size="2.057">2</text>
<text transform="translate(221.615 83.46) scale(0.92 1)" x="0.097" fill="#A90000" stroke="#A90000" font-size="2.057">8</text>
<text transform="translate(224.57 84.49) scale(0.7 1)" x="0.194" fill="#006464" stroke="#006464" font-size="2.057">A</text>
<text transform="translate(224.57 84.49) scale(0.9 1)" x="1.481" fill="#006464" stroke="#006464" font-size="2.057">0</text>
<line x1="219.71" y1="86.36" x2="223.52" y2="86.36" stroke="#840000" stroke-width="0.152"/>
<text transform="translate(221.615 86) scale(0.95 1)" x="-1.22 0.076" fill="#A90000" stroke="#A90000" font-size="2.057">27</text>
<line transform="translate(224.57 87.03)" x1="1.505" y1="-0.076" x2="2.191" y2="-0.076" stroke="#006464" stroke-width="0.15"/>
<text transform="translate(224.57 87.03) scale(0.7 1)" x="0.194" fill="#006464" stroke="#006464" font-size="2.057">A</text>
<text transform="translate(224.57 87.03) scale(0.89 1)" x="1.361" fill="#006464" stroke="#006464" font-size="2.057">1</text>
<line x1="219.71" y1="88.9" x2="223.52" y2="88.9" stroke="#840000" stroke-width="0.152"/>
<text transform="translate(221.615 88.54) scale(0.95 1)" x="-1.22" fill="#A90000" stroke="#A90000" font-size="2.057">2</text>
<text transform="translate(221.615 88.54) scale(0.94 1)" x="0.083" fill="#A90000" stroke="#A90000" font-size="2.057">6</text>
<text transform="translate(224.57 89.57) scale(0.7 1)" x="0.194" fill="#006464" stroke="#006464" font-size="2.057">A</text>
<text transform="translate(224.57 89.57) scale(0.95 1)" x="1.373" fill="#006464" stroke="#006464" font-size="2.057">2</text>
<line x1="219.71" y1="91.44" x2="223.52" y2="91.44" stroke="#840000" stroke-width="0.152"/>
<line transform="translate(221.615 91.08)" x1="-0.959" y1="-0.076" x2="-0.273" y2="-0.076" stroke="#A90000" stroke-width="0.15"/>
<text transform="translate(221.615 91.08) scale(0.89 1)" x="-1.407" fill="#A90000" stroke="#A90000" font-size="2.057">1</text>
<text transform="translate(221.615 91.08) scale(0.95 1)" x="0.076" fill="#A90000" stroke="#A90000" font-size="2.057">2</text>
<text transform="translate(224.57 92.11) scale(0.66 1)" x="0.19" fill="#006464" stroke="#006464" font-size="2.057">C</text>
<text transform="translate(224.57 92.11) scale(0.73 1)" x="1.845" fill="#006464" stroke="#006464" font-size="2.057">S</text>
<text transform="translate(224.57 92.11) scale(0.9 1)" x="2.85" fill="#006464" stroke="#006464" font-size="2.057">0</text>
<line x1="219.71" y1="93.98" x2="223.52" y2="93.98" stroke="#840000" stroke-width="0.152"/>
<line transform="translate(221.615 93.62)" x1="-0.959" y1="-0.076" x2="-0.273" y2="-0.076" stroke="#A90000" stroke-width="0.15"/>
<text transform="translate(221.615 93.62) scale(0.89 1)" x="-1.407" fill="#A90000" stroke="#A90000" font-size="2.057">1</text>
<text transform="translate(221.615 93.62) scale(0.91 1)" x="0.105" fill="#A90000" stroke="#A90000" font-size="2.057">3</text>
<line transform="translate(224.57 94.65)" x1="2.737" y1="-0.076" x2="3.423" y2="-0.076" stroke="#006464" stroke-width="0.15"/>
<text transform="translate(224.57 94.65) scale(0.66 1)" x="0.19" fill="#006464" stroke="#006464" font-size="2.057">C</text>
<text transform="translate(224.57 94.65) scale(0.73 1)" x="1.845" fill="#006464" stroke="#006464" font-size="2.057">S</text>
<text transform="translate(224.57 94.65) scale(0.89 1)" x="2.746" fill="#006464" stroke="#006464" font-size="2.057">1</text>
<circle cx="219.71" cy="93.98" r="0.381" stroke="#840000" stroke-width="0.1" fill="none"/>
<line x1="219.71" y1="96.52" x2="223.52" y2="96.52" stroke="#840000" stroke-width="0.152"/>
<line transform="translate(221.615 96.16)" x1="-0.959" y1="-0.076" x2="-0.273" y2="-0.076" stroke="#A90000" stroke-width="0.15"/>
<text transform="translate(221.615 96.16) scale(0.89 1)" x="-1.407" fill="#A90000" stroke="#A90000" font-size="2.057">1</text>
<text transform="translate(221.615 96.16) scale(0.86 1)" x="0.144" fill="#A90000" stroke="#A90000" font-size="2.057">4</text>
<text transform="translate(224.57 97.19) scale(0.66 1)" x="0.19" fill="#006464" stroke="#006464" font-size="2.057">C</text>
<text transform="translate(224.57 97.19) scale(0.73 1)" x="1.845" fill="#006464" stroke="#006464" font-size="2.057">S</text>
<text transform="translate(224.57 97.19) scale(0.95 1)" x="2.67" fill="#006464" stroke="#006464" font-size="2.057">2</text>
<line x1="224.57" y1="95.51" x2="228.113" y2="95.51" stroke="#006464" stroke-width="0.15"/>
<circle cx="219.71" cy="96.52" r="0.381" stroke="#840000" stroke-width="0.1" fill="none"/>
<line x1="219.71" y1="101.6" x2="223.52" y2="101.6" stroke="#840000" stroke-width="0.152"/>
<line transform="translate(221.615 101.24)" x1="-0.959" y1="-0.076" x2="-0.273" y2="-0.076" stroke="#A90000" stroke-width="0.15"/>
<text transform="translate(221.615 101.24) scale(0.89 1)" x="-1.407" fill="#A90000" stroke="#A90000" font-size="2.057">1</text>
<text transform="translate(221.615 101.24) scale(0.94 1)" x="0.083" fill="#A90000" stroke="#A90000" font-size="2.057">6</text>
<text transform="translate(224.57 102.27) scale(0.74 1)" x="0.146" fill="#006464" stroke="#006464" font-size="2.057">X</text>
<text transform="translate(224.57 102.27)" x="1.264" fill="#006464" stroke="#006464" font-size="2.057">I</text>
<text transform="translate(224.57 102.27) scale(0.75 1)" x="2.568" fill="#006464" stroke="#006464" font-size="2.057">N</text>
<circle cx="219.71" cy="101.6" r="0.381" stroke="#840000" stroke-width="0.1" fill="none"/>
<line x1="219.71" y1="109.22" x2="223.52" y2="109.22" stroke="#840000" stroke-width="0.152"/>
<line transform="translate(221.615 108.86)" x1="-0.959" y1="-0.076" x2="-0.273" y2="-0.076" stroke="#A90000" stroke-width="0.15"/>
<text transform="translate(221.615 108.86) scale(0.89 1)" x="-1.407" fill="#A90000" stroke="#A90000" font-size="2.057">1</text>
<text transform="translate(221.615 108.86) scale(0.95 1)" x="0.076" fill="#A90000" stroke="#A90000" font-size="2.057">7</text>
<text transform="translate(224.57 109.89) scale(0.74 1)" x="0.146" fill="#006464" stroke="#006464" font-size="2.057">X</text>
<text transform="translate(224.57 109.89) scale(0.61 1)" x="2.229" fill="#006464" stroke="#006464" font-size="2.057">O</text>
<text transform="translate(224.57 109.89) scale(0.74 1)" x="3.419 5.095" fill="#006464" stroke="#006464" font-size="2.057">UT</text>
<circle cx="219.71" cy="109.22" r="0.381" stroke="#840000" stroke-width="0.1" fill="none"/>
<line x1="219.71" y1="116.84" x2="223.52" y2="116.84" stroke="#840000" stroke-width="0.152"/>
<line transform="translate(221.615 116.48)" x1="-0.959" y1="-0.076" x2="-0.273" y2="-0.076" stroke="#A90000" stroke-width="0.15"/>
<text transform="translate(221.615 116.48) scale(0.89 1)" x="-1.407" fill="#A90000" stroke="#A90000" font-size="2.057">1</text>
<text transform="translate(221.615 116.48) scale(0.92 1)" x="0.097" fill="#A90000" stroke="#A90000" font-size="2.057">8</text>
<text transform="translate(224.57 117.51) scale(0.59 1)" x="0.159" fill="#006464" stroke="#006464" font-size="2.057">W</text>
<text transform="translate(224.57 117.51) scale(0.71 1)" x="2.003" fill="#006464" stroke="#006464" font-size="2.057">R</text>
<line x1="224.57" y1="115.83" x2="226.983" y2="115.83" stroke="#006464" stroke-width="0.15"/>
<line x1="219.71" y1="119.38" x2="223.52" y2="119.38" stroke="#840000" stroke-width="0.152"/>
<line transform="translate(221.615 119.02)" x1="-0.959" y1="-0.076" x2="-0.273" y2="-0.076" stroke="#A90000" stroke-width="0.15"/>
<text transform="translate(221.615 119.02) scale(0.89 1)" x="-1.407" fill="#A90000" stroke="#A90000" font-size="2.057">1</text>
<text transform="translate(221.615 119.02) scale(0.94 1)" x="0.083" fill="#A90000" stroke="#A90000" font-size="2.057">9</text>
<text transform="translate(224.57 120.05) scale(0.59 1)" x="0.159" fill="#006464" stroke="#006464" font-size="2.057">W</text>
<text transform="translate(224.57 120.05) scale(0.71 1)" x="2.003" fill="#006464" stroke="#006464" font-size="2.057">R</text>
<line x1="219.71" y1="121.92" x2="223.52" y2="121.92" stroke="#840000" stroke-width="0.152"/>
<text transform="translate(221.615 121.56) scale(0.95 1)" x="-1.22 0.076" fill="#A90000" stroke="#A90000" font-size="2.057">22</text>
<text transform="translate(224.57 122.59) scale(0.71 1)" x="0.125 1.86" fill="#006464" stroke="#006464" font-size="2.057">RD</text>
<circle cx="219.71" cy="121.92" r="0.381" stroke="#840000" stroke-width="0.1" fill="none"/>
<line x1="219.71" y1="124.46" x2="223.52" y2="124.46" stroke="#840000" stroke-width="0.152"/>
<line transform="translate(221.615 124.1)" x1="0.273" y1="-0.076" x2="0.959" y2="-0.076" stroke="#A90000" stroke-width="0.15"/>
<text transform="translate(221.615 124.1) scale(0.95 1)" x="-1.22" fill="#A90000" stroke="#A90000" font-size="2.057">2</text>
<text transform="translate(221.615 124.1) scale(0.89 1)" x="-0.023" fill="#A90000" stroke="#A90000" font-size="2.057">1</text>
<text transform="translate(224.57 125.13) scale(0.71 1)" x="0.125 1.86" fill="#006464" stroke="#006464" font-size="2.057">RD</text>
<line x1="224.57" y1="123.45" x2="226.881" y2="123.45" stroke="#006464" stroke-width="0.15"/>
<circle cx="219.71" cy="124.46" r="0.381" stroke="#840000" stroke-width="0.1" fill="none"/>
<line x1="219.71" y1="127" x2="223.52" y2="127" stroke="#840000" stroke-width="0.152"/>
<text transform="translate(221.615 126.64) scale(0.95 1)" x="-1.22" fill="#A90000" stroke="#A90000" font-size="2.057">2</text>
<text transform="translate(221.615 126.64) scale(0.91 1)" x="0.105" fill="#A90000" stroke="#A90000" font-size="2.057">5</text>
<text transform="translate(224.57 127.67) scale(0.7 1)" x="0.194" fill="#006464" stroke="#006464" font-size="2.057">A</text>
<text transform="translate(224.57 127.67) scale(0.71 1)" x="1.86" fill="#006464" stroke="#006464" font-size="2.057">D</text>
<text transform="translate(224.57 127.67) scale(0.73 1)" x="3.533" fill="#006464" stroke="#006464" font-size="2.057">S</text>
<line x1="224.57" y1="125.99" x2="228.113" y2="125.99" stroke="#006464" stroke-width="0.15"/>
<circle cx="219.71" cy="127" r="0.381" stroke="#840000" stroke-width="0.1" fill="none"/>
<line x1="219.71" y1="129.54" x2="223.52" y2="129.54" stroke="#840000" stroke-width="0.152"/>
<text transform="translate(221.615 129.18) scale(0.91 1)" x="-1.249" fill="#A90000" stroke="#A90000" font-size="2.057">3</text>
<text transform="translate(221.615 129.18) scale(0.9 1)" x="0.112" fill="#A90000" stroke="#A90000" font-size="2.057">0</text>
<text transform="translate(224.57 130.21)" x="0.032" fill="#006464" stroke="#006464" font-size="2.057">I</text>
<text transform="translate(224.57 130.21) scale(0.75 1)" x="0.925" fill="#006464" stroke="#006464" font-size="2.057">N</text>
<text transform="translate(224.57 130.21) scale(0.74 1)" x="2.624" fill="#006464" stroke="#006464" font-size="2.057">T</text>
<text transform="translate(224.57 130.21) scale(0.71 1)" x="4.275" fill="#006464" stroke="#006464" font-size="2.057">R</text>
<line x1="219.71" y1="132.08" x2="223.52" y2="132.08" stroke="#840000" stroke-width="0.152"/>
<text transform="translate(221.615 131.72) scale(0.91 1)" x="-1.249 0.105" fill="#A90000" stroke="#A90000" font-size="2.057">35</text>
<text transform="translate(224.57 132.75) scale(0.83 1)" x="-0.054" fill="#006464" stroke="#006464" font-size="2.057">M</text>
<text transform="translate(224.57 132.75) scale(0.71 1)" x="2.003" fill="#006464" stroke="#006464" font-size="2.057">R</text>
<line x1="266.7" y1="66.04" x2="270.51" y2="66.04" stroke="#840000" stroke-width="0.152"/>
<text transform="translate(268.605 65.68) scale(0.91 1)" x="-1.249" fill="#A90000" stroke="#A90000" font-size="2.057">3</text>
<text transform="translate(268.605 65.68) scale(0.94 1)" x="0.083" fill="#A90000" stroke="#A90000" font-size="2.057">9</text>
<text transform="translate(265.66 66.71) scale(0.71 1)" x="-2.505" fill="#006464" stroke="#006464" font-size="2.057">R</text>
<text transform="translate(265.66 66.71)" x="-0.603" fill="#006464" stroke="#006464" font-size="2.057">I</text>
<line x1="263.946" y1="65.03" x2="265.66" y2="65.03" stroke="#006464" stroke-width="0.15"/>
<circle cx="270.51" cy="66.04" r="0.381" stroke="#840000" stroke-width="0.1" fill="none"/>
<line x1="266.7" y1="68.58" x2="270.51" y2="68.58" stroke="#840000" stroke-width="0.152"/>
<text transform="translate(268.605 68.22) scale(0.91 1)" x="-1.249" fill="#A90000" stroke="#A90000" font-size="2.057">3</text>
<text transform="translate(268.605 68.22) scale(0.92 1)" x="0.097" fill="#A90000" stroke="#A90000" font-size="2.057">8</text>
<text transform="translate(265.66 69.25) scale(0.71 1)" x="-5.081" fill="#006464" stroke="#006464" font-size="2.057">D</text>
<text transform="translate(265.66 69.25) scale(0.66 1)" x="-3.543" fill="#006464" stroke="#006464" font-size="2.057">C</text>
<text transform="translate(265.66 69.25) scale(0.71 1)" x="-1.61" fill="#006464" stroke="#006464" font-size="2.057">D</text>
<line x1="262.117" y1="67.57" x2="265.66" y2="67.57" stroke="#006464" stroke-width="0.15"/>
<circle cx="270.51" cy="68.58" r="0.381" stroke="#840000" stroke-width="0.1" fill="none"/>
<line x1="266.7" y1="71.12" x2="270.51" y2="71.12" stroke="#840000" stroke-width="0.152"/>
<text transform="translate(268.605 70.76) scale(0.91 1)" x="-1.249" fill="#A90000" stroke="#A90000" font-size="2.057">3</text>
<text transform="translate(268.605 70.76) scale(0.95 1)" x="0.076" fill="#A90000" stroke="#A90000" font-size="2.057">7</text>
<text transform="translate(265.66 71.79) scale(0.71 1)" x="-5.081" fill="#006464" stroke="#006464" font-size="2.057">D</text>
<text transform="translate(265.66 71.79) scale(0.73 1)" x="-3.217" fill="#006464" stroke="#006464" font-size="2.057">S</text>
<text transform="translate(265.66 71.79) scale(0.71 1)" x="-1.61" fill="#006464" stroke="#006464" font-size="2.057">R</text>
<line x1="262.117" y1="70.11" x2="265.66" y2="70.11" stroke="#006464" stroke-width="0.15"/>
<circle cx="270.51" cy="71.12" r="0.381" stroke="#840000" stroke-width="0.1" fill="none"/>
<line x1="266.7" y1="73.66" x2="270.51" y2="73.66" stroke="#840000" stroke-width="0.152"/>
<text transform="translate(268.605 73.3) scale(0.91 1)" x="-1.249" fill="#A90000" stroke="#A90000" font-size="2.057">3</text>
<text transform="translate(268.605 73.3) scale(0.94 1)" x="0.083" fill="#A90000" stroke="#A90000" font-size="2.057">6</text>
<text transform="translate(265.66 74.33) scale(0.66 1)" x="-5.178" fill="#006464" stroke="#006464" font-size="2.057">C</text>
<text transform="translate(265.66 74.33) scale(0.74 1)" x="-3.022" fill="#006464" stroke="#006464" font-size="2.057">T</text>
<text transform="translate(265.66 74.33) scale(0.73 1)" x="-1.53" fill="#006464" stroke="#006464" font-size="2.057">S</text>
<line x1="262.269" y1="72.65" x2="265.66" y2="72.65" stroke="#006464" stroke-width="0.15"/>
<circle cx="270.51" cy="73.66" r="0.381" stroke="#840000" stroke-width="0.1" fill="none"/>
<line x1="266.7" y1="81.28" x2="270.51" y2="81.28" stroke="#840000" stroke-width="0.152"/>
<text transform="translate(268.605 80.92) scale(0.91 1)" x="-1.249" fill="#A90000" stroke="#A90000" font-size="2.057">3</text>
<text transform="translate(268.605 80.92) scale(0.86 1)" x="0.144" fill="#A90000" stroke="#A90000" font-size="2.057">4</text>
<line transform="translate(265.66 81.95)" x1="-0.959" y1="-0.076" x2="-0.273" y2="-0.076" stroke="#006464" stroke-width="0.15"/>
<text transform="translate(265.66 81.95) scale(0.61 1)" x="-7.619" fill="#006464" stroke="#006464" font-size="2.057">O</text>
<text transform="translate(265.66 81.95) scale(0.74 1)" x="-4.699 -3.022" fill="#006464" stroke="#006464" font-size="2.057">UT</text>
<text transform="translate(265.66 81.95) scale(0.89 1)" x="-1.407" fill="#006464" stroke="#006464" font-size="2.057">1</text>
<line x1="261.037" y1="80.27" x2="265.66" y2="80.27" stroke="#006464" stroke-width="0.15"/>
<circle cx="270.51" cy="81.28" r="0.381" stroke="#840000" stroke-width="0.1" fill="none"/>
<line x1="266.7" y1="83.82" x2="270.51" y2="83.82" stroke="#840000" stroke-width="0.152"/>
<text transform="translate(268.605 83.46) scale(0.91 1)" x="-1.249 0.105" fill="#A90000" stroke="#A90000" font-size="2.057">33</text>
<text transform="translate(265.66 84.49) scale(0.71 1)" x="-4.866" fill="#006464" stroke="#006464" font-size="2.057">D</text>
<text transform="translate(265.66 84.49) scale(0.74 1)" x="-3.022" fill="#006464" stroke="#006464" font-size="2.057">T</text>
<text transform="translate(265.66 84.49) scale(0.71 1)" x="-1.61" fill="#006464" stroke="#006464" font-size="2.057">R</text>
<line x1="262.269" y1="82.81" x2="265.66" y2="82.81" stroke="#006464" stroke-width="0.15"/>
<circle cx="270.51" cy="83.82" r="0.381" stroke="#840000" stroke-width="0.1" fill="none"/>
<line x1="266.7" y1="86.36" x2="270.51" y2="86.36" stroke="#840000" stroke-width="0.152"/>
<text transform="translate(268.605 86) scale(0.91 1)" x="-1.249" fill="#A90000" stroke="#A90000" font-size="2.057">3</text>
<text transform="translate(268.605 86) scale(0.95 1)" x="0.076" fill="#A90000" stroke="#A90000" font-size="2.057">2</text>
<text transform="translate(265.66 87.03) scale(0.71 1)" x="-4.866" fill="#006464" stroke="#006464" font-size="2.057">R</text>
<text transform="translate(265.66 87.03) scale(0.74 1)" x="-3.022" fill="#006464" stroke="#006464" font-size="2.057">T</text>
<text transform="translate(265.66 87.03) scale(0.73 1)" x="-1.53" fill="#006464" stroke="#006464" font-size="2.057">S</text>
<line x1="262.269" y1="85.35" x2="265.66" y2="85.35" stroke="#006464" stroke-width="0.15"/>
<circle cx="270.51" cy="86.36" r="0.381" stroke="#840000" stroke-width="0.1" fill="none"/>
<line x1="266.7" y1="88.9" x2="270.51" y2="88.9" stroke="#840000" stroke-width="0.152"/>
<line transform="translate(268.605 88.54)" x1="0.273" y1="-0.076" x2="0.959" y2="-0.076" stroke="#A90000" stroke-width="0.15"/>
<text transform="translate(268.605 88.54) scale(0.91 1)" x="-1.249" fill="#A90000" stroke="#A90000" font-size="2.057">3</text>
<text transform="translate(268.605 88.54) scale(0.89 1)" x="-0.023" fill="#A90000" stroke="#A90000" font-size="2.057">1</text>
<text transform="translate(265.66 89.57) scale(0.61 1)" x="-7.619" fill="#006464" stroke="#006464" font-size="2.057">O</text>
<text transform="translate(265.66 89.57) scale(0.74 1)" x="-4.699 -3.022" fill="#006464" stroke="#006464" font-size="2.057">UT</text>
<text transform="translate(265.66 89.57) scale(0.95 1)" x="-1.22" fill="#006464" stroke="#006464" font-size="2.057">2</text>
<line x1="261.037" y1="87.89" x2="265.66" y2="87.89" stroke="#006464" stroke-width="0.15"/>
<circle cx="270.51" cy="88.9" r="0.381" stroke="#840000" stroke-width="0.1" fill="none"/>
<line x1="266.7" y1="101.6" x2="270.51" y2="101.6" stroke="#840000" stroke-width="0.152"/>
<line transform="translate(268.605 101.24)" x1="-0.959" y1="-0.076" x2="-0.273" y2="-0.076" stroke="#A90000" stroke-width="0.15"/>
<text transform="translate(268.605 101.24) scale(0.89 1)" x="-1.407" fill="#A90000" stroke="#A90000" font-size="2.057">1</text>
<text transform="translate(268.605 101.24) scale(0.9 1)" x="0.112" fill="#A90000" stroke="#A90000" font-size="2.057">0</text>
<text transform="translate(265.66 102.27) scale(0.73 1)" x="-4.087" fill="#006464" stroke="#006464" font-size="2.057">S</text>
<text transform="translate(265.66 102.27)" x="-1.835" fill="#006464" stroke="#006464" font-size="2.057">I</text>
<text transform="translate(265.66 102.27) scale(0.75 1)" x="-1.564" fill="#006464" stroke="#006464" font-size="2.057">N</text>
<circle cx="270.51" cy="101.6" r="0.381" stroke="#840000" stroke-width="0.1" fill="none"/>
<line x1="266.7" y1="104.14" x2="270.51" y2="104.14" stroke="#840000" stroke-width="0.152"/>
<line transform="translate(268.605 103.78)" x1="-0.959" y1="-0.076" x2="-0.273" y2="-0.076" stroke="#A90000" stroke-width="0.15"/>
<line transform="translate(268.605 103.78)" x1="0.273" y1="-0.076" x2="0.959" y2="-0.076" stroke="#A90000" stroke-width="0.15"/>
<text transform="translate(268.605 103.78) scale(0.89 1)" x="-1.407 -0.023" fill="#A90000" stroke="#A90000" font-size="2.057">11</text>
<text transform="translate(265.66 104.81) scale(0.73 1)" x="-6.384" fill="#006464" stroke="#006464" font-size="2.057">S</text>
<text transform="translate(265.66 104.81) scale(0.61 1)" x="-5.599" fill="#006464" stroke="#006464" font-size="2.057">O</text>
<text transform="translate(265.66 104.81) scale(0.74 1)" x="-3.034 -1.358" fill="#006464" stroke="#006464" font-size="2.057">UT</text>
<circle cx="270.51" cy="104.14" r="0.381" stroke="#840000" stroke-width="0.1" fill="none"/>
<line x1="266.7" y1="111.76" x2="270.51" y2="111.76" stroke="#840000" stroke-width="0.152"/>
<text transform="translate(268.605 111.4) scale(0.95 1)" x="-1.22" fill="#A90000" stroke="#A90000" font-size="2.057">2</text>
<text transform="translate(268.605 111.4) scale(0.94 1)" x="0.083" fill="#A90000" stroke="#A90000" font-size="2.057">9</text>
<text transform="translate(265.66 112.43) scale(0.71 1)" x="-8.551" fill="#006464" stroke="#006464" font-size="2.057">R</text>
<text transform="translate(265.66 112.43) scale(0.74 1)" x="-6.513" fill="#006464" stroke="#006464" font-size="2.057">X</text>
<text transform="translate(265.66 112.43) scale(0.71 1)" x="-5.081 -3.345" fill="#006464" stroke="#006464" font-size="2.057">RD</text>
<text transform="translate(265.66 112.43) scale(0.74 1)" x="-1.518" fill="#006464" stroke="#006464" font-size="2.057">Y</text>
<line x1="259.653" y1="110.75" x2="265.66" y2="110.75" stroke="#006464" stroke-width="0.15"/>
<circle cx="270.51" cy="111.76" r="0.381" stroke="#840000" stroke-width="0.1" fill="none"/>
<line x1="266.7" y1="114.3" x2="270.51" y2="114.3" stroke="#840000" stroke-width="0.152"/>
<text transform="translate(268.605 113.94) scale(0.95 1)" x="-1.22" fill="#A90000" stroke="#A90000" font-size="2.057">2</text>
<text transform="translate(268.605 113.94) scale(0.86 1)" x="0.144" fill="#A90000" stroke="#A90000" font-size="2.057">4</text>
<text transform="translate(265.66 114.97) scale(0.74 1)" x="-8.017 -6.513" fill="#006464" stroke="#006464" font-size="2.057">TX</text>
<text transform="translate(265.66 114.97) scale(0.71 1)" x="-5.081 -3.345" fill="#006464" stroke="#006464" font-size="2.057">RD</text>
<text transform="translate(265.66 114.97) scale(0.74 1)" x="-1.518" fill="#006464" stroke="#006464" font-size="2.057">Y</text>
<line x1="259.805" y1="113.29" x2="265.66" y2="113.29" stroke="#006464" stroke-width="0.15"/>
<circle cx="270.51" cy="114.3" r="0.381" stroke="#840000" stroke-width="0.1" fill="none"/>
<line x1="266.7" y1="116.84" x2="270.51" y2="116.84" stroke="#840000" stroke-width="0.152"/>
<text transform="translate(268.605 116.48) scale(0.95 1)" x="-1.22" fill="#A90000" stroke="#A90000" font-size="2.057">2</text>
<text transform="translate(268.605 116.48) scale(0.91 1)" x="0.105" fill="#A90000" stroke="#A90000" font-size="2.057">3</text>
<text transform="translate(265.66 117.51) scale(0.71 1)" x="-5.975 -4.24" fill="#006464" stroke="#006464" font-size="2.057">DD</text>
<text transform="translate(265.66 117.51)" x="-1.835" fill="#006464" stroke="#006464" font-size="2.057">I</text>
<text transform="translate(265.66 117.51) scale(0.73 1)" x="-1.53" fill="#006464" stroke="#006464" font-size="2.057">S</text>
<circle cx="270.51" cy="116.84" r="0.381" stroke="#840000" stroke-width="0.1" fill="none"/>
<line x1="266.7" y1="127" x2="270.51" y2="127" stroke="#840000" stroke-width="0.152"/>
<line transform="translate(268.605 126.64)" x1="-0.959" y1="-0.076" x2="-0.273" y2="-0.076" stroke="#A90000" stroke-width="0.15"/>
<text transform="translate(268.605 126.64) scale(0.89 1)" x="-1.407" fill="#A90000" stroke="#A90000" font-size="2.057">1</text>
<text transform="translate(268.605 126.64) scale(0.91 1)" x="0.105" fill="#A90000" stroke="#A90000" font-size="2.057">5</text>
<text transform="translate(265.66 127.67) scale(0.79 1)" x="-10.629" fill="#006464" stroke="#006464" font-size="2.057">B</text>
<text transform="translate(265.66 127.67) scale(0.7 1)" x="-10.148" fill="#006464" stroke="#006464" font-size="2.057">A</text>
<text transform="translate(265.66 127.67) scale(0.74 1)" x="-8.028" fill="#006464" stroke="#006464" font-size="2.057">U</text>
<text transform="translate(265.66 127.67) scale(0.71 1)" x="-6.601" fill="#006464" stroke="#006464" font-size="2.057">D</text>
<text transform="translate(265.66 127.67) scale(0.61 1)" x="-5.599" fill="#006464" stroke="#006464" font-size="2.057">O</text>
<text transform="translate(265.66 127.67) scale(0.74 1)" x="-3.034 -1.358" fill="#006464" stroke="#006464" font-size="2.057">UT</text>
<line x1="257.341" y1="125.99" x2="265.66" y2="125.99" stroke="#006464" stroke-width="0.15"/>
<circle cx="270.51" cy="127" r="0.381" stroke="#840000" stroke-width="0.1" fill="none"/>
<line x1="266.7" y1="132.08" x2="270.51" y2="132.08" stroke="#840000" stroke-width="0.152"/>
<text transform="translate(268.605 131.72) scale(0.94 1)" x="-0.572" fill="#A90000" stroke="#A90000" font-size="2.057">9</text>
<text transform="translate(265.66 132.75) scale(0.71 1)" x="-6.601" fill="#006464" stroke="#006464" font-size="2.057">R</text>
<text transform="translate(265.66 132.75) scale(0.66 1)" x="-5.178" fill="#006464" stroke="#006464" font-size="2.057">C</text>
<text transform="translate(265.66 132.75) scale(0.87 1)" x="-2.608" fill="#006464" stroke="#006464" font-size="2.057">L</text>
<text transform="translate(265.66 132.75) scale(0.73 1)" x="-1.53" fill="#006464" stroke="#006464" font-size="2.057">K</text>
<circle cx="270.51" cy="132.08" r="0.381" stroke="#840000" stroke-width="0.1" fill="none"/>
<line x1="245.11" y1="53.34" x2="245.11" y2="57.15" stroke="#840000" stroke-width="0.152"/>
<text transform="translate(244.75 55.245) rotate(-90) scale(0.86 1)" x="-1.288" fill="#A90000" stroke="#A90000" font-size="2.057">4</text>
<text transform="translate(244.75 55.245) rotate(-90) scale(0.9 1)" x="0.112" fill="#A90000" stroke="#A90000" font-size="2.057">0</text>
<text transform="translate(245.78 58.2) rotate(-90) scale(0.7 1)" x="-5.086" fill="#006464" stroke="#006464" font-size="2.057">V</text>
<text transform="translate(245.78 58.2) rotate(-90) scale(0.66 1)" x="-3.543 -1.676" fill="#006464" stroke="#006464" font-size="2.057">CC</text>
<line x1="245.11" y1="135.89" x2="245.11" y2="139.7" stroke="#840000" stroke-width="0.152"/>
<text transform="translate(244.75 137.795) rotate(-90) scale(0.95 1)" x="-1.22" fill="#A90000" stroke="#A90000" font-size="2.057">2</text>
<text transform="translate(244.75 137.795) rotate(-90) scale(0.9 1)" x="0.112" fill="#A90000" stroke="#A90000" font-size="2.057">0</text>
<text transform="translate(245.78 134.94) rotate(-90) scale(0.64 1)" x="0.162" fill="#006464" stroke="#006464" font-size="2.057">G</text>
<text transform="translate(245.78 134.94) rotate(-90) scale(0.75 1)" x="1.721" fill="#006464" stroke="#006464" font-size="2.057">N</text>
<text transform="translate(245.78 134.94) rotate(-90) scale(0.71 1)" x="3.595" fill="#006464" stroke="#006464" font-size="2.057">D</text>
<text transform="translate(223.72 56.3) scale(0.74 1)" x="0.089" fill="#0000C2" stroke="#0000C2" font-size="2.057">U</text>
<text transform="translate(223.72 56.3) scale(0.7 1)" x="1.954" fill="#0000C2" stroke="#0000C2" font-size="2.057">A</text>
<text transform="translate(223.72 56.3) scale(0.71 1)" x="3.595" fill="#0000C2" stroke="#0000C2" font-size="2.057">R</text>
<text transform="translate(223.72 56.3) scale(0.74 1)" x="5.095" fill="#0000C2" stroke="#0000C2" font-size="2.057">T</text>
<text transform="translate(247.5 52.71) scale(0.74 1)" x="0.089" fill="#006464" stroke="#006464" font-size="2.057">U</text>
<text transform="translate(247.5 52.71) scale(0.86 1)" x="1.577" fill="#006464" stroke="#006464" font-size="2.057">4</text>
<line transform="translate(247.5 55.22)" x1="0.273" y1="-0.076" x2="0.959" y2="-0.076" stroke="#006464" stroke-width="0.15"/>
<text transform="translate(247.5 55.22) scale(0.89 1)" x="-0.023" fill="#006464" stroke="#006464" font-size="2.057">1</text>
<text transform="translate(247.5 55.22) scale(0.94 1)" x="1.394" fill="#006464" stroke="#006464" font-size="2.057">6</text>
<text transform="translate(247.5 55.22) scale(0.91 1)" x="2.812 4.166" fill="#006464" stroke="#006464" font-size="2.057">55</text>
<text transform="translate(247.5 55.22) scale(0.9 1)" x="5.587" fill="#006464" stroke="#006464" font-size="2.057">0</text>
<line x1="245.11" y1="139.7" x2="245.11" y2="140.97" stroke="#840000" stroke-width="0.152"/>
<line x1="243.84" y1="140.97" x2="246.38" y2="140.97" stroke="#840000" stroke-width="0.152"/>
<line x1="244.475" y1="141.605" x2="245.745" y2="141.605" stroke="#840000" stroke-width="0.152"/>
<line x1="244.983" y1="142.24" x2="245.237" y2="142.24" stroke="#840000" stroke-width="0.152"/>
<rect x="24.13" y="171.45" width="10.16" height="15.24" fill="#FFFFC2" stroke="#840000" stroke-width="0.254"/>
<line x1="29.21" y1="166.37" x2="29.21" y2="171.45" stroke="#840000" stroke-width="0.152"/>
<line transform="translate(28.85 168.91) rotate(-90)" x1="-0.959" y1="-0.076" x2="-0.273" y2="-0.076" stroke="#A90000" stroke-width="0.15"/>
<text transform="translate(28.85 168.91) rotate(-90) scale(0.89 1)" x="-1.407" fill="#A90000" stroke="#A90000" font-size="2.057">1</text>
<text transform="translate(28.85 168.91) rotate(-90) scale(0.86 1)" x="0.144" fill="#A90000" stroke="#A90000" font-size="2.057">4</text>
<text transform="translate(29.88 172.05) rotate(-90) scale(0.7 1)" x="-5.086" fill="#006464" stroke="#006464" font-size="2.057">V</text>
<text transform="translate(29.88 172.05) rotate(-90) scale(0.66 1)" x="-3.543 -1.676" fill="#006464" stroke="#006464" font-size="2.057">CC</text>
<line x1="29.21" y1="186.69" x2="29.21" y2="191.77" stroke="#840000" stroke-width="0.152"/>
<text transform="translate(28.85 189.23) rotate(-90) scale(0.95 1)" x="-0.572" fill="#A90000" stroke="#A90000" font-size="2.057">7</text>
<text transform="translate(29.88 186.19) rotate(-90) scale(0.64 1)" x="0.162" fill="#006464" stroke="#006464" font-size="2.057">G</text>
<text transform="translate(29.88 186.19) rotate(-90) scale(0.75 1)" x="1.721" fill="#006464" stroke="#006464" font-size="2.057">N</text>
<text transform="translate(29.88 186.19) rotate(-90) scale(0.71 1)" x="3.595" fill="#006464" stroke="#006464" font-size="2.057">D</text>
<line x1="29.21" y1="191.77" x2="29.21" y2="193.04" stroke="#840000" stroke-width="0.152"/>
<line x1="27.94" y1="193.04" x2="30.48" y2="193.04" stroke="#840000" stroke-width="0.152"/>
<line x1="28.575" y1="193.675" x2="29.845" y2="193.675" stroke="#840000" stroke-width="0.152"/>
<line x1="29.083" y1="194.31" x2="29.337" y2="194.31" stroke="#840000" stroke-width="0.152"/>
<text transform="translate(35.8 178.4) scale(0.74 1)" x="0.089" fill="#006464" stroke="#006464" font-size="2.057">U</text>
<text transform="translate(35.8 178.4) scale(0.91 1)" x="1.458" fill="#006464" stroke="#006464" font-size="2.057">5</text>
<text transform="translate(35.8 178.4) scale(0.64 1)" x="4.012" fill="#006464" stroke="#006464" font-size="2.057">G</text>
<text transform="translate(35.8 180.9) scale(0.95 1)" x="0.076" fill="#006464" stroke="#006464" font-size="2.057">7</text>
<text transform="translate(35.8 180.9) scale(0.86 1)" x="1.577" fill="#006464" stroke="#006464" font-size="2.057">4</text>
<text transform="translate(35.8 180.9) scale(0.87 1)" x="2.88" fill="#006464" stroke="#006464" font-size="2.057">L</text>
<text transform="translate(35.8 180.9) scale(0.73 1)" x="5.011" fill="#006464" stroke="#006464" font-size="2.057">S</text>
<text transform="translate(35.8 180.9) scale(0.9 1)" x="5.418" fill="#006464" stroke="#006464" font-size="2.057">0</text>
<text transform="translate(35.8 180.9) scale(0.86 1)" x="7.129" fill="#006464" stroke="#006464" font-size="2.057">4</text>
<line x1="171.45" y1="33.02" x2="171.45" y2="36.83" stroke="#840000" stroke-width="0.152"/>
<line transform="translate(171.09 34.925) rotate(-90)" x1="-0.343" y1="-0.076" x2="0.343" y2="-0.076" stroke="#A90000" stroke-width="0.15"/>
<text transform="translate(171.09 34.925) rotate(-90) scale(0.89 1)" x="-0.715" fill="#A90000" stroke="#A90000" font-size="2.057">1</text>
<polygon points="167.64,36.83 175.26,36.83 171.45,44.45" stroke="#840000" stroke-width="0.254" fill="#FFFFC2"/>
<circle cx="171.45" cy="45.085" r="0.635" stroke="#840000" stroke-width="0.152" fill="none"/>
<line x1="171.45" y1="45.72" x2="171.45" y2="48.26" stroke="#840000" stroke-width="0.152"/>
<text transform="translate(171.09 46.355) rotate(-90) scale(0.95 1)" x="-0.572" fill="#A90000" stroke="#A90000" font-size="2.057">2</text>
<text transform="translate(176.75 39.99) scale(0.74 1)" x="0.089" fill="#006464" stroke="#006464" font-size="2.057">U</text>
<text transform="translate(176.75 39.99) scale(0.91 1)" x="1.458" fill="#006464" stroke="#006464" font-size="2.057">5</text>
<text transform="translate(176.75 39.99) scale(0.7 1)" x="3.714" fill="#006464" stroke="#006464" font-size="2.057">A</text>
<text transform="translate(176.75 42.56) scale(0.95 1)" x="0.076" fill="#006464" stroke="#006464" font-size="2.057">7</text>
<text transform="translate(176.75 42.56) scale(0.86 1)" x="1.577" fill="#006464" stroke="#006464" font-size="2.057">4</text>
<text transform="translate(176.75 42.56) scale(0.87 1)" x="2.88" fill="#006464" stroke="#006464" font-size="2.057">L</text>
<text transform="translate(176.75 42.56) scale(0.73 1)" x="5.011" fill="#006464" stroke="#006464" font-size="2.057">S</text>
<text transform="translate(176.75 42.56) scale(0.9 1)" x="5.418" fill="#006464" stroke="#006464" font-size="2.057">0</text>
<text transform="translate(176.75 42.56) scale(0.86 1)" x="7.129" fill="#006464" stroke="#006464" font-size="2.057">4</text>
<line x1="187.96" y1="33.02" x2="187.96" y2="36.83" stroke="#840000" stroke-width="0.152"/>
<text transform="translate(187.6 34.925) rotate(-90) scale(0.91 1)" x="-0.572" fill="#A90000" stroke="#A90000" font-size="2.057">3</text>
<polygon points="184.15,36.83 191.77,36.83 187.96,44.45" stroke="#840000" stroke-width="0.254" fill="#FFFFC2"/>
<circle cx="187.96" cy="45.085" r="0.635" stroke="#840000" stroke-width="0.152" fill="none"/>
<line x1="187.96" y1="45.72" x2="187.96" y2="48.26" stroke="#840000" stroke-width="0.152"/>
<text transform="translate(187.6 46.355) rotate(-90) scale(0.86 1)" x="-0.572" fill="#A90000" stroke="#A90000" font-size="2.057">4</text>
<text transform="translate(193.3 39.99) scale(0.74 1)" x="0.089" fill="#006464" stroke="#006464" font-size="2.057">U</text>
<text transform="translate(193.3 39.99) scale(0.91 1)" x="1.458" fill="#006464" stroke="#006464" font-size="2.057">5</text>
<text transform="translate(193.3 39.99) scale(0.79 1)" x="3.212" fill="#006464" stroke="#006464" font-size="2.057">B</text>
<text transform="translate(193.3 42.56) scale(0.95 1)" x="0.076" fill="#006464" stroke="#006464" font-size="2.057">7</text>
<text transform="translate(193.3 42.56) scale(0.86 1)" x="1.577" fill="#006464" stroke="#006464" font-size="2.057">4</text>
<text transform="translate(193.3 42.56) scale(0.87 1)" x="2.88" fill="#006464" stroke="#006464" font-size="2.057">L</text>
<text transform="translate(193.3 42.56) scale(0.73 1)" x="5.011" fill="#006464" stroke="#006464" font-size="2.057">S</text>
<text transform="translate(193.3 42.56) scale(0.9 1)" x="5.418" fill="#006464" stroke="#006464" font-size="2.057">0</text>
<text transform="translate(193.3 42.56) scale(0.86 1)" x="7.129" fill="#006464" stroke="#006464" font-size="2.057">4</text>
<polyline points="30.48,74.93 30.48,20.32 212.09,20.32 212.09,76.2" stroke="#000084" stroke-width="0.305" fill="none"/>
<polyline points="119.38,20.32 119.38,74.93" stroke="#000084" stroke-width="0.305" fill="none"/>
<polyline points="165.1,20.32 165.1,74.93" stroke="#000084" stroke-width="0.305" fill="none"/>
<polyline points="71.12,95.25 71.12,21.59 210.82,21.59 210.82,88.9" stroke="#000084" stroke-width="0.305" fill="none"/>
<polyline points="78.74,21.59 78.74,92.71" stroke="#000084" stroke-width="0.305" fill="none"/>
<polyline points="129.54,21.59 129.54,92.71" stroke="#000084" stroke-width="0.305" fill="none"/>
<polyline points="63.5,102.87 72.39,102.87 72.39,22.86 209.55,22.86 209.55,116.84 219.71,116.84" stroke="#009600" stroke-width="0.152" fill="none"/>
<polyline points="120.65,22.86 120.65,90.17 111.76,90.17" stroke="#009600" stroke-width="0.152" fill="none"/>
<polyline points="128.27,22.86 128.27,100.33 137.16,100.33" stroke="#009600" stroke-width="0.152" fill="none"/>
<polyline points="38.1,82.55 29.21,82.55 29.21,24.13 171.45,24.13 171.45,33.02" stroke="#009600" stroke-width="0.152" fill="none"/>
<polyline points="24.13,71.12 29.21,71.12" stroke="#009600" stroke-width="0.152" fill="none"/>
<polyline points="38.1,87.63 27.94,87.63 27.94,25.4 187.96,25.4 187.96,33.02" stroke="#009600" stroke-width="0.152" fill="none"/>
<polyline points="171.45,48.26 171.45,132.08 219.71,132.08" stroke="#009600" stroke-width="0.152" fill="none"/>
<polyline points="187.96,48.26 187.96,129.54 219.71,129.54" stroke="#009600" stroke-width="0.152" fill="none"/>
<polyline points="219.71,119.38 209.55,119.38" stroke="#009600" stroke-width="0.152" fill="none"/>
<polyline points="38.1,113.03 33.02,113.03" stroke="#009600" stroke-width="0.152" fill="none"/>
<polyline points="38.1,115.57 22.86,115.57 22.86,127" stroke="#009600" stroke-width="0.152" fill="none"/>
<polyline points="38.1,118.11 33.02,118.11 33.02,127" stroke="#009600" stroke-width="0.152" fill="none"/>
<polyline points="22.86,124.46 25.4,124.46" stroke="#009600" stroke-width="0.152" fill="none"/>
<polyline points="30.48,124.46 33.02,124.46" stroke="#009600" stroke-width="0.152" fill="none"/>
<polyline points="33.02,59.69 38.1,59.69" stroke="#009600" stroke-width="0.152" fill="none"/>
<line x1="33.02" y1="59.69" x2="30.48" y2="57.15" stroke="#009600" stroke-width="0.152"/>
<polyline points="111.76,59.69 116.84,59.69" stroke="#009600" stroke-width="0.152" fill="none"/>
<line x1="116.84" y1="59.69" x2="119.38" y2="57.15" stroke="#009600" stroke-width="0.152"/>
<polyline points="157.48,59.69 162.56,59.69" stroke="#009600" stroke-width="0.152" fill="none"/>
<line x1="162.56" y1="59.69" x2="165.1" y2="57.15" stroke="#009600" stroke-width="0.152"/>
<polyline points="214.63,60.96 219.71,60.96" stroke="#009600" stroke-width="0.152" fill="none"/>
<line x1="214.63" y1="60.96" x2="212.09" y2="58.42" stroke="#009600" stroke-width="0.152"/>
<polyline points="33.02,62.23 38.1,62.23" stroke="#009600" stroke-width="0.152" fill="none"/>
<line x1="33.02" y1="62.23" x2="30.48" y2="59.69" stroke="#009600" stroke-width="0.152"/>
<polyline points="111.76,62.23 116.84,62.23" stroke="#009600" stroke-width="0.152" fill="none"/>
<line x1="116.84" y1="62.23" x2="119.38" y2="59.69" stroke="#009600" stroke-width="0.152"/>
<polyline points="157.48,62.23 162.56,62.23" stroke="#009600" stroke-width="0.152" fill="none"/>
<line x1="162.56" y1="62.23" x2="165.1" y2="59.69" stroke="#009600" stroke-width="0.152"/>
<polyline points="214.63,63.5 219.71,63.5" stroke="#009600" stroke-width="0.152" fill="none"/>
<line x1="214.63" y1="63.5" x2="212.09" y2="60.96" stroke="#009600" stroke-width="0.152"/>
<polyline points="33.02,64.77 38.1,64.77" stroke="#009600" stroke-width="0.152" fill="none"/>
<line x1="33.02" y1="64.77" x2="30.48" y2="62.23" stroke="#009600" stroke-width="0.152"/>
<polyline points="111.76,64.77 116.84,64.77" stroke="#009600" stroke-width="0.152" fill="none"/>
<line x1="116.84" y1="64.77" x2="119.38" y2="62.23" stroke="#009600" stroke-width="0.152"/>
<polyline points="157.48,64.77 162.56,64.77" stroke="#009600" stroke-width="0.152" fill="none"/>
<line x1="162.56" y1="64.77" x2="165.1" y2="62.23" stroke="#009600" stroke-width="0.152"/>
<polyline points="214.63,66.04 219.71,66.04" stroke="#009600" stroke-width="0.152" fill="none"/>
<line x1="214.63" y1="66.04" x2="212.09" y2="63.5" stroke="#009600" stroke-width="0.152"/>
<polyline points="33.02,67.31 38.1,67.31" stroke="#009600" stroke-width="0.152" fill="none"/>
<line x1="33.02" y1="67.31" x2="30.48" y2="64.77" stroke="#009600" stroke-width="0.152"/>
<polyline points="111.76,67.31 116.84,67.31" stroke="#009600" stroke-width="0.152" fill="none"/>
<line x1="116.84" y1="67.31" x2="119.38" y2="64.77" stroke="#009600" stroke-width="0.152"/>
<polyline points="157.48,67.31 162.56,67.31" stroke="#009600" stroke-width="0.152" fill="none"/>
<line x1="162.56" y1="67.31" x2="165.1" y2="64.77" stroke="#009600" stroke-width="0.152"/>
<polyline points="214.63,68.58 219.71,68.58" stroke="#009600" stroke-width="0.152" fill="none"/>
<line x1="214.63" y1="68.58" x2="212.09" y2="66.04" stroke="#009600" stroke-width="0.152"/>
<polyline points="33.02,69.85 38.1,69.85" stroke="#009600" stroke-width="0.152" fill="none"/>
<line x1="33.02" y1="69.85" x2="30.48" y2="67.31" stroke="#009600" stroke-width="0.152"/>
<polyline points="111.76,69.85 116.84,69.85" stroke="#009600" stroke-width="0.152" fill="none"/>
<line x1="116.84" y1="69.85" x2="119.38" y2="67.31" stroke="#009600" stroke-width="0.152"/>
<polyline points="157.48,69.85 162.56,69.85" stroke="#009600" stroke-width="0.152" fill="none"/>
<line x1="162.56" y1="69.85" x2="165.1" y2="67.31" stroke="#009600" stroke-width="0.152"/>
<polyline points="214.63,71.12 219.71,71.12" stroke="#009600" stroke-width="0.152" fill="none"/>
<line x1="214.63" y1="71.12" x2="212.09" y2="68.58" stroke="#009600" stroke-width="0.152"/>
<polyline points="33.02,72.39 38.1,72.39" stroke="#009600" stroke-width="0.152" fill="none"/>
<line x1="33.02" y1="72.39" x2="30.48" y2="69.85" stroke="#009600" stroke-width="0.152"/>
<polyline points="111.76,72.39 116.84,72.39" stroke="#009600" stroke-width="0.152" fill="none"/>
<line x1="116.84" y1="72.39" x2="119.38" y2="69.85" stroke="#009600" stroke-width="0.152"/>
<polyline points="157.48,72.39 162.56,72.39" stroke="#009600" stroke-width="0.152" fill="none"/>
<line x1="162.56" y1="72.39" x2="165.1" y2="69.85" stroke="#009600" stroke-width="0.152"/>
<polyline points="214.63,73.66 219.71,73.66" stroke="#009600" stroke-width="0.152" fill="none"/>
<line x1="214.63" y1="73.66" x2="212.09" y2="71.12" stroke="#009600" stroke-width="0.152"/>
<polyline points="33.02,74.93 38.1,74.93" stroke="#009600" stroke-width="0.152" fill="none"/>
<line x1="33.02" y1="74.93" x2="30.48" y2="72.39" stroke="#009600" stroke-width="0.152"/>
<polyline points="111.76,74.93 116.84,74.93" stroke="#009600" stroke-width="0.152" fill="none"/>
<line x1="116.84" y1="74.93" x2="119.38" y2="72.39" stroke="#009600" stroke-width="0.152"/>
<polyline points="157.48,74.93 162.56,74.93" stroke="#009600" stroke-width="0.152" fill="none"/>
<line x1="162.56" y1="74.93" x2="165.1" y2="72.39" stroke="#009600" stroke-width="0.152"/>
<polyline points="214.63,76.2 219.71,76.2" stroke="#009600" stroke-width="0.152" fill="none"/>
<line x1="214.63" y1="76.2" x2="212.09" y2="73.66" stroke="#009600" stroke-width="0.152"/>
<polyline points="33.02,77.47 38.1,77.47" stroke="#009600" stroke-width="0.152" fill="none"/>
<line x1="33.02" y1="77.47" x2="30.48" y2="74.93" stroke="#009600" stroke-width="0.152"/>
<polyline points="111.76,77.47 116.84,77.47" stroke="#009600" stroke-width="0.152" fill="none"/>
<line x1="116.84" y1="77.47" x2="119.38" y2="74.93" stroke="#009600" stroke-width="0.152"/>
<polyline points="157.48,77.47 162.56,77.47" stroke="#009600" stroke-width="0.152" fill="none"/>
<line x1="162.56" y1="77.47" x2="165.1" y2="74.93" stroke="#009600" stroke-width="0.152"/>
<polyline points="214.63,78.74 219.71,78.74" stroke="#009600" stroke-width="0.152" fill="none"/>
<line x1="214.63" y1="78.74" x2="212.09" y2="76.2" stroke="#009600" stroke-width="0.152"/>
<polyline points="63.5,59.69 68.58,59.69" stroke="#009600" stroke-width="0.152" fill="none"/>
<line x1="68.58" y1="59.69" x2="71.12" y2="57.15" stroke="#009600" stroke-width="0.152"/>
<polyline points="63.5,62.23 68.58,62.23" stroke="#009600" stroke-width="0.152" fill="none"/>
<line x1="68.58" y1="62.23" x2="71.12" y2="59.69" stroke="#009600" stroke-width="0.152"/>
<polyline points="63.5,64.77 68.58,64.77" stroke="#009600" stroke-width="0.152" fill="none"/>
<line x1="68.58" y1="64.77" x2="71.12" y2="62.23" stroke="#009600" stroke-width="0.152"/>
<polyline points="63.5,67.31 68.58,67.31" stroke="#009600" stroke-width="0.152" fill="none"/>
<line x1="68.58" y1="67.31" x2="71.12" y2="64.77" stroke="#009600" stroke-width="0.152"/>
<polyline points="63.5,69.85 68.58,69.85" stroke="#009600" stroke-width="0.152" fill="none"/>
<line x1="68.58" y1="69.85" x2="71.12" y2="67.31" stroke="#009600" stroke-width="0.152"/>
<polyline points="63.5,72.39 68.58,72.39" stroke="#009600" stroke-width="0.152" fill="none"/>
<line x1="68.58" y1="72.39" x2="71.12" y2="69.85" stroke="#009600" stroke-width="0.152"/>
<polyline points="63.5,74.93 68.58,74.93" stroke="#009600" stroke-width="0.152" fill="none"/>
<line x1="68.58" y1="74.93" x2="71.12" y2="72.39" stroke="#009600" stroke-width="0.152"/>
<polyline points="63.5,77.47 68.58,77.47" stroke="#009600" stroke-width="0.152" fill="none"/>
<line x1="68.58" y1="77.47" x2="71.12" y2="74.93" stroke="#009600" stroke-width="0.152"/>
<polyline points="63.5,80.01 68.58,80.01" stroke="#009600" stroke-width="0.152" fill="none"/>
<line x1="68.58" y1="80.01" x2="71.12" y2="77.47" stroke="#009600" stroke-width="0.152"/>
<polyline points="63.5,82.55 68.58,82.55" stroke="#009600" stroke-width="0.152" fill="none"/>
<line x1="68.58" y1="82.55" x2="71.12" y2="80.01" stroke="#009600" stroke-width="0.152"/>
<polyline points="63.5,85.09 68.58,85.09" stroke="#009600" stroke-width="0.152" fill="none"/>
<line x1="68.58" y1="85.09" x2="71.12" y2="82.55" stroke="#009600" stroke-width="0.152"/>
<polyline points="63.5,87.63 68.58,87.63" stroke="#009600" stroke-width="0.152" fill="none"/>
<line x1="68.58" y1="87.63" x2="71.12" y2="85.09" stroke="#009600" stroke-width="0.152"/>
<polyline points="63.5,90.17 68.58,90.17" stroke="#009600" stroke-width="0.152" fill="none"/>
<line x1="68.58" y1="90.17" x2="71.12" y2="87.63" stroke="#009600" stroke-width="0.152"/>
<polyline points="63.5,92.71 68.58,92.71" stroke="#009600" stroke-width="0.152" fill="none"/>
<line x1="68.58" y1="92.71" x2="71.12" y2="90.17" stroke="#009600" stroke-width="0.152"/>
<polyline points="63.5,95.25 68.58,95.25" stroke="#009600" stroke-width="0.152" fill="none"/>
<line x1="68.58" y1="95.25" x2="71.12" y2="92.71" stroke="#009600" stroke-width="0.152"/>
<polyline points="63.5,97.79 68.58,97.79" stroke="#009600" stroke-width="0.152" fill="none"/>
<line x1="68.58" y1="97.79" x2="71.12" y2="95.25" stroke="#009600" stroke-width="0.152"/>
<polyline points="81.28,59.69 86.36,59.69" stroke="#009600" stroke-width="0.152" fill="none"/>
<line x1="81.28" y1="59.69" x2="78.74" y2="57.15" stroke="#009600" stroke-width="0.152"/>
<polyline points="132.08,59.69 137.16,59.69" stroke="#009600" stroke-width="0.152" fill="none"/>
<line x1="132.08" y1="59.69" x2="129.54" y2="57.15" stroke="#009600" stroke-width="0.152"/>
<polyline points="81.28,62.23 86.36,62.23" stroke="#009600" stroke-width="0.152" fill="none"/>
<line x1="81.28" y1="62.23" x2="78.74" y2="59.69" stroke="#009600" stroke-width="0.152"/>
<polyline points="132.08,62.23 137.16,62.23" stroke="#009600" stroke-width="0.152" fill="none"/>
<line x1="132.08" y1="62.23" x2="129.54" y2="59.69" stroke="#009600" stroke-width="0.152"/>
<polyline points="81.28,64.77 86.36,64.77" stroke="#009600" stroke-width="0.152" fill="none"/>
<line x1="81.28" y1="64.77" x2="78.74" y2="62.23" stroke="#009600" stroke-width="0.152"/>
<polyline points="132.08,64.77 137.16,64.77" stroke="#009600" stroke-width="0.152" fill="none"/>
<line x1="132.08" y1="64.77" x2="129.54" y2="62.23" stroke="#009600" stroke-width="0.152"/>
<polyline points="81.28,67.31 86.36,67.31" stroke="#009600" stroke-width="0.152" fill="none"/>
<line x1="81.28" y1="67.31" x2="78.74" y2="64.77" stroke="#009600" stroke-width="0.152"/>
<polyline points="132.08,67.31 137.16,67.31" stroke="#009600" stroke-width="0.152" fill="none"/>
<line x1="132.08" y1="67.31" x2="129.54" y2="64.77" stroke="#009600" stroke-width="0.152"/>
<polyline points="81.28,69.85 86.36,69.85" stroke="#009600" stroke-width="0.152" fill="none"/>
<line x1="81.28" y1="69.85" x2="78.74" y2="67.31" stroke="#009600" stroke-width="0.152"/>
<polyline points="132.08,69.85 137.16,69.85" stroke="#009600" stroke-width="0.152" fill="none"/>
<line x1="132.08" y1="69.85" x2="129.54" y2="67.31" stroke="#009600" stroke-width="0.152"/>
<polyline points="81.28,72.39 86.36,72.39" stroke="#009600" stroke-width="0.152" fill="none"/>
<line x1="81.28" y1="72.39" x2="78.74" y2="69.85" stroke="#009600" stroke-width="0.152"/>
<polyline points="132.08,72.39 137.16,72.39" stroke="#009600" stroke-width="0.152" fill="none"/>
<line x1="132.08" y1="72.39" x2="129.54" y2="69.85" stroke="#009600" stroke-width="0.152"/>
<polyline points="81.28,74.93 86.36,74.93" stroke="#009600" stroke-width="0.152" fill="none"/>
<line x1="81.28" y1="74.93" x2="78.74" y2="72.39" stroke="#009600" stroke-width="0.152"/>
<polyline points="132.08,74.93 137.16,74.93" stroke="#009600" stroke-width="0.152" fill="none"/>
<line x1="132.08" y1="74.93" x2="129.54" y2="72.39" stroke="#009600" stroke-width="0.152"/>
<polyline points="81.28,77.47 86.36,77.47" stroke="#009600" stroke-width="0.152" fill="none"/>
<line x1="81.28" y1="77.47" x2="78.74" y2="74.93" stroke="#009600" stroke-width="0.152"/>
<polyline points="132.08,77.47 137.16,77.47" stroke="#009600" stroke-width="0.152" fill="none"/>
<line x1="132.08" y1="77.47" x2="129.54" y2="74.93" stroke="#009600" stroke-width="0.152"/>
<polyline points="81.28,80.01 86.36,80.01" stroke="#009600" stroke-width="0.152" fill="none"/>
<line x1="81.28" y1="80.01" x2="78.74" y2="77.47" stroke="#009600" stroke-width="0.152"/>
<polyline points="132.08,80.01 137.16,80.01" stroke="#009600" stroke-width="0.152" fill="none"/>
<line x1="132.08" y1="80.01" x2="129.54" y2="77.47" stroke="#009600" stroke-width="0.152"/>
<polyline points="81.28,82.55 86.36,82.55" stroke="#009600" stroke-width="0.152" fill="none"/>
<line x1="81.28" y1="82.55" x2="78.74" y2="80.01" stroke="#009600" stroke-width="0.152"/>
<polyline points="132.08,82.55 137.16,82.55" stroke="#009600" stroke-width="0.152" fill="none"/>
<line x1="132.08" y1="82.55" x2="129.54" y2="80.01" stroke="#009600" stroke-width="0.152"/>
<polyline points="81.28,85.09 86.36,85.09" stroke="#009600" stroke-width="0.152" fill="none"/>
<line x1="81.28" y1="85.09" x2="78.74" y2="82.55" stroke="#009600" stroke-width="0.152"/>
<polyline points="132.08,85.09 137.16,85.09" stroke="#009600" stroke-width="0.152" fill="none"/>
<line x1="132.08" y1="85.09" x2="129.54" y2="82.55" stroke="#009600" stroke-width="0.152"/>
<polyline points="81.28,87.63 86.36,87.63" stroke="#009600" stroke-width="0.152" fill="none"/>
<line x1="81.28" y1="87.63" x2="78.74" y2="85.09" stroke="#009600" stroke-width="0.152"/>
<polyline points="132.08,87.63 137.16,87.63" stroke="#009600" stroke-width="0.152" fill="none"/>
<line x1="132.08" y1="87.63" x2="129.54" y2="85.09" stroke="#009600" stroke-width="0.152"/>
<polyline points="81.28,90.17 86.36,90.17" stroke="#009600" stroke-width="0.152" fill="none"/>
<line x1="81.28" y1="90.17" x2="78.74" y2="87.63" stroke="#009600" stroke-width="0.152"/>
<polyline points="132.08,90.17 137.16,90.17" stroke="#009600" stroke-width="0.152" fill="none"/>
<line x1="132.08" y1="90.17" x2="129.54" y2="87.63" stroke="#009600" stroke-width="0.152"/>
<polyline points="81.28,92.71 86.36,92.71" stroke="#009600" stroke-width="0.152" fill="none"/>
<line x1="81.28" y1="92.71" x2="78.74" y2="90.17" stroke="#009600" stroke-width="0.152"/>
<polyline points="132.08,92.71 137.16,92.71" stroke="#009600" stroke-width="0.152" fill="none"/>
<line x1="132.08" y1="92.71" x2="129.54" y2="90.17" stroke="#009600" stroke-width="0.152"/>
<polyline points="81.28,95.25 86.36,95.25" stroke="#009600" stroke-width="0.152" fill="none"/>
<line x1="81.28" y1="95.25" x2="78.74" y2="92.71" stroke="#009600" stroke-width="0.152"/>
<polyline points="132.08,95.25 137.16,95.25" stroke="#009600" stroke-width="0.152" fill="none"/>
<line x1="132.08" y1="95.25" x2="129.54" y2="92.71" stroke="#009600" stroke-width="0.152"/>
<polyline points="213.36,83.82 219.71,83.82" stroke="#009600" stroke-width="0.152" fill="none"/>
<line x1="213.36" y1="83.82" x2="210.82" y2="81.28" stroke="#009600" stroke-width="0.152"/>
<polyline points="213.36,86.36 219.71,86.36" stroke="#009600" stroke-width="0.152" fill="none"/>
<line x1="213.36" y1="86.36" x2="210.82" y2="83.82" stroke="#009600" stroke-width="0.152"/>
<polyline points="213.36,88.9 219.71,88.9" stroke="#009600" stroke-width="0.152" fill="none"/>
<line x1="213.36" y1="88.9" x2="210.82" y2="86.36" stroke="#009600" stroke-width="0.152"/>
<polyline points="213.36,91.44 219.71,91.44" stroke="#009600" stroke-width="0.152" fill="none"/>
<line x1="213.36" y1="91.44" x2="210.82" y2="88.9" stroke="#009600" stroke-width="0.152"/>
<polyline points="50.8,40.64 50.8,54.61" stroke="#009600" stroke-width="0.152" fill="none"/>
<polyline points="45.72,43.18 50.8,43.18" stroke="#009600" stroke-width="0.152" fill="none"/>
<polyline points="99.06,41.91 99.06,54.61" stroke="#009600" stroke-width="0.152" fill="none"/>
<polyline points="93.98,44.45 99.06,44.45" stroke="#009600" stroke-width="0.152" fill="none"/>
<polyline points="147.32,41.91 147.32,54.61" stroke="#009600" stroke-width="0.152" fill="none"/>
<polyline points="142.24,44.45 147.32,44.45" stroke="#009600" stroke-width="0.152" fill="none"/>
<polyline points="245.11,40.64 245.11,53.34" stroke="#009600" stroke-width="0.152" fill="none"/>
<polyline points="240.03,43.18 245.11,43.18" stroke="#009600" stroke-width="0.152" fill="none"/>
<polyline points="29.21,157.48 29.21,166.37" stroke="#009600" stroke-width="0.152" fill="none"/>
<polyline points="24.13,160.02 29.21,160.02" stroke="#009600" stroke-width="0.152" fill="none"/>
<circle cx="119.38" cy="20.32" r="0.457" fill="#000084"/>
<circle cx="165.1" cy="20.32" r="0.457" fill="#000084"/>
<circle cx="78.74" cy="21.59" r="0.457" fill="#000084"/>
<circle cx="129.54" cy="21.59" r="0.457" fill="#000084"/>
<circle cx="120.65" cy="22.86" r="0.457" fill="#009600"/>
<circle cx="128.27" cy="22.86" r="0.457" fill="#009600"/>
<circle cx="29.21" cy="71.12" r="0.457" fill="#009600"/>
<circle cx="22.86" cy="124.46" r="0.457" fill="#009600"/>
<circle cx="33.02" cy="124.46" r="0.457" fill="#009600"/>
<circle cx="50.8" cy="43.18" r="0.457" fill="#009600"/>
<circle cx="99.06" cy="44.45" r="0.457" fill="#009600"/>
<circle cx="147.32" cy="44.45" r="0.457" fill="#009600"/>
<circle cx="245.11" cy="43.18" r="0.457" fill="#009600"/>
<circle cx="29.21" cy="160.02" r="0.457" fill="#009600"/></g></svg></div></body></html>
